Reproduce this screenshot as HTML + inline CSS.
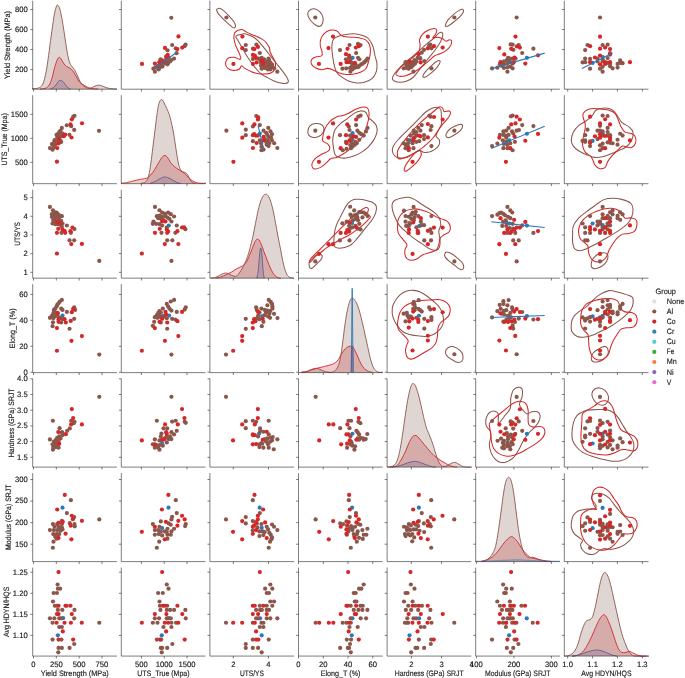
<!DOCTYPE html><html><head><meta charset="utf-8"><style>html,body{margin:0;padding:0;background:#fff;}svg{display:block;will-change:transform;text-rendering:geometricPrecision;}</style></head><body><svg width="685" height="678" viewBox="0 0 685 678" font-family="&quot;Liberation Sans&quot;, sans-serif"><path d="M32.00 88.72C32.89 88.65 35.76 88.72 37.31 88.32C38.86 87.92 40.19 87.55 41.30 86.33C42.40 85.11 43.07 83.89 43.95 81.02C44.84 78.14 45.72 74.15 46.61 69.06C47.49 63.97 48.38 56.89 49.27 50.47C50.15 44.05 51.04 36.74 51.92 30.55C52.81 24.35 53.80 17.38 54.58 13.28C55.35 9.19 56.02 7.30 56.57 5.98C57.12 4.65 57.35 4.76 57.90 5.31C58.45 5.87 59.23 7.08 59.89 9.30C60.55 11.51 61.22 15.05 61.88 18.59C62.55 22.14 63.21 26.34 63.88 30.55C64.54 34.75 65.20 39.62 65.87 43.83C66.53 48.03 67.20 52.57 67.86 55.78C68.52 58.99 69.19 61.32 69.85 63.09C70.52 64.86 71.07 65.30 71.84 66.41C72.62 67.51 73.61 68.29 74.50 69.73C75.39 71.17 76.27 73.16 77.16 75.04C78.04 76.92 78.93 79.36 79.81 81.02C80.70 82.68 81.58 84.00 82.47 85.00C83.35 86.00 84.13 86.44 85.12 86.99C86.12 87.55 87.45 88.17 88.45 88.32C89.44 88.48 90.11 88.25 91.10 87.92C92.10 87.59 93.32 86.77 94.42 86.33C95.53 85.89 96.75 85.42 97.74 85.27C98.74 85.11 99.40 85.18 100.40 85.40C101.39 85.62 102.61 86.17 103.72 86.59C104.83 87.01 105.71 87.57 107.04 87.92C108.37 88.28 110.03 88.54 111.69 88.72C113.35 88.90 116.11 88.94 117.00 88.98L117.00 89.20L32.00 89.20Z" fill="#7f5a54" fill-opacity="0.25" stroke="none"/><path d="M32.00 88.72C32.89 88.65 35.76 88.72 37.31 88.32C38.86 87.92 40.19 87.55 41.30 86.33C42.40 85.11 43.07 83.89 43.95 81.02C44.84 78.14 45.72 74.15 46.61 69.06C47.49 63.97 48.38 56.89 49.27 50.47C50.15 44.05 51.04 36.74 51.92 30.55C52.81 24.35 53.80 17.38 54.58 13.28C55.35 9.19 56.02 7.30 56.57 5.98C57.12 4.65 57.35 4.76 57.90 5.31C58.45 5.87 59.23 7.08 59.89 9.30C60.55 11.51 61.22 15.05 61.88 18.59C62.55 22.14 63.21 26.34 63.88 30.55C64.54 34.75 65.20 39.62 65.87 43.83C66.53 48.03 67.20 52.57 67.86 55.78C68.52 58.99 69.19 61.32 69.85 63.09C70.52 64.86 71.07 65.30 71.84 66.41C72.62 67.51 73.61 68.29 74.50 69.73C75.39 71.17 76.27 73.16 77.16 75.04C78.04 76.92 78.93 79.36 79.81 81.02C80.70 82.68 81.58 84.00 82.47 85.00C83.35 86.00 84.13 86.44 85.12 86.99C86.12 87.55 87.45 88.17 88.45 88.32C89.44 88.48 90.11 88.25 91.10 87.92C92.10 87.59 93.32 86.77 94.42 86.33C95.53 85.89 96.75 85.42 97.74 85.27C98.74 85.11 99.40 85.18 100.40 85.40C101.39 85.62 102.61 86.17 103.72 86.59C104.83 87.01 105.71 87.57 107.04 87.92C108.37 88.28 110.03 88.54 111.69 88.72C113.35 88.90 116.11 88.94 117.00 88.98" fill="none" stroke="#8c564b" stroke-width="0.9"/><path d="M39.97 88.98C40.85 88.87 43.73 88.98 45.28 88.32C46.83 87.66 48.16 86.66 49.27 85.00C50.37 83.34 51.04 81.24 51.92 78.36C52.81 75.48 53.69 70.83 54.58 67.73C55.46 64.64 56.46 61.49 57.23 59.77C58.01 58.04 58.56 57.49 59.23 57.38C59.89 57.26 60.44 58.04 61.22 59.10C61.99 60.16 62.99 62.53 63.88 63.75C64.76 64.97 65.65 65.74 66.53 66.41C67.42 67.07 68.30 67.18 69.19 67.73C70.07 68.29 71.07 68.95 71.84 69.73C72.62 70.50 73.06 71.17 73.84 72.38C74.61 73.60 75.61 75.48 76.49 77.03C77.38 78.58 78.15 80.46 79.15 81.68C80.14 82.90 81.25 83.52 82.47 84.34C83.69 85.15 85.35 86.00 86.45 86.59C87.56 87.19 88.00 87.57 89.11 87.92C90.22 88.28 91.54 88.54 93.09 88.72C94.64 88.90 97.52 88.94 98.41 88.98L98.41 89.20L39.97 89.20Z" fill="#bc2e33" fill-opacity="0.25" stroke="none"/><path d="M39.97 88.98C40.85 88.87 43.73 88.98 45.28 88.32C46.83 87.66 48.16 86.66 49.27 85.00C50.37 83.34 51.04 81.24 51.92 78.36C52.81 75.48 53.69 70.83 54.58 67.73C55.46 64.64 56.46 61.49 57.23 59.77C58.01 58.04 58.56 57.49 59.23 57.38C59.89 57.26 60.44 58.04 61.22 59.10C61.99 60.16 62.99 62.53 63.88 63.75C64.76 64.97 65.65 65.74 66.53 66.41C67.42 67.07 68.30 67.18 69.19 67.73C70.07 68.29 71.07 68.95 71.84 69.73C72.62 70.50 73.06 71.17 73.84 72.38C74.61 73.60 75.61 75.48 76.49 77.03C77.38 78.58 78.15 80.46 79.15 81.68C80.14 82.90 81.25 83.52 82.47 84.34C83.69 85.15 85.35 86.00 86.45 86.59C87.56 87.19 88.00 87.57 89.11 87.92C90.22 88.28 91.54 88.54 93.09 88.72C94.64 88.90 97.52 88.94 98.41 88.98" fill="none" stroke="#d62728" stroke-width="0.9"/><path d="M50.59 88.98C51.04 88.76 52.36 88.32 53.25 87.66C54.14 86.99 55.02 86.06 55.91 85.00C56.79 83.94 57.79 82.06 58.56 81.28C59.34 80.51 59.89 80.35 60.55 80.35C61.22 80.35 61.77 80.62 62.55 81.28C63.32 81.95 64.32 83.27 65.20 84.34C66.09 85.40 66.97 86.88 67.86 87.66C68.74 88.43 70.07 88.76 70.52 88.98L70.52 89.20L50.59 89.20Z" fill="#6a6590" fill-opacity="0.25" stroke="none"/><path d="M50.59 88.98C51.04 88.76 52.36 88.32 53.25 87.66C54.14 86.99 55.02 86.06 55.91 85.00C56.79 83.94 57.79 82.06 58.56 81.28C59.34 80.51 59.89 80.35 60.55 80.35C61.22 80.35 61.77 80.62 62.55 81.28C63.32 81.95 64.32 83.27 65.20 84.34C66.09 85.40 66.97 86.88 67.86 87.66C68.74 88.43 70.07 88.76 70.52 88.98" fill="none" stroke="#5f5e8c" stroke-width="0.9"/><path d="M140.92 183.25C141.48 183.16 143.25 183.21 144.24 182.72C145.24 182.23 146.12 181.61 146.90 180.33C147.67 179.04 148.23 177.89 148.89 175.02C149.55 172.14 150.22 167.71 150.88 163.06C151.55 158.41 152.21 152.44 152.88 147.12C153.54 141.81 154.20 136.50 154.87 131.19C155.53 125.88 156.31 119.35 156.86 115.25C157.41 111.15 157.74 108.83 158.19 106.62C158.63 104.40 159.12 103.08 159.52 101.97C159.91 100.86 160.25 100.40 160.58 99.98C160.91 99.56 161.18 99.42 161.51 99.45C161.84 99.47 162.13 99.51 162.57 100.11C163.01 100.71 163.46 101.61 164.16 103.03C164.87 104.45 165.93 106.57 166.82 108.61C167.71 110.65 168.59 112.37 169.48 115.25C170.36 118.13 171.36 122.33 172.13 125.88C172.91 129.42 173.46 132.52 174.12 136.50C174.79 140.48 175.45 145.58 176.12 149.78C176.78 153.99 177.45 158.52 178.11 161.73C178.77 164.94 179.33 167.38 180.10 169.04C180.88 170.70 181.87 171.10 182.76 171.70C183.64 172.29 184.64 172.18 185.41 172.62C186.19 173.07 186.74 173.40 187.41 174.35C188.07 175.30 188.73 177.12 189.40 178.34C190.06 179.55 190.73 180.88 191.39 181.66C192.05 182.43 192.72 182.72 193.38 182.98C194.05 183.25 195.04 183.21 195.38 183.25L195.38 183.68L140.92 183.68Z" fill="#7f5a54" fill-opacity="0.25" stroke="none"/><path d="M140.92 183.25C141.48 183.16 143.25 183.21 144.24 182.72C145.24 182.23 146.12 181.61 146.90 180.33C147.67 179.04 148.23 177.89 148.89 175.02C149.55 172.14 150.22 167.71 150.88 163.06C151.55 158.41 152.21 152.44 152.88 147.12C153.54 141.81 154.20 136.50 154.87 131.19C155.53 125.88 156.31 119.35 156.86 115.25C157.41 111.15 157.74 108.83 158.19 106.62C158.63 104.40 159.12 103.08 159.52 101.97C159.91 100.86 160.25 100.40 160.58 99.98C160.91 99.56 161.18 99.42 161.51 99.45C161.84 99.47 162.13 99.51 162.57 100.11C163.01 100.71 163.46 101.61 164.16 103.03C164.87 104.45 165.93 106.57 166.82 108.61C167.71 110.65 168.59 112.37 169.48 115.25C170.36 118.13 171.36 122.33 172.13 125.88C172.91 129.42 173.46 132.52 174.12 136.50C174.79 140.48 175.45 145.58 176.12 149.78C176.78 153.99 177.45 158.52 178.11 161.73C178.77 164.94 179.33 167.38 180.10 169.04C180.88 170.70 181.87 171.10 182.76 171.70C183.64 172.29 184.64 172.18 185.41 172.62C186.19 173.07 186.74 173.40 187.41 174.35C188.07 175.30 188.73 177.12 189.40 178.34C190.06 179.55 190.73 180.88 191.39 181.66C192.05 182.43 192.72 182.72 193.38 182.98C194.05 183.25 195.04 183.21 195.38 183.25" fill="none" stroke="#8c564b" stroke-width="0.9"/><path d="M121.00 183.25C121.89 183.16 124.54 183.03 126.31 182.72C128.08 182.41 129.85 181.83 131.62 181.39C133.40 180.95 135.17 180.46 136.94 180.06C138.71 179.66 140.70 179.29 142.25 179.00C143.80 178.71 145.13 178.73 146.23 178.34C147.34 177.94 147.78 177.61 148.89 176.61C150.00 175.61 151.55 174.17 152.88 172.36C154.20 170.54 155.53 167.93 156.86 165.72C158.19 163.51 159.91 160.58 160.84 159.08C161.77 157.57 161.88 157.29 162.44 156.69C162.99 156.09 163.59 155.65 164.16 155.49C164.74 155.34 165.29 155.38 165.89 155.76C166.49 156.13 167.04 156.75 167.75 157.75C168.46 158.75 169.30 160.52 170.14 161.73C170.98 162.95 171.69 163.95 172.80 165.05C173.90 166.16 175.45 167.38 176.78 168.38C178.11 169.37 179.44 170.15 180.77 171.03C182.09 171.92 183.42 172.58 184.75 173.69C186.08 174.79 187.41 176.45 188.73 177.67C190.06 178.89 191.39 180.15 192.72 180.99C194.05 181.83 195.38 182.34 196.70 182.72C198.03 183.10 199.14 183.16 200.69 183.25C202.24 183.34 205.11 183.25 206.00 183.25L206.00 183.68L121.00 183.68Z" fill="#bc2e33" fill-opacity="0.25" stroke="none"/><path d="M121.00 183.25C121.89 183.16 124.54 183.03 126.31 182.72C128.08 182.41 129.85 181.83 131.62 181.39C133.40 180.95 135.17 180.46 136.94 180.06C138.71 179.66 140.70 179.29 142.25 179.00C143.80 178.71 145.13 178.73 146.23 178.34C147.34 177.94 147.78 177.61 148.89 176.61C150.00 175.61 151.55 174.17 152.88 172.36C154.20 170.54 155.53 167.93 156.86 165.72C158.19 163.51 159.91 160.58 160.84 159.08C161.77 157.57 161.88 157.29 162.44 156.69C162.99 156.09 163.59 155.65 164.16 155.49C164.74 155.34 165.29 155.38 165.89 155.76C166.49 156.13 167.04 156.75 167.75 157.75C168.46 158.75 169.30 160.52 170.14 161.73C170.98 162.95 171.69 163.95 172.80 165.05C173.90 166.16 175.45 167.38 176.78 168.38C178.11 169.37 179.44 170.15 180.77 171.03C182.09 171.92 183.42 172.58 184.75 173.69C186.08 174.79 187.41 176.45 188.73 177.67C190.06 178.89 191.39 180.15 192.72 180.99C194.05 181.83 195.38 182.34 196.70 182.72C198.03 183.10 199.14 183.16 200.69 183.25C202.24 183.34 205.11 183.25 206.00 183.25" fill="none" stroke="#d62728" stroke-width="0.9"/><path d="M150.22 183.25C150.88 183.03 152.88 182.52 154.20 181.92C155.53 181.32 156.97 180.33 158.19 179.66C159.40 179.00 160.62 178.36 161.51 177.94C162.39 177.52 162.84 177.30 163.50 177.14C164.16 176.99 164.83 176.94 165.49 177.01C166.16 177.07 166.60 177.21 167.48 177.54C168.37 177.87 169.70 178.42 170.80 179.00C171.91 179.58 172.91 180.33 174.12 180.99C175.34 181.66 177.00 182.61 178.11 182.98C179.22 183.36 180.32 183.21 180.77 183.25L180.77 183.68L150.22 183.68Z" fill="#6a6590" fill-opacity="0.25" stroke="none"/><path d="M150.22 183.25C150.88 183.03 152.88 182.52 154.20 181.92C155.53 181.32 156.97 180.33 158.19 179.66C159.40 179.00 160.62 178.36 161.51 177.94C162.39 177.52 162.84 177.30 163.50 177.14C164.16 176.99 164.83 176.94 165.49 177.01C166.16 177.07 166.60 177.21 167.48 177.54C168.37 177.87 169.70 178.42 170.80 179.00C171.91 179.58 172.91 180.33 174.12 180.99C175.34 181.66 177.00 182.61 178.11 182.98C179.22 183.36 180.32 183.21 180.77 183.25" fill="none" stroke="#5f5e8c" stroke-width="0.9"/><path d="M210.33 278.16C211.21 278.02 213.87 277.90 215.64 277.32C217.41 276.74 219.40 275.37 220.95 274.66C222.50 273.96 223.72 273.25 224.94 273.07C226.15 272.89 227.15 273.23 228.26 273.60C229.36 273.98 230.47 274.86 231.58 275.33C232.68 275.79 233.90 276.39 234.90 276.39C235.89 276.39 236.56 276.28 237.55 275.33C238.55 274.38 239.77 272.45 240.88 270.68C241.98 268.91 243.09 267.03 244.20 264.70C245.30 262.38 246.52 259.61 247.52 256.73C248.51 253.86 249.29 250.76 250.17 247.44C251.06 244.12 251.94 240.80 252.83 236.81C253.71 232.83 254.60 227.96 255.48 223.53C256.37 219.10 257.26 214.01 258.14 210.25C259.03 206.49 259.91 203.39 260.80 200.95C261.68 198.52 262.68 196.75 263.45 195.64C264.23 194.53 264.78 194.42 265.45 194.31C266.11 194.20 266.66 194.09 267.44 194.98C268.21 195.86 269.21 197.30 270.09 199.62C270.98 201.95 271.86 205.16 272.75 208.92C273.64 212.68 274.52 217.55 275.41 222.20C276.29 226.85 277.18 232.16 278.06 236.81C278.95 241.46 279.94 246.11 280.72 250.09C281.49 254.08 282.05 257.62 282.71 260.72C283.38 263.82 284.04 266.47 284.70 268.69C285.37 270.90 286.03 272.67 286.70 274.00C287.36 275.33 287.91 275.99 288.69 276.66C289.46 277.32 290.46 277.73 291.34 277.98C292.23 278.24 293.56 278.13 294.00 278.16L294.00 278.16L210.33 278.16Z" fill="#7f5a54" fill-opacity="0.25" stroke="none"/><path d="M210.33 278.16C211.21 278.02 213.87 277.90 215.64 277.32C217.41 276.74 219.40 275.37 220.95 274.66C222.50 273.96 223.72 273.25 224.94 273.07C226.15 272.89 227.15 273.23 228.26 273.60C229.36 273.98 230.47 274.86 231.58 275.33C232.68 275.79 233.90 276.39 234.90 276.39C235.89 276.39 236.56 276.28 237.55 275.33C238.55 274.38 239.77 272.45 240.88 270.68C241.98 268.91 243.09 267.03 244.20 264.70C245.30 262.38 246.52 259.61 247.52 256.73C248.51 253.86 249.29 250.76 250.17 247.44C251.06 244.12 251.94 240.80 252.83 236.81C253.71 232.83 254.60 227.96 255.48 223.53C256.37 219.10 257.26 214.01 258.14 210.25C259.03 206.49 259.91 203.39 260.80 200.95C261.68 198.52 262.68 196.75 263.45 195.64C264.23 194.53 264.78 194.42 265.45 194.31C266.11 194.20 266.66 194.09 267.44 194.98C268.21 195.86 269.21 197.30 270.09 199.62C270.98 201.95 271.86 205.16 272.75 208.92C273.64 212.68 274.52 217.55 275.41 222.20C276.29 226.85 277.18 232.16 278.06 236.81C278.95 241.46 279.94 246.11 280.72 250.09C281.49 254.08 282.05 257.62 282.71 260.72C283.38 263.82 284.04 266.47 284.70 268.69C285.37 270.90 286.03 272.67 286.70 274.00C287.36 275.33 287.91 275.99 288.69 276.66C289.46 277.32 290.46 277.73 291.34 277.98C292.23 278.24 293.56 278.13 294.00 278.16" fill="none" stroke="#8c564b" stroke-width="0.9"/><path d="M215.64 278.16C216.53 277.95 219.18 277.50 220.95 276.92C222.72 276.34 224.49 275.48 226.27 274.66C228.04 273.85 229.81 273.00 231.58 272.01C233.35 271.01 235.34 269.57 236.89 268.69C238.44 267.80 239.66 267.36 240.88 266.70C242.09 266.03 243.20 265.59 244.20 264.70C245.19 263.82 245.97 262.93 246.85 261.38C247.74 259.83 248.62 257.51 249.51 255.41C250.39 253.30 251.28 250.98 252.16 248.77C253.05 246.55 254.20 243.54 254.82 242.12C255.44 240.71 255.51 240.75 255.88 240.27C256.26 239.78 256.66 239.36 257.08 239.20C257.50 239.05 257.96 239.03 258.41 239.34C258.85 239.65 259.23 240.15 259.73 241.06C260.24 241.97 260.73 242.94 261.46 244.78C262.19 246.62 263.12 249.43 264.12 252.09C265.11 254.74 266.44 258.17 267.44 260.72C268.43 263.26 269.21 265.37 270.09 267.36C270.98 269.35 271.86 271.23 272.75 272.67C273.64 274.11 274.52 275.15 275.41 275.99C276.29 276.83 277.18 277.36 278.06 277.72C278.95 278.08 280.28 278.09 280.72 278.16L280.72 278.16L215.64 278.16Z" fill="#bc2e33" fill-opacity="0.25" stroke="none"/><path d="M215.64 278.16C216.53 277.95 219.18 277.50 220.95 276.92C222.72 276.34 224.49 275.48 226.27 274.66C228.04 273.85 229.81 273.00 231.58 272.01C233.35 271.01 235.34 269.57 236.89 268.69C238.44 267.80 239.66 267.36 240.88 266.70C242.09 266.03 243.20 265.59 244.20 264.70C245.19 263.82 245.97 262.93 246.85 261.38C247.74 259.83 248.62 257.51 249.51 255.41C250.39 253.30 251.28 250.98 252.16 248.77C253.05 246.55 254.20 243.54 254.82 242.12C255.44 240.71 255.51 240.75 255.88 240.27C256.26 239.78 256.66 239.36 257.08 239.20C257.50 239.05 257.96 239.03 258.41 239.34C258.85 239.65 259.23 240.15 259.73 241.06C260.24 241.97 260.73 242.94 261.46 244.78C262.19 246.62 263.12 249.43 264.12 252.09C265.11 254.74 266.44 258.17 267.44 260.72C268.43 263.26 269.21 265.37 270.09 267.36C270.98 269.35 271.86 271.23 272.75 272.67C273.64 274.11 274.52 275.15 275.41 275.99C276.29 276.83 277.18 277.36 278.06 277.72C278.95 278.08 280.28 278.09 280.72 278.16" fill="none" stroke="#d62728" stroke-width="0.9"/><path d="M256.81 278.16C257.03 277.02 257.74 274.47 258.14 271.34C258.54 268.22 258.87 262.93 259.20 259.39C259.54 255.85 259.87 251.98 260.13 250.09C260.40 248.21 260.55 247.88 260.80 248.10C261.04 248.32 261.33 249.32 261.59 251.42C261.86 253.52 262.12 257.40 262.39 260.72C262.66 264.04 262.90 268.44 263.19 271.34C263.48 274.25 263.96 277.02 264.12 278.16L264.12 278.16L256.81 278.16Z" fill="#6a6590" fill-opacity="0.25" stroke="none"/><path d="M256.81 278.16C257.03 277.02 257.74 274.47 258.14 271.34C258.54 268.22 258.87 262.93 259.20 259.39C259.54 255.85 259.87 251.98 260.13 250.09C260.40 248.21 260.55 247.88 260.80 248.10C261.04 248.32 261.33 249.32 261.59 251.42C261.86 253.52 262.12 257.40 262.39 260.72C262.66 264.04 262.90 268.44 263.19 271.34C263.48 274.25 263.96 277.02 264.12 278.16" fill="none" stroke="#5f5e8c" stroke-width="0.9"/><path d="M301.98 372.25C302.87 372.10 305.75 371.76 307.30 371.32C308.85 370.88 309.95 370.10 311.28 369.59C312.61 369.08 313.94 368.35 315.27 368.27C316.59 368.18 317.92 368.62 319.25 369.06C320.58 369.51 321.91 370.43 323.23 370.92C324.56 371.41 325.89 371.76 327.22 371.98C328.55 372.21 329.88 372.47 331.20 372.25C332.53 372.03 333.97 371.81 335.19 370.66C336.40 369.51 337.62 367.56 338.51 365.34C339.39 363.13 339.84 360.92 340.50 357.38C341.16 353.83 341.83 348.96 342.49 344.09C343.16 339.22 343.82 333.03 344.48 328.16C345.15 323.29 345.81 318.64 346.48 314.88C347.14 311.11 347.80 308.12 348.47 305.58C349.13 303.03 349.80 300.82 350.46 299.60C351.12 298.38 351.79 298.27 352.45 298.27C353.12 298.27 353.67 298.61 354.45 299.60C355.22 300.60 356.22 302.15 357.10 304.25C357.99 306.35 358.87 309.12 359.76 312.22C360.64 315.32 361.53 319.08 362.41 322.84C363.30 326.61 364.18 330.81 365.07 334.80C365.96 338.78 366.84 342.77 367.73 346.75C368.61 350.73 369.50 355.38 370.38 358.70C371.27 362.02 372.15 364.68 373.04 366.67C373.92 368.66 374.70 369.73 375.70 370.66C376.69 371.59 377.80 371.98 379.02 372.25C380.23 372.52 382.34 372.25 383.00 372.25L383.00 372.64L301.98 372.64Z" fill="#7f5a54" fill-opacity="0.25" stroke="none"/><path d="M301.98 372.25C302.87 372.10 305.75 371.76 307.30 371.32C308.85 370.88 309.95 370.10 311.28 369.59C312.61 369.08 313.94 368.35 315.27 368.27C316.59 368.18 317.92 368.62 319.25 369.06C320.58 369.51 321.91 370.43 323.23 370.92C324.56 371.41 325.89 371.76 327.22 371.98C328.55 372.21 329.88 372.47 331.20 372.25C332.53 372.03 333.97 371.81 335.19 370.66C336.40 369.51 337.62 367.56 338.51 365.34C339.39 363.13 339.84 360.92 340.50 357.38C341.16 353.83 341.83 348.96 342.49 344.09C343.16 339.22 343.82 333.03 344.48 328.16C345.15 323.29 345.81 318.64 346.48 314.88C347.14 311.11 347.80 308.12 348.47 305.58C349.13 303.03 349.80 300.82 350.46 299.60C351.12 298.38 351.79 298.27 352.45 298.27C353.12 298.27 353.67 298.61 354.45 299.60C355.22 300.60 356.22 302.15 357.10 304.25C357.99 306.35 358.87 309.12 359.76 312.22C360.64 315.32 361.53 319.08 362.41 322.84C363.30 326.61 364.18 330.81 365.07 334.80C365.96 338.78 366.84 342.77 367.73 346.75C368.61 350.73 369.50 355.38 370.38 358.70C371.27 362.02 372.15 364.68 373.04 366.67C373.92 368.66 374.70 369.73 375.70 370.66C376.69 371.59 377.80 371.98 379.02 372.25C380.23 372.52 382.34 372.25 383.00 372.25" fill="none" stroke="#8c564b" stroke-width="0.9"/><path d="M300.66 372.25C301.54 372.16 304.20 372.10 305.97 371.72C307.74 371.34 309.29 370.61 311.28 369.99C313.27 369.37 315.71 368.60 317.92 368.00C320.14 367.40 322.35 366.96 324.56 366.41C326.78 365.85 329.43 365.30 331.20 364.68C332.97 364.06 333.97 363.57 335.19 362.69C336.40 361.80 337.40 360.92 338.51 359.37C339.61 357.82 340.72 355.12 341.83 353.39C342.93 351.66 344.15 350.07 345.15 349.01C346.14 347.95 346.99 347.48 347.80 347.02C348.62 346.55 349.42 346.33 350.06 346.22C350.70 346.11 351.08 346.04 351.66 346.35C352.23 346.66 352.90 347.24 353.52 348.08C354.14 348.92 354.67 349.96 355.38 351.40C356.08 352.84 356.81 354.61 357.77 356.71C358.72 358.81 359.98 362.02 361.09 364.02C362.19 366.01 363.19 367.45 364.41 368.66C365.62 369.88 367.06 370.72 368.39 371.32C369.72 371.92 371.71 372.10 372.38 372.25L372.38 372.64L300.66 372.64Z" fill="#bc2e33" fill-opacity="0.25" stroke="none"/><path d="M300.66 372.25C301.54 372.16 304.20 372.10 305.97 371.72C307.74 371.34 309.29 370.61 311.28 369.99C313.27 369.37 315.71 368.60 317.92 368.00C320.14 367.40 322.35 366.96 324.56 366.41C326.78 365.85 329.43 365.30 331.20 364.68C332.97 364.06 333.97 363.57 335.19 362.69C336.40 361.80 337.40 360.92 338.51 359.37C339.61 357.82 340.72 355.12 341.83 353.39C342.93 351.66 344.15 350.07 345.15 349.01C346.14 347.95 346.99 347.48 347.80 347.02C348.62 346.55 349.42 346.33 350.06 346.22C350.70 346.11 351.08 346.04 351.66 346.35C352.23 346.66 352.90 347.24 353.52 348.08C354.14 348.92 354.67 349.96 355.38 351.40C356.08 352.84 356.81 354.61 357.77 356.71C358.72 358.81 359.98 362.02 361.09 364.02C362.19 366.01 363.19 367.45 364.41 368.66C365.62 369.88 367.06 370.72 368.39 371.32C369.72 371.92 371.71 372.10 372.38 372.25" fill="none" stroke="#d62728" stroke-width="0.9"/><path d="M351.26 372.25L351.66 336.12L352.05 290.97L352.19 288.31L352.32 290.97L352.72 336.12L353.12 372.25L353.12 372.64L351.26 372.64Z" fill="#6a6590" fill-opacity="0.25" stroke="none"/><path d="M351.26 372.25L351.66 336.12L352.05 290.97L352.19 288.31L352.32 290.97L352.72 336.12L353.12 372.25" fill="none" stroke="#2a7aba" stroke-width="0.9"/><clipPath id="spk"><rect x="290" y="346" width="100" height="30"/></clipPath><path d="M351.26 372.25L351.66 336.12L352.05 290.97L352.19 288.31L352.32 290.97L352.72 336.12L353.12 372.25" fill="none" stroke="#5f5e8c" stroke-width="0.9" clip-path="url(#spk)"/><path d="M387.00 467.12C387.66 467.05 389.77 467.07 390.98 466.72C392.20 466.36 393.31 465.94 394.30 464.99C395.30 464.04 396.08 463.22 396.96 461.01C397.85 458.79 398.73 455.81 399.62 451.71C400.50 447.62 401.39 442.08 402.27 436.44C403.16 430.79 404.04 423.82 404.93 417.84C405.82 411.87 406.70 405.45 407.59 400.58C408.47 395.71 409.47 391.39 410.24 388.62C411.02 385.86 411.68 384.82 412.23 383.98C412.79 383.14 413.01 383.25 413.56 383.58C414.12 383.91 414.78 384.24 415.55 385.97C416.33 387.70 417.33 390.84 418.21 393.94C419.10 397.04 419.98 400.80 420.87 404.56C421.75 408.33 422.64 412.75 423.52 416.52C424.41 420.28 425.29 424.26 426.18 427.14C427.07 430.02 427.95 431.57 428.84 433.78C429.72 435.99 430.61 437.99 431.49 440.42C432.38 442.86 433.37 445.96 434.15 448.39C434.92 450.83 435.48 453.04 436.14 455.03C436.80 457.02 437.47 458.79 438.13 460.34C438.80 461.89 439.35 463.33 440.12 464.33C440.90 465.32 441.79 465.99 442.78 466.32C443.78 466.65 444.99 466.65 446.10 466.32C447.21 465.99 448.43 464.88 449.42 464.33C450.42 463.77 451.19 463.33 452.08 463.00C452.96 462.67 453.85 462.27 454.73 462.34C455.62 462.40 456.51 462.96 457.39 463.40C458.28 463.84 459.05 464.44 460.05 464.99C461.04 465.55 462.04 466.36 463.37 466.72C464.70 467.07 466.58 467.05 468.02 467.12C469.45 467.19 471.34 467.12 472.00 467.12L472.00 467.12L387.00 467.12Z" fill="#7f5a54" fill-opacity="0.25" stroke="none"/><path d="M387.00 467.12C387.66 467.05 389.77 467.07 390.98 466.72C392.20 466.36 393.31 465.94 394.30 464.99C395.30 464.04 396.08 463.22 396.96 461.01C397.85 458.79 398.73 455.81 399.62 451.71C400.50 447.62 401.39 442.08 402.27 436.44C403.16 430.79 404.04 423.82 404.93 417.84C405.82 411.87 406.70 405.45 407.59 400.58C408.47 395.71 409.47 391.39 410.24 388.62C411.02 385.86 411.68 384.82 412.23 383.98C412.79 383.14 413.01 383.25 413.56 383.58C414.12 383.91 414.78 384.24 415.55 385.97C416.33 387.70 417.33 390.84 418.21 393.94C419.10 397.04 419.98 400.80 420.87 404.56C421.75 408.33 422.64 412.75 423.52 416.52C424.41 420.28 425.29 424.26 426.18 427.14C427.07 430.02 427.95 431.57 428.84 433.78C429.72 435.99 430.61 437.99 431.49 440.42C432.38 442.86 433.37 445.96 434.15 448.39C434.92 450.83 435.48 453.04 436.14 455.03C436.80 457.02 437.47 458.79 438.13 460.34C438.80 461.89 439.35 463.33 440.12 464.33C440.90 465.32 441.79 465.99 442.78 466.32C443.78 466.65 444.99 466.65 446.10 466.32C447.21 465.99 448.43 464.88 449.42 464.33C450.42 463.77 451.19 463.33 452.08 463.00C452.96 462.67 453.85 462.27 454.73 462.34C455.62 462.40 456.51 462.96 457.39 463.40C458.28 463.84 459.05 464.44 460.05 464.99C461.04 465.55 462.04 466.36 463.37 466.72C464.70 467.07 466.58 467.05 468.02 467.12C469.45 467.19 471.34 467.12 472.00 467.12" fill="none" stroke="#8c564b" stroke-width="0.9"/><path d="M389.66 467.12C390.32 467.05 392.31 467.07 393.64 466.72C394.97 466.36 396.30 466.28 397.62 464.99C398.95 463.71 400.28 461.34 401.61 459.02C402.94 456.69 404.38 453.70 405.59 451.05C406.81 448.39 407.81 445.40 408.91 443.08C410.02 440.75 411.24 438.39 412.23 437.10C413.23 435.82 414.01 435.49 414.89 435.38C415.78 435.26 416.55 435.60 417.55 436.44C418.54 437.28 419.76 439.09 420.87 440.42C421.97 441.75 423.08 443.08 424.19 444.41C425.29 445.73 426.40 447.06 427.51 448.39C428.61 449.72 429.72 451.16 430.83 452.38C431.93 453.59 433.04 454.70 434.15 455.70C435.26 456.69 436.25 457.47 437.47 458.35C438.69 459.24 440.12 460.19 441.45 461.01C442.78 461.83 444.11 462.54 445.44 463.27C446.77 464.00 448.09 464.82 449.42 465.39C450.75 465.97 452.08 466.43 453.41 466.72C454.73 467.01 456.73 467.05 457.39 467.12L457.39 467.12L389.66 467.12Z" fill="#bc2e33" fill-opacity="0.25" stroke="none"/><path d="M389.66 467.12C390.32 467.05 392.31 467.07 393.64 466.72C394.97 466.36 396.30 466.28 397.62 464.99C398.95 463.71 400.28 461.34 401.61 459.02C402.94 456.69 404.38 453.70 405.59 451.05C406.81 448.39 407.81 445.40 408.91 443.08C410.02 440.75 411.24 438.39 412.23 437.10C413.23 435.82 414.01 435.49 414.89 435.38C415.78 435.26 416.55 435.60 417.55 436.44C418.54 437.28 419.76 439.09 420.87 440.42C421.97 441.75 423.08 443.08 424.19 444.41C425.29 445.73 426.40 447.06 427.51 448.39C428.61 449.72 429.72 451.16 430.83 452.38C431.93 453.59 433.04 454.70 434.15 455.70C435.26 456.69 436.25 457.47 437.47 458.35C438.69 459.24 440.12 460.19 441.45 461.01C442.78 461.83 444.11 462.54 445.44 463.27C446.77 464.00 448.09 464.82 449.42 465.39C450.75 465.97 452.08 466.43 453.41 466.72C454.73 467.01 456.73 467.05 457.39 467.12" fill="none" stroke="#d62728" stroke-width="0.9"/><path d="M392.31 467.12C393.20 466.99 395.85 466.74 397.62 466.32C399.40 465.90 401.17 465.19 402.94 464.59C404.71 464.00 406.48 463.27 408.25 462.73C410.02 462.20 412.01 461.58 413.56 461.41C415.11 461.23 416.22 461.41 417.55 461.67C418.88 461.94 419.98 462.45 421.53 463.00C423.08 463.55 425.07 464.37 426.84 464.99C428.61 465.61 430.61 466.36 432.16 466.72C433.71 467.07 435.48 467.05 436.14 467.12L436.14 467.12L392.31 467.12Z" fill="#6a6590" fill-opacity="0.25" stroke="none"/><path d="M392.31 467.12C393.20 466.99 395.85 466.74 397.62 466.32C399.40 465.90 401.17 465.19 402.94 464.59C404.71 464.00 406.48 463.27 408.25 462.73C410.02 462.20 412.01 461.58 413.56 461.41C415.11 461.23 416.22 461.41 417.55 461.67C418.88 461.94 419.98 462.45 421.53 463.00C423.08 463.55 425.07 464.37 426.84 464.99C428.61 465.61 430.61 466.36 432.16 466.72C433.71 467.07 435.48 467.05 436.14 467.12" fill="none" stroke="#5f5e8c" stroke-width="0.9"/><path d="M481.64 561.25C482.30 561.10 484.30 560.92 485.62 560.32C486.95 559.72 488.39 558.88 489.61 557.66C490.83 556.45 491.93 554.90 492.93 553.02C493.93 551.13 494.81 549.25 495.59 546.38C496.36 543.50 496.91 539.73 497.58 535.75C498.24 531.77 498.91 527.12 499.57 522.47C500.23 517.82 500.90 512.73 501.56 507.86C502.23 502.99 502.89 497.46 503.55 493.25C504.22 489.04 504.88 485.17 505.55 482.62C506.21 480.08 506.92 478.82 507.54 477.98C508.16 477.14 508.71 477.25 509.27 477.58C509.82 477.91 510.26 478.24 510.86 479.97C511.46 481.70 512.19 484.40 512.85 487.94C513.52 491.48 514.18 496.35 514.84 501.22C515.51 506.09 516.17 512.07 516.84 517.16C517.50 522.25 518.16 527.56 518.83 531.77C519.49 535.97 520.16 539.40 520.82 542.39C521.48 545.38 522.04 547.59 522.81 549.70C523.59 551.80 524.47 553.68 525.47 555.01C526.46 556.34 527.68 557.29 528.79 557.66C529.90 558.04 531.00 557.20 532.11 557.27C533.22 557.33 534.32 557.66 535.43 558.06C536.54 558.46 537.53 559.21 538.75 559.66C539.97 560.10 541.41 560.45 542.73 560.72C544.06 560.98 546.05 561.16 546.72 561.25L546.72 561.60L481.64 561.60Z" fill="#7f5a54" fill-opacity="0.25" stroke="none"/><path d="M481.64 561.25C482.30 561.10 484.30 560.92 485.62 560.32C486.95 559.72 488.39 558.88 489.61 557.66C490.83 556.45 491.93 554.90 492.93 553.02C493.93 551.13 494.81 549.25 495.59 546.38C496.36 543.50 496.91 539.73 497.58 535.75C498.24 531.77 498.91 527.12 499.57 522.47C500.23 517.82 500.90 512.73 501.56 507.86C502.23 502.99 502.89 497.46 503.55 493.25C504.22 489.04 504.88 485.17 505.55 482.62C506.21 480.08 506.92 478.82 507.54 477.98C508.16 477.14 508.71 477.25 509.27 477.58C509.82 477.91 510.26 478.24 510.86 479.97C511.46 481.70 512.19 484.40 512.85 487.94C513.52 491.48 514.18 496.35 514.84 501.22C515.51 506.09 516.17 512.07 516.84 517.16C517.50 522.25 518.16 527.56 518.83 531.77C519.49 535.97 520.16 539.40 520.82 542.39C521.48 545.38 522.04 547.59 522.81 549.70C523.59 551.80 524.47 553.68 525.47 555.01C526.46 556.34 527.68 557.29 528.79 557.66C529.90 558.04 531.00 557.20 532.11 557.27C533.22 557.33 534.32 557.66 535.43 558.06C536.54 558.46 537.53 559.21 538.75 559.66C539.97 560.10 541.41 560.45 542.73 560.72C544.06 560.98 546.05 561.16 546.72 561.25" fill="none" stroke="#8c564b" stroke-width="0.9"/><path d="M481.64 561.25C482.53 561.03 485.18 560.63 486.95 559.92C488.72 559.21 490.49 558.37 492.27 557.00C494.04 555.63 495.81 553.79 497.58 551.69C499.35 549.58 501.23 546.49 502.89 544.38C504.55 542.28 506.17 540.35 507.54 539.07C508.91 537.79 510.02 536.86 511.12 536.68C512.23 536.50 513.12 537.17 514.18 538.01C515.24 538.85 516.39 540.22 517.50 541.73C518.61 543.23 519.71 545.38 520.82 547.04C521.93 548.70 523.03 550.36 524.14 551.69C525.25 553.02 526.35 554.01 527.46 555.01C528.57 556.00 529.56 557.07 530.78 557.66C532.00 558.26 533.44 558.31 534.77 558.59C536.09 558.88 537.42 559.10 538.75 559.39C540.08 559.68 541.41 560.05 542.73 560.32C544.06 560.59 545.39 560.83 546.72 560.98C548.05 561.14 550.04 561.21 550.70 561.25L550.70 561.60L481.64 561.60Z" fill="#bc2e33" fill-opacity="0.25" stroke="none"/><path d="M481.64 561.25C482.53 561.03 485.18 560.63 486.95 559.92C488.72 559.21 490.49 558.37 492.27 557.00C494.04 555.63 495.81 553.79 497.58 551.69C499.35 549.58 501.23 546.49 502.89 544.38C504.55 542.28 506.17 540.35 507.54 539.07C508.91 537.79 510.02 536.86 511.12 536.68C512.23 536.50 513.12 537.17 514.18 538.01C515.24 538.85 516.39 540.22 517.50 541.73C518.61 543.23 519.71 545.38 520.82 547.04C521.93 548.70 523.03 550.36 524.14 551.69C525.25 553.02 526.35 554.01 527.46 555.01C528.57 556.00 529.56 557.07 530.78 557.66C532.00 558.26 533.44 558.31 534.77 558.59C536.09 558.88 537.42 559.10 538.75 559.39C540.08 559.68 541.41 560.05 542.73 560.32C544.06 560.59 545.39 560.83 546.72 560.98C548.05 561.14 550.04 561.21 550.70 561.25" fill="none" stroke="#d62728" stroke-width="0.9"/><path d="M475.00 561.25C476.33 561.23 479.65 561.21 482.97 561.12C486.29 561.03 490.72 560.90 494.92 560.72C499.13 560.54 504.44 560.21 508.20 560.05C511.97 559.90 514.18 559.74 517.50 559.79C520.82 559.83 524.58 560.14 528.12 560.32C531.67 560.50 535.21 560.72 538.75 560.85C542.29 560.98 545.83 561.05 549.38 561.12C552.92 561.18 558.23 561.23 560.00 561.25L560.00 561.60L475.00 561.60Z" fill="#6a6590" fill-opacity="0.25" stroke="none"/><path d="M475.00 561.25C476.33 561.23 479.65 561.21 482.97 561.12C486.29 561.03 490.72 560.90 494.92 560.72C499.13 560.54 504.44 560.21 508.20 560.05C511.97 559.90 514.18 559.74 517.50 559.79C520.82 559.83 524.58 560.14 528.12 560.32C531.67 560.50 535.21 560.72 538.75 560.85C542.29 560.98 545.83 561.05 549.38 561.12C552.92 561.18 558.23 561.23 560.00 561.25" fill="none" stroke="#2a7aba" stroke-width="0.9" stroke-opacity="0.6"/><path d="M564.00 656.08C564.66 656.02 566.66 656.07 567.98 655.72C569.31 655.37 570.75 654.94 571.97 653.99C573.19 653.04 574.29 651.67 575.29 650.01C576.29 648.35 577.06 646.58 577.95 644.03C578.83 641.49 579.72 637.61 580.60 634.73C581.49 631.86 582.37 628.98 583.26 626.77C584.14 624.55 585.03 622.56 585.91 621.45C586.80 620.35 587.68 620.57 588.57 620.12C589.46 619.68 590.45 619.68 591.23 618.80C592.00 617.91 592.44 617.25 593.22 614.81C593.99 612.38 594.99 608.17 595.88 604.19C596.76 600.20 597.65 595.11 598.53 590.91C599.42 586.70 600.30 581.94 601.19 578.95C602.07 575.96 603.07 573.97 603.84 572.98C604.62 571.98 605.06 572.20 605.84 572.98C606.61 573.75 607.61 575.30 608.49 577.62C609.38 579.95 610.26 583.38 611.15 586.92C612.03 590.46 612.92 594.89 613.80 598.88C614.69 602.86 615.58 606.84 616.46 610.83C617.35 614.81 618.23 619.02 619.12 622.78C620.00 626.54 620.89 630.31 621.77 633.41C622.66 636.51 623.54 638.94 624.43 641.38C625.32 643.81 626.20 646.13 627.09 648.02C627.97 649.90 628.86 651.45 629.74 652.66C630.63 653.88 631.40 654.75 632.40 655.32C633.39 655.89 632.95 655.95 635.72 656.08C638.49 656.21 646.79 656.08 649.00 656.08L649.00 656.08L564.00 656.08Z" fill="#7f5a54" fill-opacity="0.25" stroke="none"/><path d="M564.00 656.08C564.66 656.02 566.66 656.07 567.98 655.72C569.31 655.37 570.75 654.94 571.97 653.99C573.19 653.04 574.29 651.67 575.29 650.01C576.29 648.35 577.06 646.58 577.95 644.03C578.83 641.49 579.72 637.61 580.60 634.73C581.49 631.86 582.37 628.98 583.26 626.77C584.14 624.55 585.03 622.56 585.91 621.45C586.80 620.35 587.68 620.57 588.57 620.12C589.46 619.68 590.45 619.68 591.23 618.80C592.00 617.91 592.44 617.25 593.22 614.81C593.99 612.38 594.99 608.17 595.88 604.19C596.76 600.20 597.65 595.11 598.53 590.91C599.42 586.70 600.30 581.94 601.19 578.95C602.07 575.96 603.07 573.97 603.84 572.98C604.62 571.98 605.06 572.20 605.84 572.98C606.61 573.75 607.61 575.30 608.49 577.62C609.38 579.95 610.26 583.38 611.15 586.92C612.03 590.46 612.92 594.89 613.80 598.88C614.69 602.86 615.58 606.84 616.46 610.83C617.35 614.81 618.23 619.02 619.12 622.78C620.00 626.54 620.89 630.31 621.77 633.41C622.66 636.51 623.54 638.94 624.43 641.38C625.32 643.81 626.20 646.13 627.09 648.02C627.97 649.90 628.86 651.45 629.74 652.66C630.63 653.88 631.40 654.75 632.40 655.32C633.39 655.89 632.95 655.95 635.72 656.08C638.49 656.21 646.79 656.08 649.00 656.08" fill="none" stroke="#8c564b" stroke-width="0.9"/><path d="M571.97 656.08C572.85 655.95 575.51 656.00 577.28 655.32C579.05 654.64 580.93 653.66 582.59 652.00C584.25 650.34 585.69 648.02 587.24 645.36C588.79 642.70 590.45 639.16 591.89 636.06C593.33 632.96 594.55 629.64 595.88 626.77C597.20 623.89 598.64 620.79 599.86 618.80C601.08 616.80 602.18 615.26 603.18 614.81C604.18 614.37 604.95 615.03 605.84 616.14C606.72 617.25 607.61 619.46 608.49 621.45C609.38 623.45 610.26 625.66 611.15 628.09C612.03 630.53 612.92 633.41 613.80 636.06C614.69 638.72 615.58 641.71 616.46 644.03C617.35 646.36 618.23 648.64 619.12 650.01C620.00 651.38 620.78 651.82 621.77 652.27C622.77 652.71 623.88 652.82 625.09 652.66C626.31 652.51 627.86 651.34 629.08 651.34C630.30 651.34 631.18 652.11 632.40 652.66C633.62 653.22 634.94 654.10 636.38 654.66C637.82 655.21 639.37 655.75 641.03 655.98C642.69 656.22 645.46 656.06 646.34 656.08L646.34 656.08L571.97 656.08Z" fill="#bc2e33" fill-opacity="0.25" stroke="none"/><path d="M571.97 656.08C572.85 655.95 575.51 656.00 577.28 655.32C579.05 654.64 580.93 653.66 582.59 652.00C584.25 650.34 585.69 648.02 587.24 645.36C588.79 642.70 590.45 639.16 591.89 636.06C593.33 632.96 594.55 629.64 595.88 626.77C597.20 623.89 598.64 620.79 599.86 618.80C601.08 616.80 602.18 615.26 603.18 614.81C604.18 614.37 604.95 615.03 605.84 616.14C606.72 617.25 607.61 619.46 608.49 621.45C609.38 623.45 610.26 625.66 611.15 628.09C612.03 630.53 612.92 633.41 613.80 636.06C614.69 638.72 615.58 641.71 616.46 644.03C617.35 646.36 618.23 648.64 619.12 650.01C620.00 651.38 620.78 651.82 621.77 652.27C622.77 652.71 623.88 652.82 625.09 652.66C626.31 652.51 627.86 651.34 629.08 651.34C630.30 651.34 631.18 652.11 632.40 652.66C633.62 653.22 634.94 654.10 636.38 654.66C637.82 655.21 639.37 655.75 641.03 655.98C642.69 656.22 645.46 656.06 646.34 656.08" fill="none" stroke="#d62728" stroke-width="0.9"/><path d="M571.97 656.08C572.85 655.95 575.51 655.73 577.28 655.32C579.05 654.91 580.82 654.19 582.59 653.59C584.36 653.00 586.14 652.27 587.91 651.73C589.68 651.20 591.67 650.69 593.22 650.41C594.77 650.12 595.88 649.96 597.20 650.01C598.53 650.05 599.64 650.23 601.19 650.67C602.74 651.11 604.73 651.96 606.50 652.66C608.27 653.37 610.04 654.35 611.81 654.92C613.58 655.49 616.24 655.89 617.12 656.08L617.12 656.08L571.97 656.08Z" fill="#6a6590" fill-opacity="0.25" stroke="none"/><path d="M571.97 656.08C572.85 655.95 575.51 655.73 577.28 655.32C579.05 654.91 580.82 654.19 582.59 653.59C584.36 653.00 586.14 652.27 587.91 651.73C589.68 651.20 591.67 650.69 593.22 650.41C594.77 650.12 595.88 649.96 597.20 650.01C598.53 650.05 599.64 650.23 601.19 650.67C602.74 651.11 604.73 651.96 606.50 652.66C608.27 653.37 610.04 654.35 611.81 654.92C613.58 655.49 616.24 655.89 617.12 656.08" fill="none" stroke="#5f5e8c" stroke-width="0.9"/><path d="M216.96 9.29C217.45 8.94 218.51 8.01 219.62 8.23C220.72 8.45 222.05 9.34 223.60 10.62C225.15 11.90 227.25 14.16 228.91 15.93C230.57 17.70 232.45 19.58 233.55 21.24C234.66 22.90 235.43 24.78 235.54 25.88C235.65 26.99 234.88 27.77 234.22 27.88C233.55 27.99 232.89 27.54 231.56 26.55C230.23 25.55 228.02 23.56 226.25 21.90C224.48 20.24 222.38 18.14 220.94 16.59C219.51 15.04 218.33 13.65 217.63 12.61C216.92 11.57 216.81 10.91 216.70 10.35C216.59 9.80 216.48 9.65 216.96 9.29Z" fill="none" stroke="#8c564b" stroke-width="1.05"/><path d="M236.21 35.84C236.80 35.44 238.09 35.11 239.52 34.78C240.96 34.45 243.06 33.72 244.83 33.85C246.60 33.98 248.37 34.80 250.14 35.58C251.91 36.35 253.68 37.12 255.45 38.50C257.22 39.87 258.99 41.81 260.76 43.81C262.53 45.80 264.30 48.23 266.07 50.44C267.84 52.65 269.61 54.87 271.38 57.08C273.15 59.29 274.92 61.50 276.69 63.72C278.45 65.93 280.33 68.14 281.99 70.35C283.65 72.57 285.58 75.11 286.64 76.99C287.70 78.87 288.47 80.58 288.36 81.64C288.25 82.70 287.26 83.14 285.98 83.36C284.69 83.58 282.66 83.36 280.67 82.96C278.68 82.57 276.24 81.86 274.03 80.97C271.82 80.09 269.61 78.87 267.40 77.65C265.18 76.44 262.97 75.55 260.76 73.67C258.55 71.79 256.34 69.14 254.12 66.37C251.91 63.61 249.48 60.18 247.49 57.08C245.50 53.98 243.84 50.66 242.18 47.79C240.52 44.91 238.57 41.59 237.53 39.82C236.49 38.05 236.16 37.83 235.94 37.17C235.72 36.50 235.61 36.24 236.21 35.84Z" fill="none" stroke="#8c564b" stroke-width="1.05"/><path d="M234.88 32.52C235.54 31.81 236.98 30.77 238.20 30.27C239.41 29.76 240.85 29.20 242.18 29.47C243.51 29.73 244.61 31.02 246.16 31.86C247.71 32.70 249.70 33.74 251.47 34.51C253.24 35.29 255.01 35.73 256.78 36.50C258.55 37.28 260.54 38.16 262.09 39.16C263.63 40.15 264.85 41.04 266.07 42.48C267.28 43.92 268.72 46.24 269.39 47.79C270.05 49.34 269.50 50.22 270.05 51.77C270.60 53.32 271.82 55.31 272.70 57.08C273.59 58.85 275.03 60.40 275.36 62.39C275.69 64.38 275.36 67.30 274.69 69.03C274.03 70.75 273.04 71.90 271.38 72.74C269.72 73.58 266.95 73.92 264.74 74.07C262.53 74.23 260.32 74.07 258.10 73.67C255.89 73.27 253.68 72.57 251.47 71.68C249.26 70.80 246.49 69.36 244.83 68.36C243.17 67.37 242.40 65.60 241.52 65.71C240.63 65.82 240.52 68.25 239.52 69.03C238.53 69.80 237.09 70.24 235.54 70.35C233.99 70.46 231.78 70.35 230.23 69.69C228.69 69.03 226.96 67.81 226.25 66.37C225.55 64.93 225.55 62.50 225.99 61.06C226.43 59.62 227.54 58.36 228.91 57.74C230.28 57.12 232.56 57.12 234.22 57.35C235.88 57.57 237.76 58.89 238.86 59.07C239.97 59.25 240.85 59.51 240.85 58.41C240.85 57.30 239.75 54.65 238.86 52.43C237.98 50.22 236.36 47.46 235.54 45.13C234.72 42.81 234.17 40.27 233.95 38.50C233.73 36.73 234.06 35.51 234.22 34.51C234.37 33.52 234.22 33.23 234.88 32.52Z" fill="none" stroke="#d62728" stroke-width="1.05"/><path d="M307.95 12.61C308.44 11.39 310.06 9.89 311.27 9.29C312.49 8.69 313.82 8.58 315.25 9.03C316.69 9.47 318.62 10.58 319.90 11.95C321.18 13.32 322.51 15.38 322.95 17.26C323.39 19.14 323.06 21.73 322.55 23.23C322.04 24.73 321.00 25.95 319.90 26.28C318.79 26.62 317.35 26.06 315.92 25.22C314.48 24.38 312.53 22.68 311.27 21.24C310.01 19.80 308.90 18.03 308.35 16.59C307.80 15.15 307.47 13.83 307.95 12.61Z" fill="none" stroke="#8c564b" stroke-width="1.05"/><path d="M333.17 39.82C334.17 37.94 335.93 37.35 337.81 36.50C339.69 35.66 341.80 35.22 344.45 34.78C347.10 34.34 350.87 33.78 353.74 33.85C356.62 33.92 359.27 34.40 361.70 35.18C364.14 35.95 366.46 36.62 368.34 38.50C370.22 40.38 371.88 43.58 372.98 46.46C374.09 49.34 374.31 52.88 374.98 55.75C375.64 58.63 376.74 61.06 376.97 63.72C377.19 66.37 377.08 69.25 376.30 71.68C375.53 74.12 374.31 76.55 372.32 78.32C370.33 80.09 367.01 81.53 364.36 82.30C361.70 83.08 359.05 83.19 356.40 82.96C353.74 82.74 350.87 81.97 348.43 80.97C346.00 79.98 343.68 78.32 341.80 76.99C339.92 75.66 338.37 74.78 337.15 73.01C335.93 71.24 335.23 69.03 334.50 66.37C333.77 63.72 333.21 60.18 332.77 57.08C332.33 53.98 331.78 50.66 331.84 47.79C331.91 44.91 332.17 41.70 333.17 39.82Z" fill="none" stroke="#8c564b" stroke-width="1.05"/><path d="M320.56 39.82C321.16 37.83 322.33 35.44 323.88 33.85C325.43 32.26 327.75 30.77 329.85 30.27C331.95 29.76 334.72 30.04 336.49 30.80C338.26 31.55 339.25 33.83 340.47 34.78C341.69 35.73 342.02 36.11 343.79 36.50C345.56 36.90 348.54 36.95 351.09 37.17C353.63 37.39 356.62 37.39 359.05 37.83C361.48 38.27 363.92 38.61 365.69 39.82C367.45 41.04 368.89 42.92 369.67 45.13C370.44 47.35 370.55 50.22 370.33 53.10C370.11 55.97 369.11 59.73 368.34 62.39C367.57 65.04 367.01 67.37 365.69 69.03C364.36 70.69 362.59 71.46 360.38 72.35C358.16 73.23 355.07 74.00 352.41 74.34C349.76 74.67 346.88 74.67 344.45 74.34C342.02 74.00 339.81 73.12 337.81 72.35C335.82 71.57 334.28 70.35 332.51 69.69C330.74 69.03 328.97 68.36 327.20 68.36C325.43 68.36 323.88 69.80 321.89 69.69C319.90 69.58 317.02 68.69 315.25 67.70C313.48 66.70 311.82 65.15 311.27 63.72C310.72 62.28 311.05 60.22 311.94 59.07C312.82 57.92 314.92 57.37 316.58 56.81C318.24 56.26 321.00 56.70 321.89 55.75C322.77 54.80 322.15 52.77 321.89 51.11C321.62 49.45 320.52 47.68 320.30 45.80C320.08 43.92 319.96 41.81 320.56 39.82Z" fill="none" stroke="#d62728" stroke-width="1.05"/><path d="M445.40 25.22C445.73 24.12 446.72 21.68 448.05 19.91C449.38 18.14 451.59 16.15 453.36 14.60C455.13 13.05 457.12 11.50 458.67 10.62C460.22 9.73 461.87 9.07 462.65 9.29C463.42 9.51 463.75 10.73 463.31 11.95C462.87 13.16 461.43 15.04 459.99 16.59C458.56 18.14 456.45 19.80 454.69 21.24C452.92 22.68 450.81 24.34 449.38 25.22C447.94 26.11 446.72 26.55 446.06 26.55C445.40 26.55 445.06 26.33 445.40 25.22Z" fill="none" stroke="#8c564b" stroke-width="1.05"/><path d="M422.83 76.33C422.94 75.40 424.16 73.34 425.49 71.68C426.81 70.02 429.03 68.03 430.80 66.37C432.57 64.71 434.60 62.65 436.10 61.73C437.61 60.80 439.27 60.46 439.82 60.80C440.37 61.13 440.15 62.35 439.42 63.72C438.69 65.09 437.10 67.26 435.44 69.03C433.78 70.80 431.24 72.96 429.47 74.34C427.70 75.71 425.93 76.92 424.82 77.26C423.72 77.59 422.72 77.26 422.83 76.33Z" fill="none" stroke="#8c564b" stroke-width="1.05"/><path d="M392.31 78.32C392.42 76.99 393.64 74.89 394.96 73.01C396.29 71.13 398.28 69.03 400.27 67.04C402.26 65.04 404.70 62.94 406.91 61.06C409.12 59.18 411.33 57.63 413.54 55.75C415.76 53.87 417.97 51.77 420.18 49.78C422.39 47.79 424.60 45.69 426.81 43.81C429.03 41.92 431.46 40.27 433.45 38.50C435.44 36.73 437.32 34.18 438.76 33.19C440.20 32.19 441.41 32.08 442.08 32.52C442.74 32.96 443.07 34.18 442.74 35.84C442.41 37.50 441.41 40.04 440.09 42.48C438.76 44.91 436.55 48.01 434.78 50.44C433.01 52.88 431.24 54.87 429.47 57.08C427.70 59.29 425.93 61.50 424.16 63.72C422.39 65.93 420.62 68.14 418.85 70.35C417.08 72.57 415.53 75.22 413.54 76.99C411.55 78.76 409.12 80.09 406.91 80.97C404.70 81.86 402.37 82.30 400.27 82.30C398.17 82.30 395.63 81.64 394.30 80.97C392.97 80.31 392.20 79.65 392.31 78.32Z" fill="none" stroke="#8c564b" stroke-width="1.05"/><path d="M396.29 73.01C397.17 71.57 399.61 68.36 401.60 66.37C403.59 64.38 406.02 62.83 408.23 61.06C410.45 59.29 413.10 57.30 414.87 55.75C416.64 54.20 417.97 53.54 418.85 51.77C419.74 50.00 420.07 47.12 420.18 45.13C420.29 43.14 419.07 41.70 419.52 39.82C419.96 37.94 421.40 35.44 422.83 33.85C424.27 32.26 426.26 31.15 428.14 30.27C430.02 29.38 432.68 28.54 434.11 28.54C435.55 28.54 436.55 29.27 436.77 30.27C436.99 31.26 436.10 33.25 435.44 34.51C434.78 35.77 432.46 37.39 432.79 37.83C433.12 38.27 435.77 37.01 437.43 37.17C439.09 37.32 441.30 38.10 442.74 38.76C444.18 39.42 444.95 40.97 446.06 41.15C447.16 41.33 448.43 39.82 449.38 39.82C450.33 39.82 451.65 40.04 451.77 41.15C451.88 42.26 451.10 44.80 450.04 46.46C448.98 48.12 447.05 49.89 445.40 51.11C443.74 52.32 441.86 52.99 440.09 53.76C438.32 54.54 436.33 54.87 434.78 55.75C433.23 56.64 432.34 57.74 430.80 59.07C429.25 60.40 427.48 62.06 425.49 63.72C423.50 65.38 421.06 67.48 418.85 69.03C416.64 70.58 414.43 71.90 412.22 73.01C410.00 74.12 407.68 75.11 405.58 75.66C403.48 76.22 401.16 76.44 399.61 76.33C398.06 76.22 396.84 75.55 396.29 75.00C395.74 74.45 395.41 74.45 396.29 73.01Z" fill="none" stroke="#d62728" stroke-width="1.05"/><path d="M307.95 130.84C308.17 129.34 308.73 127.01 309.94 125.80C311.16 124.58 313.37 123.76 315.25 123.54C317.13 123.32 319.79 123.69 321.23 124.47C322.66 125.24 323.66 126.68 323.88 128.19C324.10 129.69 323.55 132.06 322.55 133.50C321.56 134.93 319.57 136.19 317.91 136.81C316.25 137.43 314.15 137.54 312.60 137.21C311.05 136.88 309.39 135.88 308.62 134.82C307.84 133.76 307.73 132.35 307.95 130.84Z" fill="none" stroke="#8c564b" stroke-width="1.05"/><path d="M333.17 136.15C333.57 134.16 333.94 131.62 335.16 129.51C336.38 127.41 338.48 125.31 340.47 123.54C342.46 121.77 344.89 120.55 347.10 118.89C349.32 117.23 351.53 114.91 353.74 113.58C355.95 112.26 358.39 111.15 360.38 110.93C362.37 110.71 364.36 111.15 365.69 112.26C367.01 113.36 367.23 116.13 368.34 117.57C369.45 119.00 370.99 119.56 372.32 120.88C373.65 122.21 375.53 123.65 376.30 125.53C377.08 127.41 377.41 129.73 376.97 132.17C376.52 134.60 375.09 137.70 373.65 140.13C372.21 142.57 370.33 144.78 368.34 146.77C366.35 148.76 364.14 150.53 361.70 152.08C359.27 153.63 356.40 155.07 353.74 156.06C351.09 157.06 348.21 157.83 345.78 158.05C343.34 158.27 340.91 157.94 339.14 157.39C337.37 156.84 336.09 156.28 335.16 154.73C334.23 153.19 333.97 150.31 333.57 148.10C333.17 145.88 332.84 143.45 332.77 141.46C332.71 139.47 332.77 138.14 333.17 136.15Z" fill="none" stroke="#8c564b" stroke-width="1.05"/><path d="M322.55 138.81C322.77 136.81 323.33 132.39 324.54 129.51C325.76 126.64 327.86 123.65 329.85 121.55C331.84 119.45 334.28 117.90 336.49 116.90C338.70 115.91 341.02 116.24 343.12 115.58C345.22 114.91 347.10 113.92 349.10 112.92C351.09 111.92 352.97 110.55 355.07 109.60C357.17 108.65 359.71 107.54 361.70 107.21C363.69 106.88 365.80 106.77 367.01 107.61C368.23 108.45 368.78 110.15 369.00 112.26C369.22 114.36 368.89 117.35 368.34 120.22C367.79 123.10 366.79 126.64 365.69 129.51C364.58 132.39 363.25 135.04 361.70 137.48C360.16 139.91 358.39 142.12 356.40 144.12C354.40 146.11 351.97 147.77 349.76 149.42C347.55 151.08 345.34 152.74 343.12 154.07C340.91 155.40 338.59 156.62 336.49 157.39C334.39 158.16 332.17 157.83 330.52 158.72C328.86 159.60 328.19 161.26 326.53 162.70C324.88 164.14 322.66 166.35 320.56 167.35C318.46 168.34 315.36 169.23 313.93 168.67C312.49 168.12 311.71 165.69 311.94 164.03C312.16 162.37 313.59 160.38 315.25 158.72C316.91 157.06 319.79 155.29 321.89 154.07C323.99 152.85 326.53 152.41 327.86 151.42C329.19 150.42 329.85 149.31 329.85 148.10C329.85 146.88 328.97 145.22 327.86 144.12C326.76 143.01 324.10 142.35 323.22 141.46C322.33 140.58 322.33 140.80 322.55 138.81Z" fill="none" stroke="#d62728" stroke-width="1.05"/><path d="M446.06 134.16C446.55 132.94 447.94 130.84 449.38 129.51C450.81 128.19 452.81 127.08 454.69 126.19C456.57 125.31 459.33 124.20 460.66 124.20C461.98 124.20 462.76 125.09 462.65 126.19C462.54 127.30 461.32 129.40 459.99 130.84C458.67 132.28 456.45 133.72 454.69 134.82C452.92 135.93 450.75 137.15 449.38 137.48C448.01 137.81 447.01 137.37 446.46 136.81C445.90 136.26 445.57 135.38 446.06 134.16Z" fill="none" stroke="#8c564b" stroke-width="1.05"/><path d="M392.31 150.75C392.09 148.98 392.53 147.43 393.64 145.44C394.74 143.45 396.95 141.02 398.94 138.81C400.94 136.59 403.37 134.38 405.58 132.17C407.79 129.96 410.00 127.74 412.22 125.53C414.43 123.32 416.64 121.11 418.85 118.89C421.06 116.68 423.28 114.03 425.49 112.26C427.70 110.49 430.13 109.12 432.12 108.27C434.11 107.43 435.99 106.99 437.43 107.21C438.87 107.43 440.09 108.10 440.75 109.60C441.41 111.11 441.30 113.81 441.41 116.24C441.52 118.67 441.97 121.77 441.41 124.20C440.86 126.64 438.98 128.85 438.10 130.84C437.21 132.83 435.88 134.60 436.10 136.15C436.33 137.70 438.98 138.58 439.42 140.13C439.87 141.68 439.53 143.89 438.76 145.44C437.99 146.99 436.33 148.32 434.78 149.42C433.23 150.53 431.35 151.59 429.47 152.08C427.59 152.57 424.93 152.57 423.50 152.35C422.06 152.12 421.95 150.91 420.84 150.75C419.74 150.60 418.30 150.75 416.86 151.42C415.42 152.08 413.88 153.74 412.22 154.73C410.56 155.73 408.90 156.84 406.91 157.39C404.92 157.94 402.26 158.27 400.27 158.05C398.28 157.83 396.29 157.28 394.96 156.06C393.64 154.85 392.53 152.52 392.31 150.75Z" fill="none" stroke="#8c564b" stroke-width="1.05"/><path d="M397.62 156.06C397.51 154.78 396.95 152.74 397.62 150.75C398.28 148.76 400.05 146.33 401.60 144.12C403.15 141.90 404.92 139.91 406.91 137.48C408.90 135.04 411.11 132.17 413.54 129.51C415.98 126.86 418.85 123.98 421.51 121.55C424.16 119.12 426.81 117.12 429.47 114.91C432.12 112.70 435.66 109.65 437.43 108.27C439.20 106.90 439.20 106.68 440.09 106.68C440.97 106.68 442.08 107.46 442.74 108.27C443.40 109.09 442.96 111.15 444.07 111.59C445.17 112.04 448.31 110.60 449.38 110.93C450.44 111.26 450.77 112.26 450.44 113.58C450.11 114.91 448.67 117.12 447.39 118.89C446.10 120.66 444.18 122.43 442.74 124.20C441.30 125.97 440.31 127.30 438.76 129.51C437.21 131.73 435.44 135.04 433.45 137.48C431.46 139.91 429.03 142.12 426.81 144.12C424.60 146.11 422.39 147.88 420.18 149.42C417.97 150.97 415.76 152.19 413.54 153.41C411.33 154.62 408.90 155.84 406.91 156.73C404.92 157.61 403.04 158.43 401.60 158.72C400.16 159.00 398.94 158.89 398.28 158.45C397.62 158.01 397.73 157.35 397.62 156.06Z" fill="none" stroke="#d62728" stroke-width="1.05"/><path d="M404.25 170.66C403.92 170.00 404.25 168.23 404.92 166.68C405.58 165.13 406.80 163.36 408.23 161.37C409.67 159.38 411.88 156.50 413.54 154.73C415.20 152.96 416.97 151.31 418.19 150.75C419.40 150.20 420.40 150.53 420.84 151.42C421.28 152.30 421.40 154.40 420.84 156.06C420.29 157.72 418.96 159.60 417.52 161.37C416.09 163.14 413.99 165.13 412.22 166.68C410.45 168.23 408.23 170.00 406.91 170.66C405.58 171.33 404.58 171.33 404.25 170.66Z" fill="none" stroke="#d62728" stroke-width="1.05"/><path d="M571.30 140.13C571.30 137.81 572.07 134.60 573.29 132.17C574.51 129.73 576.61 127.30 578.60 125.53C580.59 123.76 583.02 123.10 585.23 121.55C587.45 120.00 590.10 118.12 591.87 116.24C593.64 114.36 594.08 111.59 595.85 110.27C597.62 108.94 600.28 108.56 602.49 108.27C604.70 107.99 607.13 107.99 609.12 108.54C611.11 109.09 612.88 110.09 614.43 111.59C615.98 113.10 617.09 115.69 618.41 117.57C619.74 119.45 620.63 121.33 622.40 122.88C624.16 124.42 627.26 125.31 629.03 126.86C630.80 128.41 632.57 129.96 633.01 132.17C633.45 134.38 632.79 137.70 631.69 140.13C630.58 142.57 628.59 145.00 626.38 146.77C624.16 148.54 621.07 149.54 618.41 150.75C615.76 151.97 613.10 153.08 610.45 154.07C607.80 155.07 605.14 156.17 602.49 156.73C599.83 157.28 597.18 157.72 594.52 157.39C591.87 157.06 589.22 155.84 586.56 154.73C583.91 153.63 580.81 152.19 578.60 150.75C576.39 149.31 574.51 147.88 573.29 146.11C572.07 144.34 571.30 142.46 571.30 140.13Z" fill="none" stroke="#8c564b" stroke-width="1.05"/><path d="M583.24 113.58C584.02 112.26 586.01 110.44 587.89 109.60C589.77 108.76 592.09 108.58 594.52 108.54C596.96 108.50 600.05 109.05 602.49 109.34C604.92 109.62 607.02 109.56 609.12 110.27C611.22 110.97 613.55 111.92 615.10 113.58C616.64 115.24 617.42 118.01 618.41 120.22C619.41 122.43 619.96 124.87 621.07 126.86C622.17 128.85 623.39 131.06 625.05 132.17C626.71 133.27 629.36 132.83 631.02 133.50C632.68 134.16 634.23 134.60 635.00 136.15C635.78 137.70 636.22 140.91 635.67 142.79C635.11 144.67 633.23 146.73 631.69 147.43C630.14 148.14 627.92 147.26 626.38 147.04C624.83 146.81 623.94 145.49 622.40 146.11C620.85 146.73 618.86 149.09 617.09 150.75C615.32 152.41 613.33 154.29 611.78 156.06C610.23 157.83 608.90 159.49 607.80 161.37C606.69 163.25 606.47 166.13 605.14 167.35C603.81 168.56 601.49 169.00 599.83 168.67C598.17 168.34 596.40 166.90 595.19 165.35C593.97 163.81 593.31 160.93 592.53 159.38C591.76 157.83 591.76 157.28 590.54 156.06C589.33 154.85 586.56 153.85 585.23 152.08C583.91 150.31 582.91 147.88 582.58 145.44C582.25 143.01 582.85 140.13 583.24 137.48C583.64 134.82 584.64 131.73 584.97 129.51C585.30 127.30 585.52 126.19 585.23 124.20C584.95 122.21 583.58 119.34 583.24 117.57C582.91 115.80 582.47 114.91 583.24 113.58Z" fill="none" stroke="#d62728" stroke-width="1.05"/><path d="M333.83 242.10C333.90 239.88 334.05 235.68 334.50 232.81C334.94 229.93 335.49 227.50 336.49 224.84C337.48 222.19 339.14 219.53 340.47 216.88C341.80 214.22 343.12 211.23 344.45 208.91C345.78 206.59 346.88 204.49 348.43 202.94C349.98 201.39 351.97 200.22 353.74 199.62C355.51 199.02 357.06 199.24 359.05 199.35C361.04 199.46 363.47 199.80 365.69 200.28C367.90 200.77 370.55 201.28 372.32 202.27C374.09 203.27 375.75 204.49 376.30 206.26C376.86 208.03 376.30 210.68 375.64 212.89C374.98 215.11 373.76 217.32 372.32 219.53C370.88 221.74 368.78 223.96 367.01 226.17C365.24 228.38 363.47 230.59 361.70 232.81C359.93 235.02 358.16 237.45 356.40 239.44C354.63 241.43 353.08 243.42 351.09 244.75C349.10 246.08 346.66 246.85 344.45 247.41C342.24 247.96 339.54 248.29 337.81 248.07C336.09 247.85 334.76 247.08 334.10 246.08C333.44 245.08 333.77 244.31 333.83 242.10Z" fill="none" stroke="#8c564b" stroke-width="1.05"/><path d="M309.28 265.99C309.17 265.00 308.73 263.34 309.28 262.01C309.83 260.68 311.16 259.35 312.60 258.03C314.04 256.70 316.36 254.49 317.91 254.04C319.46 253.60 321.34 254.49 321.89 255.37C322.44 256.26 322.00 258.03 321.23 259.35C320.45 260.68 318.68 261.90 317.24 263.34C315.81 264.77 313.82 267.21 312.60 267.98C311.38 268.76 310.50 268.31 309.94 267.98C309.39 267.65 309.39 266.99 309.28 265.99Z" fill="none" stroke="#8c564b" stroke-width="1.05"/><path d="M309.28 262.01C309.28 261.46 309.83 259.80 311.27 258.03C312.71 256.26 315.70 253.60 317.91 251.39C320.12 249.18 322.33 246.96 324.54 244.75C326.76 242.54 328.97 240.33 331.18 238.12C333.39 235.90 335.38 233.91 337.81 231.48C340.25 229.04 343.34 225.95 345.78 223.51C348.21 221.08 350.20 218.87 352.41 216.88C354.63 214.88 356.84 213.12 359.05 211.57C361.26 210.02 364.14 208.03 365.69 207.58C367.23 207.14 368.01 207.92 368.34 208.91C368.67 209.91 367.34 212.23 367.68 213.56C368.01 214.88 370.22 215.88 370.33 216.88C370.44 217.87 369.56 218.20 368.34 219.53C367.12 220.86 365.02 223.07 363.03 224.84C361.04 226.61 358.83 228.38 356.40 230.15C353.96 231.92 351.09 233.91 348.43 235.46C345.78 237.01 342.90 238.12 340.47 239.44C338.04 240.77 336.05 242.10 333.83 243.42C331.62 244.75 329.41 245.86 327.20 247.41C324.99 248.96 322.55 251.17 320.56 252.72C318.57 254.27 316.80 255.26 315.25 256.70C313.70 258.14 312.27 260.46 311.27 261.35C310.28 262.23 309.28 262.56 309.28 262.01Z" fill="none" stroke="#d62728" stroke-width="1.05"/><path d="M392.31 203.60C392.75 202.16 393.41 201.21 394.96 200.28C396.51 199.35 399.39 198.54 401.60 198.03C403.81 197.52 406.02 196.96 408.23 197.23C410.45 197.50 412.66 198.45 414.87 199.62C417.08 200.79 419.29 202.83 421.51 204.27C423.72 205.70 425.93 206.81 428.14 208.25C430.35 209.69 432.90 211.23 434.78 212.89C436.66 214.55 438.43 216.21 439.42 218.20C440.42 220.19 440.86 222.63 440.75 224.84C440.64 227.05 438.87 229.04 438.76 231.48C438.65 233.91 439.98 236.79 440.09 239.44C440.20 242.10 440.09 245.59 439.42 247.41C438.76 249.22 437.76 250.11 436.10 250.33C434.45 250.55 431.90 249.88 429.47 248.73C427.04 247.58 424.16 245.19 421.51 243.42C418.85 241.65 416.20 240.11 413.54 238.12C410.89 236.12 408.01 233.69 405.58 231.48C403.15 229.27 400.82 227.50 398.94 224.84C397.06 222.19 395.41 218.20 394.30 215.55C393.19 212.89 392.64 210.90 392.31 208.91C391.98 206.92 391.87 205.04 392.31 203.60Z" fill="none" stroke="#8c564b" stroke-width="1.05"/><path d="M444.73 254.04C444.95 253.16 445.51 252.05 446.72 252.05C447.94 252.05 450.26 253.05 452.03 254.04C453.80 255.04 455.57 256.48 457.34 258.03C459.11 259.58 461.65 261.57 462.65 263.34C463.64 265.11 463.75 267.65 463.31 268.65C462.87 269.64 461.43 269.86 459.99 269.31C458.56 268.76 456.45 266.65 454.69 265.33C452.92 264.00 450.92 262.67 449.38 261.35C447.83 260.02 446.17 258.58 445.40 257.36C444.62 256.15 444.51 254.93 444.73 254.04Z" fill="none" stroke="#8c564b" stroke-width="1.05"/><path d="M397.62 222.19C397.95 219.31 398.94 217.43 400.27 215.55C401.60 213.67 403.37 212.01 405.58 210.90C407.79 209.80 410.89 209.07 413.54 208.91C416.20 208.76 418.85 209.31 421.51 209.97C424.16 210.64 427.04 211.74 429.47 212.89C431.90 214.04 434.11 215.88 436.10 216.88C438.10 217.87 439.64 218.20 441.41 218.87C443.18 219.53 445.28 219.75 446.72 220.86C448.16 221.96 449.60 223.73 450.04 225.50C450.48 227.27 450.37 229.93 449.38 231.48C448.38 233.03 445.62 233.69 444.07 234.80C442.52 235.90 440.97 236.46 440.09 238.12C439.20 239.77 439.42 242.76 438.76 244.75C438.10 246.74 437.65 248.73 436.10 250.06C434.56 251.39 431.68 251.94 429.47 252.72C427.26 253.49 425.05 253.60 422.83 254.71C420.62 255.81 418.41 258.47 416.20 259.35C413.99 260.24 411.33 260.46 409.56 260.02C407.79 259.58 406.35 258.36 405.58 256.70C404.81 255.04 404.70 252.05 404.92 250.06C405.14 248.07 407.24 246.52 406.91 244.75C406.58 242.98 404.36 241.43 402.93 239.44C401.49 237.45 399.17 235.68 398.28 232.81C397.40 229.93 397.29 225.06 397.62 222.19Z" fill="none" stroke="#d62728" stroke-width="1.05"/><path d="M572.63 234.13C572.74 231.48 572.29 228.82 573.29 226.17C574.29 223.51 576.39 220.64 578.60 218.20C580.81 215.77 583.69 213.78 586.56 211.57C589.44 209.35 592.98 206.92 595.85 204.93C598.73 202.94 600.94 200.73 603.81 199.62C606.69 198.51 610.01 198.29 613.10 198.29C616.20 198.29 619.52 198.85 622.40 199.62C625.27 200.39 628.59 201.39 630.36 202.94C632.13 204.49 632.79 206.59 633.01 208.91C633.23 211.23 632.57 214.44 631.69 216.88C630.80 219.31 629.47 221.52 627.70 223.51C625.93 225.50 623.50 227.05 621.07 228.82C618.63 230.59 615.98 232.36 613.10 234.13C610.23 235.90 606.91 237.67 603.81 239.44C600.72 241.21 597.40 243.20 594.52 244.75C591.65 246.30 588.99 247.74 586.56 248.73C584.13 249.73 581.92 250.73 579.93 250.73C577.94 250.73 575.83 250.17 574.62 248.73C573.40 247.30 572.96 244.53 572.63 242.10C572.29 239.66 572.52 236.79 572.63 234.13Z" fill="none" stroke="#8c564b" stroke-width="1.05"/><path d="M591.21 264.66C591.32 263.34 591.54 261.01 592.53 259.35C593.53 257.69 595.41 255.81 597.18 254.71C598.95 253.60 601.49 252.83 603.15 252.72C604.81 252.61 606.36 253.16 607.13 254.04C607.91 254.93 608.13 256.48 607.80 258.03C607.46 259.58 606.47 261.79 605.14 263.34C603.81 264.88 601.60 266.43 599.83 267.32C598.06 268.20 595.85 268.65 594.52 268.65C593.20 268.65 592.42 267.98 591.87 267.32C591.32 266.65 591.10 265.99 591.21 264.66Z" fill="none" stroke="#8c564b" stroke-width="1.05"/><path d="M578.60 230.15C578.82 227.50 579.70 224.62 581.25 222.19C582.80 219.75 585.46 217.32 587.89 215.55C590.32 213.78 593.20 212.67 595.85 211.57C598.51 210.46 601.16 209.46 603.81 208.91C606.47 208.36 609.34 208.03 611.78 208.25C614.21 208.47 616.64 209.24 618.41 210.24C620.18 211.23 621.29 212.89 622.40 214.22C623.50 215.55 623.50 217.58 625.05 218.20C626.60 218.82 629.81 217.61 631.69 217.94C633.57 218.27 635.49 218.82 636.33 220.19C637.17 221.57 637.06 224.29 636.73 226.17C636.40 228.05 635.62 230.26 634.34 231.48C633.06 232.69 631.02 233.03 629.03 233.47C627.04 233.91 624.39 233.36 622.40 234.13C620.40 234.91 618.63 236.57 617.09 238.12C615.54 239.66 614.43 241.43 613.10 243.42C611.78 245.42 610.23 247.85 609.12 250.06C608.02 252.27 607.58 254.93 606.47 256.70C605.36 258.47 604.04 259.80 602.49 260.68C600.94 261.57 598.95 262.23 597.18 262.01C595.41 261.79 593.31 260.90 591.87 259.35C590.43 257.81 589.22 254.93 588.55 252.72C587.89 250.50 588.66 247.85 587.89 246.08C587.11 244.31 585.23 243.42 583.91 242.10C582.58 240.77 580.81 240.11 579.93 238.12C579.04 236.12 578.38 232.81 578.60 230.15Z" fill="none" stroke="#d62728" stroke-width="1.05"/><path d="M392.31 307.89C392.64 305.24 393.64 303.47 394.96 301.26C396.29 299.04 398.28 296.35 400.27 294.62C402.26 292.89 404.70 291.61 406.91 290.90C409.12 290.19 411.33 290.19 413.54 290.37C415.76 290.55 417.97 291.04 420.18 291.96C422.39 292.89 424.60 294.40 426.81 295.95C429.03 297.50 431.35 299.38 433.45 301.26C435.55 303.14 437.87 305.02 439.42 307.23C440.97 309.44 442.08 311.99 442.74 314.53C443.40 317.08 443.85 320.06 443.40 322.50C442.96 324.93 441.75 327.14 440.09 329.13C438.43 331.12 435.88 333.23 433.45 334.44C431.02 335.66 428.14 336.21 425.49 336.43C422.83 336.65 420.18 336.10 417.52 335.77C414.87 335.44 411.99 335.11 409.56 334.44C407.13 333.78 405.03 333.34 402.93 331.79C400.82 330.24 398.61 327.58 396.95 325.15C395.29 322.72 393.75 320.06 392.97 317.19C392.20 314.31 391.98 310.55 392.31 307.89Z" fill="none" stroke="#8c564b" stroke-width="1.05"/><path d="M445.40 351.70C445.51 350.26 446.72 348.56 448.05 347.72C449.38 346.88 451.37 346.21 453.36 346.65C455.35 347.10 458.40 348.87 459.99 350.37C461.59 351.88 462.58 353.91 462.91 355.68C463.25 357.45 462.91 359.88 461.98 360.99C461.06 362.10 459.00 362.54 457.34 362.32C455.68 362.10 453.69 360.66 452.03 359.66C450.37 358.67 448.49 357.67 447.39 356.35C446.28 355.02 445.28 353.14 445.40 351.70Z" fill="none" stroke="#8c564b" stroke-width="1.05"/><path d="M397.62 322.50C397.90 320.06 398.50 315.86 399.61 313.20C400.71 310.55 402.15 308.34 404.25 306.57C406.35 304.80 409.34 303.58 412.22 302.58C415.09 301.59 418.41 301.04 421.51 300.59C424.60 300.15 427.70 300.08 430.80 299.93C433.89 299.77 437.43 299.22 440.09 299.66C442.74 300.11 445.06 301.21 446.72 302.58C448.38 303.96 449.60 305.90 450.04 307.89C450.48 309.88 450.15 312.65 449.38 314.53C448.60 316.41 446.83 317.85 445.40 319.18C443.96 320.50 441.97 321.06 440.75 322.50C439.53 323.93 438.65 325.59 438.10 327.81C437.54 330.02 437.76 333.34 437.43 335.77C437.10 338.20 436.99 340.42 436.10 342.41C435.22 344.40 433.89 346.17 432.12 347.72C430.35 349.27 427.70 350.37 425.49 351.70C423.28 353.03 421.06 354.46 418.85 355.68C416.64 356.90 414.10 358.67 412.22 359.00C410.34 359.33 408.68 358.89 407.57 357.67C406.47 356.46 405.80 353.58 405.58 351.70C405.36 349.82 405.80 348.16 406.24 346.39C406.69 344.62 408.35 342.63 408.23 341.08C408.12 339.53 406.91 338.65 405.58 337.10C404.25 335.55 401.55 333.34 400.27 331.79C398.99 330.24 398.33 329.35 397.88 327.81C397.44 326.26 397.33 324.93 397.62 322.50Z" fill="none" stroke="#d62728" stroke-width="1.05"/><path d="M571.30 323.82C571.52 321.39 572.07 319.18 573.29 317.19C574.51 315.19 576.39 313.65 578.60 311.88C580.81 310.11 584.13 308.56 586.56 306.57C588.99 304.58 590.99 301.92 593.20 299.93C595.41 297.94 597.18 296.17 599.83 294.62C602.49 293.07 606.03 291.04 609.12 290.64C612.22 290.24 615.54 291.57 618.41 292.23C621.29 292.89 624.05 293.78 626.38 294.62C628.70 295.46 631.24 295.73 632.35 297.27C633.45 298.82 633.34 301.70 633.01 303.91C632.68 306.12 631.69 308.56 630.36 310.55C629.03 312.54 627.04 314.09 625.05 315.86C623.06 317.63 620.85 319.40 618.41 321.17C615.98 322.94 613.10 324.93 610.45 326.48C607.80 328.03 605.14 329.13 602.49 330.46C599.83 331.79 597.40 333.34 594.52 334.44C591.65 335.55 588.11 336.77 585.23 337.10C582.36 337.43 579.48 337.32 577.27 336.43C575.06 335.55 572.96 333.89 571.96 331.79C570.97 329.69 571.08 326.26 571.30 323.82Z" fill="none" stroke="#8c564b" stroke-width="1.05"/><path d="M591.21 358.34C591.21 356.90 591.98 354.58 593.20 353.03C594.41 351.48 596.63 350.15 598.51 349.04C600.39 347.94 602.93 346.39 604.48 346.39C606.03 346.39 607.24 347.72 607.80 349.04C608.35 350.37 608.46 352.69 607.80 354.35C607.13 356.01 605.36 357.78 603.81 359.00C602.27 360.22 600.28 361.21 598.51 361.65C596.74 362.10 594.41 362.21 593.20 361.65C591.98 361.10 591.21 359.77 591.21 358.34Z" fill="none" stroke="#8c564b" stroke-width="1.05"/><path d="M580.59 319.84C580.74 317.41 580.92 313.20 581.92 310.55C582.91 307.89 584.46 305.57 586.56 303.91C588.66 302.25 591.87 301.43 594.52 300.59C597.18 299.75 599.83 299.20 602.49 298.87C605.14 298.54 608.02 298.31 610.45 298.60C612.88 298.89 615.54 299.49 617.09 300.59C618.63 301.70 618.97 303.69 619.74 305.24C620.51 306.79 620.85 308.78 621.73 309.88C622.62 310.99 623.39 311.43 625.05 311.88C626.71 312.32 629.81 311.88 631.69 312.54C633.57 313.20 635.49 314.20 636.33 315.86C637.17 317.52 637.28 320.62 636.73 322.50C636.18 324.38 634.74 326.26 633.01 327.14C631.29 328.03 628.37 327.47 626.38 327.81C624.39 328.14 622.62 328.03 621.07 329.13C619.52 330.24 618.41 332.45 617.09 334.44C615.76 336.43 614.21 338.87 613.10 341.08C612.00 343.29 611.22 345.50 610.45 347.72C609.68 349.93 609.57 352.47 608.46 354.35C607.35 356.23 605.69 358.12 603.81 359.00C601.93 359.88 599.17 360.22 597.18 359.66C595.19 359.11 593.20 357.67 591.87 355.68C590.54 353.69 589.77 350.37 589.22 347.72C588.66 345.06 588.77 341.96 588.55 339.75C588.33 337.54 588.66 335.99 587.89 334.44C587.11 332.89 585.06 332.01 583.91 330.46C582.76 328.91 581.54 326.92 580.99 325.15C580.43 323.38 580.43 322.27 580.59 319.84Z" fill="none" stroke="#d62728" stroke-width="1.05"/><path d="M486.28 425.79C485.62 423.58 485.73 420.04 486.28 417.82C486.83 415.61 488.16 413.62 489.60 412.51C491.04 411.41 493.47 410.96 494.91 411.19C496.35 411.41 497.67 412.29 498.23 413.84C498.78 415.39 498.11 418.93 498.23 420.48C498.34 422.03 497.89 423.80 498.89 423.13C499.88 422.47 502.32 418.93 504.20 416.50C506.08 414.06 509.06 411.63 510.17 408.53C511.28 405.43 510.28 401.01 510.83 397.91C511.39 394.81 512.16 391.72 513.49 389.95C514.81 388.18 517.36 387.40 518.80 387.29C520.23 387.18 521.56 387.73 522.11 389.28C522.67 390.83 522.56 394.04 522.11 396.58C521.67 399.13 519.35 402.34 519.46 404.55C519.57 406.76 521.56 408.31 522.78 409.86C523.99 411.41 525.21 413.51 526.76 413.84C528.31 414.17 530.30 412.18 532.07 411.85C533.84 411.52 536.05 411.30 537.38 411.85C538.70 412.40 539.81 413.51 540.03 415.17C540.25 416.83 539.59 419.81 538.70 421.81C537.82 423.80 536.49 425.12 534.72 427.12C532.95 429.11 530.08 431.32 528.09 433.75C526.10 436.19 524.33 439.06 522.78 441.72C521.23 444.37 520.34 447.03 518.80 449.68C517.25 452.34 515.48 455.65 513.49 457.65C511.50 459.64 509.06 460.85 506.85 461.63C504.64 462.40 502.21 462.73 500.22 462.29C498.23 461.85 496.46 460.63 494.91 458.97C493.36 457.31 491.85 454.77 490.93 452.34C490.00 449.90 489.33 447.03 489.33 444.37C489.33 441.72 490.77 438.62 490.93 436.41C491.08 434.19 491.04 432.87 490.26 431.10C489.49 429.33 486.94 428.00 486.28 425.79Z" fill="none" stroke="#8c564b" stroke-width="1.05"/><path d="M489.60 423.13C490.44 421.36 492.92 419.59 494.91 417.82C496.90 416.05 499.11 414.50 501.54 412.51C503.98 410.52 507.29 407.54 509.51 405.88C511.72 404.22 513.05 403.33 514.81 402.56C516.58 401.78 518.35 401.12 520.12 401.23C521.89 401.34 524.10 401.78 525.43 403.22C526.76 404.66 527.64 407.42 528.09 409.86C528.53 412.29 527.98 415.39 528.09 417.82C528.20 420.26 527.87 422.91 528.75 424.46C529.63 426.01 531.51 426.78 533.40 427.12C535.28 427.45 538.26 426.23 540.03 426.45C541.80 426.67 543.24 427.23 544.01 428.44C544.79 429.66 545.12 431.98 544.68 433.75C544.23 435.52 543.02 437.29 541.36 439.06C539.70 440.83 536.93 442.82 534.72 444.37C532.51 445.92 530.30 447.03 528.09 448.35C525.87 449.68 523.66 451.23 521.45 452.34C519.24 453.44 517.25 454.33 514.81 454.99C512.38 455.65 509.51 456.54 506.85 456.32C504.20 456.10 501.10 454.99 498.89 453.66C496.68 452.34 494.80 450.35 493.58 448.35C492.36 446.36 492.08 444.15 491.59 441.72C491.10 439.28 490.95 435.96 490.66 433.75C490.37 431.54 490.04 430.21 489.86 428.44C489.69 426.67 488.76 424.90 489.60 423.13Z" fill="none" stroke="#d62728" stroke-width="1.05"/><path d="M591.87 393.93C591.98 392.16 593.20 390.28 594.52 389.28C595.85 388.29 598.06 387.73 599.83 387.96C601.60 388.18 603.70 389.17 605.14 390.61C606.58 392.05 608.13 394.59 608.46 396.58C608.79 398.58 608.02 401.12 607.13 402.56C606.25 404.00 604.70 404.99 603.15 405.21C601.60 405.43 599.39 404.77 597.84 403.88C596.29 403.00 594.86 401.56 593.86 399.90C592.87 398.24 591.76 395.70 591.87 393.93Z" fill="none" stroke="#8c564b" stroke-width="1.05"/><path d="M571.96 433.75C572.07 430.88 572.41 426.23 573.29 423.13C574.17 420.04 575.50 417.16 577.27 415.17C579.04 413.18 581.70 412.07 583.91 411.19C586.12 410.30 588.11 410.12 590.54 409.86C592.98 409.59 595.85 409.59 598.51 409.59C601.16 409.59 604.04 409.37 606.47 409.86C608.90 410.35 611.11 411.19 613.10 412.51C615.10 413.84 616.87 415.83 618.41 417.82C619.96 419.81 621.07 422.25 622.40 424.46C623.72 426.67 625.05 429.11 626.38 431.10C627.70 433.09 629.14 434.42 630.36 436.41C631.57 438.40 633.23 440.61 633.68 443.04C634.12 445.48 634.01 448.58 633.01 451.01C632.02 453.44 629.92 455.99 627.70 457.65C625.49 459.31 622.62 460.41 619.74 460.96C616.87 461.52 613.55 461.30 610.45 460.96C607.35 460.63 604.26 459.75 601.16 458.97C598.06 458.20 594.97 457.42 591.87 456.32C588.77 455.21 585.12 453.88 582.58 452.34C580.04 450.79 578.27 449.02 576.61 447.03C574.95 445.04 573.40 442.60 572.63 440.39C571.85 438.18 571.85 436.63 571.96 433.75Z" fill="none" stroke="#8c564b" stroke-width="1.05"/><path d="M581.92 420.48C582.09 418.27 581.58 415.61 582.58 413.84C583.58 412.07 585.90 411.19 587.89 409.86C589.88 408.53 592.53 407.20 594.52 405.88C596.52 404.55 598.06 402.73 599.83 401.89C601.60 401.05 603.48 400.61 605.14 400.83C606.80 401.05 608.46 401.94 609.79 403.22C611.11 404.50 612.22 406.54 613.10 408.53C613.99 410.52 614.43 412.96 615.10 415.17C615.76 417.38 616.09 419.37 617.09 421.81C618.08 424.24 619.08 427.78 621.07 429.77C623.06 431.76 626.82 432.65 629.03 433.75C631.24 434.86 632.90 435.08 634.34 436.41C635.78 437.73 637.22 439.73 637.66 441.72C638.10 443.71 637.77 446.81 636.99 448.35C636.22 449.90 634.78 450.79 633.01 451.01C631.24 451.23 628.37 449.90 626.38 449.68C624.39 449.46 623.06 449.13 621.07 449.68C619.08 450.23 616.87 452.12 614.43 453.00C612.00 453.88 609.34 454.77 606.47 454.99C603.59 455.21 600.05 454.77 597.18 454.33C594.30 453.88 591.43 453.33 589.22 452.34C587.00 451.34 585.23 450.12 583.91 448.35C582.58 446.58 581.74 444.15 581.25 441.72C580.77 439.28 580.94 436.19 580.99 433.75C581.03 431.32 581.36 429.33 581.52 427.12C581.67 424.90 581.74 422.69 581.92 420.48Z" fill="none" stroke="#d62728" stroke-width="1.05"/><path d="M571.30 523.44C571.56 521.23 572.07 517.58 573.29 515.48C574.51 513.38 576.39 511.89 578.60 510.83C580.81 509.77 583.91 509.44 586.56 509.11C589.22 508.77 592.98 509.55 594.52 508.84C596.07 508.13 596.29 506.41 595.85 504.86C595.41 503.31 592.42 501.21 591.87 499.55C591.32 497.89 591.65 495.96 592.53 494.90C593.42 493.84 595.30 493.24 597.18 493.18C599.06 493.11 601.82 493.66 603.81 494.50C605.81 495.35 607.35 496.50 609.12 498.22C610.89 499.95 612.66 502.65 614.43 504.86C616.20 507.07 617.75 509.28 619.74 511.50C621.73 513.71 624.39 515.92 626.38 518.13C628.37 520.35 630.47 522.56 631.69 524.77C632.90 526.98 633.68 529.19 633.68 531.41C633.68 533.62 632.90 536.05 631.69 538.04C630.47 540.04 628.37 541.81 626.38 543.35C624.39 544.90 622.17 546.34 619.74 547.34C617.31 548.33 614.43 549.11 611.78 549.33C609.12 549.55 605.92 548.44 603.81 548.66C601.71 548.88 600.72 549.77 599.17 550.65C597.62 551.54 596.40 553.42 594.52 553.97C592.64 554.53 589.88 554.64 587.89 553.97C585.90 553.31 583.80 551.54 582.58 549.99C581.36 548.44 580.59 546.23 580.59 544.68C580.59 543.13 582.69 541.81 582.58 540.70C582.47 539.59 581.25 539.15 579.93 538.04C578.60 536.94 575.99 535.61 574.62 534.06C573.25 532.51 572.25 530.52 571.70 528.75C571.14 526.98 571.03 525.65 571.30 523.44Z" fill="none" stroke="#8c564b" stroke-width="1.05"/><path d="M580.59 523.44C580.70 521.23 580.48 517.47 581.25 515.48C582.03 513.49 583.47 512.60 585.23 511.50C587.00 510.39 589.99 509.17 591.87 508.84C593.75 508.51 596.18 510.17 596.52 509.50C596.85 508.84 594.64 506.96 593.86 504.86C593.09 502.76 591.87 499.33 591.87 496.89C591.87 494.46 592.76 491.85 593.86 490.26C594.97 488.66 596.85 487.73 598.51 487.34C600.17 486.94 602.05 487.16 603.81 487.87C605.58 488.58 607.46 489.86 609.12 491.58C610.78 493.31 612.22 496.01 613.77 498.22C615.32 500.43 616.98 502.42 618.41 504.86C619.85 507.29 621.07 510.83 622.40 512.82C623.72 514.81 624.72 516.03 626.38 516.81C628.04 517.58 630.69 516.81 632.35 517.47C634.01 518.13 635.60 519.13 636.33 520.79C637.06 522.45 637.28 525.43 636.73 527.42C636.18 529.42 634.52 531.63 633.01 532.73C631.51 533.84 629.25 533.84 627.70 534.06C626.16 534.28 625.05 533.40 623.72 534.06C622.40 534.73 621.29 536.27 619.74 538.04C618.19 539.81 616.42 542.80 614.43 544.68C612.44 546.56 610.23 548.44 607.80 549.33C605.36 550.21 602.49 550.32 599.83 549.99C597.18 549.66 594.30 548.66 591.87 547.34C589.44 546.01 586.89 544.02 585.23 542.03C583.58 540.04 582.69 537.60 581.92 535.39C581.14 533.18 580.81 530.74 580.59 528.75C580.37 526.76 580.48 525.65 580.59 523.44Z" fill="none" stroke="#d62728" stroke-width="1.05"/><g fill="#2a7aba"><circle cx="59.21" cy="223.78" r="2.1"/><circle cx="261.43" cy="61.44" r="2.1"/><circle cx="168.78" cy="225.50" r="2.1"/><circle cx="259.80" cy="133.48" r="2.1"/><circle cx="62.52" cy="315.59" r="2.1"/><circle cx="352.56" cy="57.80" r="2.1"/><circle cx="169.04" cy="315.59" r="2.1"/><circle cx="352.56" cy="133.20" r="2.1"/><circle cx="163.20" cy="315.86" r="2.1"/><circle cx="352.31" cy="139.35" r="2.1"/><circle cx="262.09" cy="316.12" r="2.1"/><circle cx="352.05" cy="223.08" r="2.1"/><circle cx="62.26" cy="432.42" r="2.1"/><circle cx="420.21" cy="58.09" r="2.1"/><circle cx="162.14" cy="443.04" r="2.1"/><circle cx="410.01" cy="140.47" r="2.1"/><circle cx="259.17" cy="433.49" r="2.1"/><circle cx="419.19" cy="226.18" r="2.1"/><circle cx="261.42" cy="443.04" r="2.1"/><circle cx="410.01" cy="223.78" r="2.1"/><circle cx="352.41" cy="433.75" r="2.1"/><circle cx="418.94" cy="315.75" r="2.1"/><circle cx="351.75" cy="443.04" r="2.1"/><circle cx="410.01" cy="316.44" r="2.1"/><circle cx="62.52" cy="507.65" r="2.1"/><circle cx="526.93" cy="57.80" r="2.1"/><circle cx="59.21" cy="527.69" r="2.1"/><circle cx="509.50" cy="61.44" r="2.1"/><circle cx="168.51" cy="507.65" r="2.1"/><circle cx="526.93" cy="133.76" r="2.1"/><circle cx="162.14" cy="528.09" r="2.1"/><circle cx="509.16" cy="140.47" r="2.1"/><circle cx="259.70" cy="507.65" r="2.1"/><circle cx="526.93" cy="225.62" r="2.1"/><circle cx="261.69" cy="527.82" r="2.1"/><circle cx="509.39" cy="223.50" r="2.1"/><circle cx="352.15" cy="507.65" r="2.1"/><circle cx="526.93" cy="316.02" r="2.1"/><circle cx="352.41" cy="528.75" r="2.1"/><circle cx="508.58" cy="315.75" r="2.1"/><circle cx="418.85" cy="507.65" r="2.1"/><circle cx="526.93" cy="433.84" r="2.1"/><circle cx="408.90" cy="529.42" r="2.1"/><circle cx="508.00" cy="444.21" r="2.1"/><circle cx="63.19" cy="618.11" r="2.1"/><circle cx="602.77" cy="57.07" r="2.1"/><circle cx="57.88" cy="635.36" r="2.1"/><circle cx="592.59" cy="62.90" r="2.1"/><circle cx="168.51" cy="618.11" r="2.1"/><circle cx="602.77" cy="133.76" r="2.1"/><circle cx="161.74" cy="635.36" r="2.1"/><circle cx="592.59" cy="140.89" r="2.1"/><circle cx="260.10" cy="618.37" r="2.1"/><circle cx="602.62" cy="225.19" r="2.1"/><circle cx="261.69" cy="635.36" r="2.1"/><circle cx="592.59" cy="223.50" r="2.1"/><circle cx="352.41" cy="618.37" r="2.1"/><circle cx="602.62" cy="315.75" r="2.1"/><circle cx="351.75" cy="635.36" r="2.1"/><circle cx="592.59" cy="316.44" r="2.1"/><circle cx="419.12" cy="618.37" r="2.1"/><circle cx="602.62" cy="433.56" r="2.1"/><circle cx="409.56" cy="635.36" r="2.1"/><circle cx="592.59" cy="443.51" r="2.1"/><circle cx="526.76" cy="618.37" r="2.1"/><circle cx="602.62" cy="507.84" r="2.1"/><circle cx="509.11" cy="635.36" r="2.1"/><circle cx="592.59" cy="528.15" r="2.1"/></g><g fill="#8c564b"><circle cx="74.47" cy="115.84" r="2.1"/><circle cx="185.54" cy="44.70" r="2.1"/><circle cx="73.14" cy="116.90" r="2.1"/><circle cx="184.53" cy="46.16" r="2.1"/><circle cx="66.77" cy="125.27" r="2.1"/><circle cx="176.58" cy="53.14" r="2.1"/><circle cx="71.15" cy="126.19" r="2.1"/><circle cx="175.70" cy="48.34" r="2.1"/><circle cx="74.20" cy="129.91" r="2.1"/><circle cx="172.17" cy="44.99" r="2.1"/><circle cx="61.86" cy="127.92" r="2.1"/><circle cx="174.06" cy="58.53" r="2.1"/><circle cx="99.02" cy="130.84" r="2.1"/><circle cx="171.29" cy="17.77" r="2.1"/><circle cx="69.43" cy="134.82" r="2.1"/><circle cx="167.50" cy="50.23" r="2.1"/><circle cx="60.53" cy="130.84" r="2.1"/><circle cx="171.29" cy="59.98" r="2.1"/><circle cx="59.21" cy="132.17" r="2.1"/><circle cx="170.03" cy="61.44" r="2.1"/><circle cx="57.88" cy="134.16" r="2.1"/><circle cx="168.13" cy="62.90" r="2.1"/><circle cx="62.52" cy="133.50" r="2.1"/><circle cx="168.76" cy="57.80" r="2.1"/><circle cx="56.55" cy="134.82" r="2.1"/><circle cx="167.50" cy="64.35" r="2.1"/><circle cx="59.87" cy="135.49" r="2.1"/><circle cx="166.87" cy="60.71" r="2.1"/><circle cx="61.86" cy="136.15" r="2.1"/><circle cx="166.24" cy="58.53" r="2.1"/><circle cx="57.22" cy="137.48" r="2.1"/><circle cx="164.98" cy="63.62" r="2.1"/><circle cx="58.54" cy="138.81" r="2.1"/><circle cx="163.72" cy="62.17" r="2.1"/><circle cx="54.56" cy="140.13" r="2.1"/><circle cx="162.46" cy="66.53" r="2.1"/><circle cx="55.89" cy="141.46" r="2.1"/><circle cx="161.20" cy="65.08" r="2.1"/><circle cx="53.90" cy="142.79" r="2.1"/><circle cx="159.94" cy="67.26" r="2.1"/><circle cx="57.88" cy="141.46" r="2.1"/><circle cx="161.20" cy="62.90" r="2.1"/><circle cx="60.53" cy="140.80" r="2.1"/><circle cx="161.83" cy="59.98" r="2.1"/><circle cx="61.20" cy="142.12" r="2.1"/><circle cx="160.57" cy="59.26" r="2.1"/><circle cx="51.91" cy="144.12" r="2.1"/><circle cx="158.68" cy="69.45" r="2.1"/><circle cx="53.23" cy="145.44" r="2.1"/><circle cx="157.41" cy="67.99" r="2.1"/><circle cx="55.23" cy="144.78" r="2.1"/><circle cx="158.05" cy="65.81" r="2.1"/><circle cx="49.92" cy="148.10" r="2.1"/><circle cx="154.89" cy="71.63" r="2.1"/><circle cx="52.57" cy="149.69" r="2.1"/><circle cx="153.38" cy="68.72" r="2.1"/><circle cx="53.90" cy="147.43" r="2.1"/><circle cx="155.52" cy="67.26" r="2.1"/><circle cx="49.92" cy="206.92" r="2.1"/><circle cx="277.32" cy="71.63" r="2.1"/><circle cx="52.97" cy="210.24" r="2.1"/><circle cx="274.19" cy="68.28" r="2.1"/><circle cx="54.56" cy="212.23" r="2.1"/><circle cx="272.31" cy="66.53" r="2.1"/><circle cx="56.55" cy="212.63" r="2.1"/><circle cx="271.94" cy="64.35" r="2.1"/><circle cx="51.91" cy="214.22" r="2.1"/><circle cx="270.44" cy="69.45" r="2.1"/><circle cx="53.90" cy="215.55" r="2.1"/><circle cx="269.18" cy="67.26" r="2.1"/><circle cx="55.89" cy="214.88" r="2.1"/><circle cx="269.81" cy="65.08" r="2.1"/><circle cx="57.88" cy="214.22" r="2.1"/><circle cx="270.44" cy="62.90" r="2.1"/><circle cx="59.87" cy="215.55" r="2.1"/><circle cx="269.18" cy="60.71" r="2.1"/><circle cx="61.86" cy="216.21" r="2.1"/><circle cx="268.56" cy="58.53" r="2.1"/><circle cx="51.91" cy="216.88" r="2.1"/><circle cx="267.93" cy="69.45" r="2.1"/><circle cx="54.56" cy="217.54" r="2.1"/><circle cx="267.31" cy="66.53" r="2.1"/><circle cx="57.22" cy="217.54" r="2.1"/><circle cx="267.31" cy="63.62" r="2.1"/><circle cx="59.21" cy="217.54" r="2.1"/><circle cx="267.31" cy="61.44" r="2.1"/><circle cx="53.23" cy="220.19" r="2.1"/><circle cx="264.81" cy="67.99" r="2.1"/><circle cx="55.23" cy="220.86" r="2.1"/><circle cx="264.18" cy="65.81" r="2.1"/><circle cx="58.54" cy="220.86" r="2.1"/><circle cx="264.18" cy="62.17" r="2.1"/><circle cx="61.20" cy="220.86" r="2.1"/><circle cx="264.18" cy="59.26" r="2.1"/><circle cx="52.57" cy="223.51" r="2.1"/><circle cx="261.68" cy="68.72" r="2.1"/><circle cx="55.23" cy="224.18" r="2.1"/><circle cx="261.05" cy="65.81" r="2.1"/><circle cx="57.88" cy="224.18" r="2.1"/><circle cx="261.05" cy="62.90" r="2.1"/><circle cx="60.53" cy="224.84" r="2.1"/><circle cx="260.43" cy="59.98" r="2.1"/><circle cx="62.52" cy="223.51" r="2.1"/><circle cx="261.68" cy="57.80" r="2.1"/><circle cx="61.86" cy="226.83" r="2.1"/><circle cx="258.55" cy="58.53" r="2.1"/><circle cx="66.90" cy="225.50" r="2.1"/><circle cx="259.80" cy="53.00" r="2.1"/><circle cx="74.47" cy="229.09" r="2.1"/><circle cx="256.42" cy="44.70" r="2.1"/><circle cx="61.46" cy="232.81" r="2.1"/><circle cx="252.92" cy="58.97" r="2.1"/><circle cx="70.89" cy="232.81" r="2.1"/><circle cx="252.92" cy="48.63" r="2.1"/><circle cx="69.56" cy="240.37" r="2.1"/><circle cx="245.79" cy="50.09" r="2.1"/><circle cx="74.20" cy="240.37" r="2.1"/><circle cx="245.79" cy="44.99" r="2.1"/><circle cx="99.29" cy="260.95" r="2.1"/><circle cx="226.40" cy="17.48" r="2.1"/><circle cx="154.98" cy="206.92" r="2.1"/><circle cx="277.32" cy="148.01" r="2.1"/><circle cx="159.49" cy="210.24" r="2.1"/><circle cx="274.19" cy="143.26" r="2.1"/><circle cx="162.14" cy="212.63" r="2.1"/><circle cx="271.94" cy="140.47" r="2.1"/><circle cx="164.80" cy="213.56" r="2.1"/><circle cx="271.06" cy="137.67" r="2.1"/><circle cx="168.11" cy="212.63" r="2.1"/><circle cx="271.94" cy="134.18" r="2.1"/><circle cx="170.77" cy="214.22" r="2.1"/><circle cx="270.44" cy="131.39" r="2.1"/><circle cx="174.09" cy="216.48" r="2.1"/><circle cx="268.31" cy="127.89" r="2.1"/><circle cx="156.83" cy="216.21" r="2.1"/><circle cx="268.56" cy="146.05" r="2.1"/><circle cx="159.49" cy="215.55" r="2.1"/><circle cx="269.18" cy="143.26" r="2.1"/><circle cx="162.14" cy="216.88" r="2.1"/><circle cx="267.93" cy="140.47" r="2.1"/><circle cx="165.46" cy="216.21" r="2.1"/><circle cx="268.56" cy="136.97" r="2.1"/><circle cx="167.45" cy="217.54" r="2.1"/><circle cx="267.31" cy="134.88" r="2.1"/><circle cx="169.44" cy="218.87" r="2.1"/><circle cx="266.06" cy="132.78" r="2.1"/><circle cx="158.16" cy="218.20" r="2.1"/><circle cx="266.68" cy="144.66" r="2.1"/><circle cx="160.81" cy="218.87" r="2.1"/><circle cx="266.06" cy="141.86" r="2.1"/><circle cx="163.47" cy="220.19" r="2.1"/><circle cx="264.81" cy="139.07" r="2.1"/><circle cx="171.43" cy="221.52" r="2.1"/><circle cx="263.55" cy="130.69" r="2.1"/><circle cx="153.52" cy="221.52" r="2.1"/><circle cx="263.55" cy="149.55" r="2.1"/><circle cx="152.85" cy="223.78" r="2.1"/><circle cx="261.43" cy="150.25" r="2.1"/><circle cx="156.17" cy="223.78" r="2.1"/><circle cx="261.43" cy="146.75" r="2.1"/><circle cx="159.49" cy="224.18" r="2.1"/><circle cx="261.05" cy="143.26" r="2.1"/><circle cx="162.14" cy="225.50" r="2.1"/><circle cx="259.80" cy="140.47" r="2.1"/><circle cx="166.79" cy="227.50" r="2.1"/><circle cx="257.93" cy="135.58" r="2.1"/><circle cx="176.74" cy="225.50" r="2.1"/><circle cx="259.80" cy="125.10" r="2.1"/><circle cx="185.37" cy="229.22" r="2.1"/><circle cx="256.30" cy="116.02" r="2.1"/><circle cx="161.48" cy="232.81" r="2.1"/><circle cx="252.92" cy="141.16" r="2.1"/><circle cx="175.41" cy="232.81" r="2.1"/><circle cx="252.92" cy="126.50" r="2.1"/><circle cx="167.19" cy="240.37" r="2.1"/><circle cx="245.79" cy="135.16" r="2.1"/><circle cx="172.36" cy="240.37" r="2.1"/><circle cx="245.79" cy="129.71" r="2.1"/><circle cx="171.43" cy="260.95" r="2.1"/><circle cx="226.40" cy="130.69" r="2.1"/><circle cx="61.86" cy="299.93" r="2.1"/><circle cx="367.52" cy="58.53" r="2.1"/><circle cx="59.87" cy="301.52" r="2.1"/><circle cx="366.00" cy="60.71" r="2.1"/><circle cx="58.54" cy="303.25" r="2.1"/><circle cx="364.35" cy="62.17" r="2.1"/><circle cx="57.22" cy="304.97" r="2.1"/><circle cx="362.70" cy="63.62" r="2.1"/><circle cx="56.55" cy="306.57" r="2.1"/><circle cx="361.18" cy="64.35" r="2.1"/><circle cx="55.23" cy="308.56" r="2.1"/><circle cx="359.28" cy="65.81" r="2.1"/><circle cx="53.90" cy="309.88" r="2.1"/><circle cx="358.01" cy="67.26" r="2.1"/><circle cx="61.20" cy="308.56" r="2.1"/><circle cx="359.28" cy="59.26" r="2.1"/><circle cx="62.52" cy="309.88" r="2.1"/><circle cx="358.01" cy="57.80" r="2.1"/><circle cx="53.90" cy="311.88" r="2.1"/><circle cx="356.11" cy="67.26" r="2.1"/><circle cx="56.55" cy="312.54" r="2.1"/><circle cx="355.48" cy="64.35" r="2.1"/><circle cx="53.23" cy="313.87" r="2.1"/><circle cx="354.21" cy="67.99" r="2.1"/><circle cx="55.89" cy="314.53" r="2.1"/><circle cx="353.57" cy="65.08" r="2.1"/><circle cx="51.91" cy="315.86" r="2.1"/><circle cx="352.31" cy="69.45" r="2.1"/><circle cx="54.56" cy="316.52" r="2.1"/><circle cx="351.67" cy="66.53" r="2.1"/><circle cx="49.92" cy="317.85" r="2.1"/><circle cx="350.41" cy="71.63" r="2.1"/><circle cx="53.23" cy="318.25" r="2.1"/><circle cx="350.03" cy="67.99" r="2.1"/><circle cx="57.88" cy="316.52" r="2.1"/><circle cx="351.67" cy="62.90" r="2.1"/><circle cx="60.53" cy="317.85" r="2.1"/><circle cx="350.41" cy="59.98" r="2.1"/><circle cx="62.52" cy="319.18" r="2.1"/><circle cx="349.14" cy="57.80" r="2.1"/><circle cx="61.20" cy="322.50" r="2.1"/><circle cx="345.97" cy="59.26" r="2.1"/><circle cx="52.97" cy="322.23" r="2.1"/><circle cx="346.22" cy="68.28" r="2.1"/><circle cx="52.57" cy="326.21" r="2.1"/><circle cx="342.42" cy="68.72" r="2.1"/><circle cx="66.90" cy="311.88" r="2.1"/><circle cx="356.11" cy="53.00" r="2.1"/><circle cx="74.20" cy="307.23" r="2.1"/><circle cx="360.55" cy="44.99" r="2.1"/><circle cx="75.13" cy="309.88" r="2.1"/><circle cx="358.01" cy="43.97" r="2.1"/><circle cx="74.20" cy="318.78" r="2.1"/><circle cx="349.52" cy="44.99" r="2.1"/><circle cx="69.56" cy="328.73" r="2.1"/><circle cx="340.01" cy="50.09" r="2.1"/><circle cx="99.29" cy="354.62" r="2.1"/><circle cx="315.29" cy="17.48" r="2.1"/><circle cx="174.09" cy="299.93" r="2.1"/><circle cx="367.52" cy="127.89" r="2.1"/><circle cx="170.77" cy="301.52" r="2.1"/><circle cx="366.00" cy="131.39" r="2.1"/><circle cx="166.79" cy="303.91" r="2.1"/><circle cx="363.72" cy="135.58" r="2.1"/><circle cx="168.11" cy="306.57" r="2.1"/><circle cx="361.18" cy="134.18" r="2.1"/><circle cx="169.44" cy="308.56" r="2.1"/><circle cx="359.28" cy="132.78" r="2.1"/><circle cx="171.43" cy="310.55" r="2.1"/><circle cx="357.38" cy="130.69" r="2.1"/><circle cx="162.81" cy="308.56" r="2.1"/><circle cx="359.28" cy="139.77" r="2.1"/><circle cx="159.49" cy="311.21" r="2.1"/><circle cx="356.74" cy="143.26" r="2.1"/><circle cx="158.16" cy="313.20" r="2.1"/><circle cx="354.84" cy="144.66" r="2.1"/><circle cx="160.81" cy="312.54" r="2.1"/><circle cx="355.48" cy="141.86" r="2.1"/><circle cx="156.83" cy="315.19" r="2.1"/><circle cx="352.94" cy="146.05" r="2.1"/><circle cx="159.49" cy="315.86" r="2.1"/><circle cx="352.31" cy="143.26" r="2.1"/><circle cx="154.84" cy="317.19" r="2.1"/><circle cx="351.04" cy="148.15" r="2.1"/><circle cx="157.50" cy="317.85" r="2.1"/><circle cx="350.41" cy="145.36" r="2.1"/><circle cx="160.81" cy="317.19" r="2.1"/><circle cx="351.04" cy="141.86" r="2.1"/><circle cx="164.13" cy="316.52" r="2.1"/><circle cx="351.67" cy="138.37" r="2.1"/><circle cx="166.79" cy="318.25" r="2.1"/><circle cx="350.03" cy="135.58" r="2.1"/><circle cx="172.10" cy="318.78" r="2.1"/><circle cx="349.52" cy="129.99" r="2.1"/><circle cx="175.41" cy="319.58" r="2.1"/><circle cx="348.76" cy="126.50" r="2.1"/><circle cx="154.18" cy="321.83" r="2.1"/><circle cx="346.60" cy="148.85" r="2.1"/><circle cx="152.85" cy="325.81" r="2.1"/><circle cx="342.80" cy="150.25" r="2.1"/><circle cx="167.19" cy="328.73" r="2.1"/><circle cx="340.01" cy="135.16" r="2.1"/><circle cx="176.74" cy="311.88" r="2.1"/><circle cx="356.11" cy="125.10" r="2.1"/><circle cx="185.77" cy="307.23" r="2.1"/><circle cx="360.55" cy="115.60" r="2.1"/><circle cx="184.70" cy="309.62" r="2.1"/><circle cx="358.27" cy="116.72" r="2.1"/><circle cx="171.43" cy="354.62" r="2.1"/><circle cx="315.29" cy="130.69" r="2.1"/><circle cx="160.81" cy="322.50" r="2.1"/><circle cx="345.97" cy="141.86" r="2.1"/><circle cx="268.72" cy="299.93" r="2.1"/><circle cx="367.52" cy="216.04" r="2.1"/><circle cx="270.71" cy="301.92" r="2.1"/><circle cx="365.62" cy="213.93" r="2.1"/><circle cx="272.04" cy="303.91" r="2.1"/><circle cx="363.72" cy="212.52" r="2.1"/><circle cx="267.40" cy="305.24" r="2.1"/><circle cx="362.45" cy="217.45" r="2.1"/><circle cx="272.44" cy="306.57" r="2.1"/><circle cx="361.18" cy="212.10" r="2.1"/><circle cx="272.44" cy="308.56" r="2.1"/><circle cx="359.28" cy="212.10" r="2.1"/><circle cx="256.11" cy="307.23" r="2.1"/><circle cx="360.55" cy="229.42" r="2.1"/><circle cx="256.78" cy="309.88" r="2.1"/><circle cx="358.01" cy="228.71" r="2.1"/><circle cx="261.42" cy="308.56" r="2.1"/><circle cx="359.28" cy="223.78" r="2.1"/><circle cx="264.74" cy="309.88" r="2.1"/><circle cx="358.01" cy="220.26" r="2.1"/><circle cx="267.40" cy="310.55" r="2.1"/><circle cx="357.38" cy="217.45" r="2.1"/><circle cx="270.05" cy="311.21" r="2.1"/><circle cx="356.74" cy="214.63" r="2.1"/><circle cx="259.43" cy="312.54" r="2.1"/><circle cx="355.48" cy="225.90" r="2.1"/><circle cx="266.07" cy="312.54" r="2.1"/><circle cx="355.48" cy="218.86" r="2.1"/><circle cx="269.39" cy="313.87" r="2.1"/><circle cx="354.21" cy="215.34" r="2.1"/><circle cx="274.03" cy="313.87" r="2.1"/><circle cx="354.21" cy="210.41" r="2.1"/><circle cx="258.10" cy="315.86" r="2.1"/><circle cx="352.31" cy="227.30" r="2.1"/><circle cx="264.74" cy="315.19" r="2.1"/><circle cx="352.94" cy="220.26" r="2.1"/><circle cx="268.06" cy="316.52" r="2.1"/><circle cx="351.67" cy="216.74" r="2.1"/><circle cx="270.05" cy="317.85" r="2.1"/><circle cx="350.41" cy="214.63" r="2.1"/><circle cx="256.78" cy="318.51" r="2.1"/><circle cx="349.77" cy="228.71" r="2.1"/><circle cx="259.43" cy="319.18" r="2.1"/><circle cx="349.14" cy="225.90" r="2.1"/><circle cx="263.41" cy="321.83" r="2.1"/><circle cx="346.60" cy="221.67" r="2.1"/><circle cx="277.48" cy="318.12" r="2.1"/><circle cx="350.15" cy="206.74" r="2.1"/><circle cx="261.82" cy="326.21" r="2.1"/><circle cx="342.42" cy="223.36" r="2.1"/><circle cx="245.76" cy="318.78" r="2.1"/><circle cx="349.52" cy="240.40" r="2.1"/><circle cx="245.76" cy="328.87" r="2.1"/><circle cx="339.88" cy="240.40" r="2.1"/><circle cx="225.99" cy="354.62" r="2.1"/><circle cx="315.29" cy="261.38" r="2.1"/><circle cx="99.29" cy="396.85" r="2.1"/><circle cx="454.37" cy="17.48" r="2.1"/><circle cx="52.84" cy="420.74" r="2.1"/><circle cx="431.43" cy="68.43" r="2.1"/><circle cx="71.15" cy="420.74" r="2.1"/><circle cx="431.43" cy="48.34" r="2.1"/><circle cx="74.47" cy="421.81" r="2.1"/><circle cx="430.41" cy="44.70" r="2.1"/><circle cx="73.81" cy="423.13" r="2.1"/><circle cx="429.13" cy="45.43" r="2.1"/><circle cx="69.82" cy="428.44" r="2.1"/><circle cx="424.03" cy="49.80" r="2.1"/><circle cx="67.17" cy="430.83" r="2.1"/><circle cx="421.74" cy="52.71" r="2.1"/><circle cx="59.60" cy="428.18" r="2.1"/><circle cx="424.29" cy="61.00" r="2.1"/><circle cx="61.86" cy="432.42" r="2.1"/><circle cx="420.21" cy="58.53" r="2.1"/><circle cx="62.52" cy="435.08" r="2.1"/><circle cx="417.66" cy="57.80" r="2.1"/><circle cx="59.21" cy="436.41" r="2.1"/><circle cx="416.39" cy="61.44" r="2.1"/><circle cx="57.22" cy="437.73" r="2.1"/><circle cx="415.11" cy="63.62" r="2.1"/><circle cx="60.53" cy="438.40" r="2.1"/><circle cx="414.47" cy="59.98" r="2.1"/><circle cx="55.89" cy="439.73" r="2.1"/><circle cx="413.20" cy="65.08" r="2.1"/><circle cx="49.92" cy="439.46" r="2.1"/><circle cx="413.45" cy="71.63" r="2.1"/><circle cx="58.54" cy="440.39" r="2.1"/><circle cx="412.56" cy="62.17" r="2.1"/><circle cx="53.90" cy="441.72" r="2.1"/><circle cx="411.29" cy="67.26" r="2.1"/><circle cx="56.55" cy="442.38" r="2.1"/><circle cx="410.65" cy="64.35" r="2.1"/><circle cx="52.57" cy="444.37" r="2.1"/><circle cx="408.74" cy="68.72" r="2.1"/><circle cx="55.23" cy="444.37" r="2.1"/><circle cx="408.74" cy="65.81" r="2.1"/><circle cx="57.88" cy="445.04" r="2.1"/><circle cx="408.10" cy="62.90" r="2.1"/><circle cx="53.23" cy="447.03" r="2.1"/><circle cx="406.19" cy="67.99" r="2.1"/><circle cx="55.89" cy="447.03" r="2.1"/><circle cx="406.19" cy="65.08" r="2.1"/><circle cx="58.54" cy="447.69" r="2.1"/><circle cx="405.55" cy="62.17" r="2.1"/><circle cx="52.97" cy="449.68" r="2.1"/><circle cx="403.64" cy="68.28" r="2.1"/><circle cx="171.43" cy="396.85" r="2.1"/><circle cx="454.37" cy="130.69" r="2.1"/><circle cx="156.83" cy="420.74" r="2.1"/><circle cx="431.43" cy="146.05" r="2.1"/><circle cx="172.10" cy="421.54" r="2.1"/><circle cx="430.66" cy="129.99" r="2.1"/><circle cx="175.68" cy="420.74" r="2.1"/><circle cx="431.43" cy="126.22" r="2.1"/><circle cx="185.77" cy="422.87" r="2.1"/><circle cx="429.39" cy="115.60" r="2.1"/><circle cx="184.70" cy="421.81" r="2.1"/><circle cx="430.41" cy="116.72" r="2.1"/><circle cx="163.47" cy="428.44" r="2.1"/><circle cx="424.03" cy="139.07" r="2.1"/><circle cx="167.19" cy="428.44" r="2.1"/><circle cx="424.03" cy="135.16" r="2.1"/><circle cx="176.74" cy="430.83" r="2.1"/><circle cx="421.74" cy="125.10" r="2.1"/><circle cx="171.43" cy="432.16" r="2.1"/><circle cx="420.46" cy="130.69" r="2.1"/><circle cx="174.09" cy="434.42" r="2.1"/><circle cx="418.30" cy="127.89" r="2.1"/><circle cx="161.48" cy="433.49" r="2.1"/><circle cx="419.19" cy="141.16" r="2.1"/><circle cx="160.81" cy="436.41" r="2.1"/><circle cx="416.39" cy="141.86" r="2.1"/><circle cx="166.79" cy="436.41" r="2.1"/><circle cx="416.39" cy="135.58" r="2.1"/><circle cx="170.10" cy="436.41" r="2.1"/><circle cx="416.39" cy="132.08" r="2.1"/><circle cx="164.80" cy="438.40" r="2.1"/><circle cx="414.47" cy="137.67" r="2.1"/><circle cx="168.78" cy="439.06" r="2.1"/><circle cx="413.84" cy="133.48" r="2.1"/><circle cx="171.43" cy="439.06" r="2.1"/><circle cx="413.84" cy="130.69" r="2.1"/><circle cx="154.84" cy="439.46" r="2.1"/><circle cx="413.45" cy="148.15" r="2.1"/><circle cx="159.49" cy="440.39" r="2.1"/><circle cx="412.56" cy="143.26" r="2.1"/><circle cx="166.79" cy="442.38" r="2.1"/><circle cx="410.65" cy="135.58" r="2.1"/><circle cx="152.85" cy="444.37" r="2.1"/><circle cx="408.74" cy="150.25" r="2.1"/><circle cx="156.17" cy="445.04" r="2.1"/><circle cx="408.10" cy="146.75" r="2.1"/><circle cx="159.49" cy="445.04" r="2.1"/><circle cx="408.10" cy="143.26" r="2.1"/><circle cx="162.81" cy="445.70" r="2.1"/><circle cx="407.46" cy="139.77" r="2.1"/><circle cx="154.84" cy="447.69" r="2.1"/><circle cx="405.55" cy="148.15" r="2.1"/><circle cx="158.16" cy="447.69" r="2.1"/><circle cx="405.55" cy="144.66" r="2.1"/><circle cx="159.49" cy="449.68" r="2.1"/><circle cx="403.64" cy="143.26" r="2.1"/><circle cx="225.99" cy="396.85" r="2.1"/><circle cx="454.37" cy="261.38" r="2.1"/><circle cx="245.76" cy="421.14" r="2.1"/><circle cx="431.04" cy="240.40" r="2.1"/><circle cx="252.80" cy="420.74" r="2.1"/><circle cx="431.43" cy="232.94" r="2.1"/><circle cx="256.11" cy="421.81" r="2.1"/><circle cx="430.41" cy="229.42" r="2.1"/><circle cx="268.72" cy="420.74" r="2.1"/><circle cx="431.43" cy="216.04" r="2.1"/><circle cx="245.76" cy="428.18" r="2.1"/><circle cx="424.29" cy="240.40" r="2.1"/><circle cx="260.10" cy="428.44" r="2.1"/><circle cx="424.03" cy="225.19" r="2.1"/><circle cx="263.41" cy="431.76" r="2.1"/><circle cx="420.85" cy="221.67" r="2.1"/><circle cx="260.10" cy="431.10" r="2.1"/><circle cx="421.48" cy="225.19" r="2.1"/><circle cx="268.72" cy="434.42" r="2.1"/><circle cx="418.30" cy="216.04" r="2.1"/><circle cx="252.80" cy="435.08" r="2.1"/><circle cx="417.66" cy="232.94" r="2.1"/><circle cx="258.10" cy="436.41" r="2.1"/><circle cx="416.39" cy="227.30" r="2.1"/><circle cx="264.74" cy="439.06" r="2.1"/><circle cx="413.84" cy="220.26" r="2.1"/><circle cx="267.40" cy="438.40" r="2.1"/><circle cx="414.47" cy="217.45" r="2.1"/><circle cx="270.71" cy="437.73" r="2.1"/><circle cx="415.11" cy="213.93" r="2.1"/><circle cx="272.70" cy="437.07" r="2.1"/><circle cx="415.75" cy="211.81" r="2.1"/><circle cx="277.35" cy="439.33" r="2.1"/><circle cx="413.58" cy="206.89" r="2.1"/><circle cx="266.07" cy="441.72" r="2.1"/><circle cx="411.29" cy="218.86" r="2.1"/><circle cx="270.05" cy="441.72" r="2.1"/><circle cx="411.29" cy="214.63" r="2.1"/><circle cx="272.04" cy="440.39" r="2.1"/><circle cx="412.56" cy="212.52" r="2.1"/><circle cx="259.43" cy="444.37" r="2.1"/><circle cx="408.74" cy="225.90" r="2.1"/><circle cx="262.09" cy="443.71" r="2.1"/><circle cx="409.38" cy="223.08" r="2.1"/><circle cx="268.06" cy="444.37" r="2.1"/><circle cx="408.74" cy="216.74" r="2.1"/><circle cx="259.43" cy="447.03" r="2.1"/><circle cx="406.19" cy="225.90" r="2.1"/><circle cx="263.41" cy="447.69" r="2.1"/><circle cx="405.55" cy="221.67" r="2.1"/><circle cx="268.72" cy="447.69" r="2.1"/><circle cx="405.55" cy="216.04" r="2.1"/><circle cx="273.77" cy="449.28" r="2.1"/><circle cx="404.02" cy="210.69" r="2.1"/><circle cx="315.65" cy="396.85" r="2.1"/><circle cx="454.37" cy="354.24" r="2.1"/><circle cx="348.43" cy="420.74" r="2.1"/><circle cx="431.43" cy="319.92" r="2.1"/><circle cx="351.09" cy="420.74" r="2.1"/><circle cx="431.43" cy="317.14" r="2.1"/><circle cx="358.39" cy="421.81" r="2.1"/><circle cx="430.41" cy="309.49" r="2.1"/><circle cx="360.38" cy="423.13" r="2.1"/><circle cx="429.13" cy="307.41" r="2.1"/><circle cx="340.20" cy="428.18" r="2.1"/><circle cx="424.29" cy="328.53" r="2.1"/><circle cx="349.49" cy="428.18" r="2.1"/><circle cx="424.29" cy="318.80" r="2.1"/><circle cx="356.40" cy="430.83" r="2.1"/><circle cx="421.74" cy="311.58" r="2.1"/><circle cx="357.72" cy="432.42" r="2.1"/><circle cx="420.21" cy="310.19" r="2.1"/><circle cx="359.05" cy="434.42" r="2.1"/><circle cx="418.30" cy="308.80" r="2.1"/><circle cx="367.28" cy="434.02" r="2.1"/><circle cx="418.68" cy="300.18" r="2.1"/><circle cx="350.42" cy="436.41" r="2.1"/><circle cx="416.39" cy="317.83" r="2.1"/><circle cx="357.72" cy="438.40" r="2.1"/><circle cx="414.47" cy="310.19" r="2.1"/><circle cx="360.38" cy="437.73" r="2.1"/><circle cx="415.11" cy="307.41" r="2.1"/><circle cx="363.03" cy="438.40" r="2.1"/><circle cx="414.47" cy="304.63" r="2.1"/><circle cx="365.69" cy="439.06" r="2.1"/><circle cx="413.84" cy="301.85" r="2.1"/><circle cx="359.05" cy="439.73" r="2.1"/><circle cx="413.20" cy="308.80" r="2.1"/><circle cx="363.69" cy="439.73" r="2.1"/><circle cx="413.20" cy="303.93" r="2.1"/><circle cx="350.42" cy="444.37" r="2.1"/><circle cx="408.74" cy="317.83" r="2.1"/><circle cx="352.41" cy="445.70" r="2.1"/><circle cx="407.46" cy="315.75" r="2.1"/><circle cx="355.07" cy="446.36" r="2.1"/><circle cx="406.83" cy="312.97" r="2.1"/><circle cx="347.10" cy="447.69" r="2.1"/><circle cx="405.55" cy="321.31" r="2.1"/><circle cx="354.40" cy="449.68" r="2.1"/><circle cx="403.64" cy="313.66" r="2.1"/><circle cx="351.09" cy="441.72" r="2.1"/><circle cx="411.29" cy="317.14" r="2.1"/><circle cx="70.89" cy="500.21" r="2.1"/><circle cx="533.39" cy="48.63" r="2.1"/><circle cx="66.90" cy="513.09" r="2.1"/><circle cx="522.20" cy="53.00" r="2.1"/><circle cx="74.20" cy="517.07" r="2.1"/><circle cx="518.74" cy="44.99" r="2.1"/><circle cx="99.29" cy="519.46" r="2.1"/><circle cx="516.66" cy="17.48" r="2.1"/><circle cx="61.86" cy="520.79" r="2.1"/><circle cx="515.50" cy="58.53" r="2.1"/><circle cx="52.97" cy="524.11" r="2.1"/><circle cx="512.62" cy="68.28" r="2.1"/><circle cx="57.22" cy="524.11" r="2.1"/><circle cx="512.62" cy="63.62" r="2.1"/><circle cx="61.86" cy="524.11" r="2.1"/><circle cx="512.62" cy="58.53" r="2.1"/><circle cx="69.82" cy="523.18" r="2.1"/><circle cx="513.43" cy="49.80" r="2.1"/><circle cx="74.47" cy="524.11" r="2.1"/><circle cx="512.62" cy="44.70" r="2.1"/><circle cx="74.73" cy="526.36" r="2.1"/><circle cx="510.66" cy="44.41" r="2.1"/><circle cx="54.56" cy="526.76" r="2.1"/><circle cx="510.31" cy="66.53" r="2.1"/><circle cx="58.54" cy="526.76" r="2.1"/><circle cx="510.31" cy="62.17" r="2.1"/><circle cx="61.86" cy="527.42" r="2.1"/><circle cx="509.73" cy="58.53" r="2.1"/><circle cx="49.92" cy="530.08" r="2.1"/><circle cx="507.43" cy="71.63" r="2.1"/><circle cx="53.90" cy="530.08" r="2.1"/><circle cx="507.43" cy="67.26" r="2.1"/><circle cx="57.22" cy="530.08" r="2.1"/><circle cx="507.43" cy="63.62" r="2.1"/><circle cx="60.53" cy="530.74" r="2.1"/><circle cx="506.85" cy="59.98" r="2.1"/><circle cx="62.52" cy="529.42" r="2.1"/><circle cx="508.00" cy="57.80" r="2.1"/><circle cx="53.23" cy="534.06" r="2.1"/><circle cx="503.96" cy="67.99" r="2.1"/><circle cx="56.55" cy="534.06" r="2.1"/><circle cx="503.96" cy="64.35" r="2.1"/><circle cx="59.21" cy="534.06" r="2.1"/><circle cx="503.96" cy="61.44" r="2.1"/><circle cx="55.23" cy="536.72" r="2.1"/><circle cx="501.66" cy="65.81" r="2.1"/><circle cx="57.88" cy="536.72" r="2.1"/><circle cx="501.66" cy="62.90" r="2.1"/><circle cx="56.55" cy="538.71" r="2.1"/><circle cx="499.92" cy="64.35" r="2.1"/><circle cx="53.50" cy="541.63" r="2.1"/><circle cx="497.39" cy="67.70" r="2.1"/><circle cx="52.84" cy="547.73" r="2.1"/><circle cx="492.08" cy="68.43" r="2.1"/><circle cx="175.81" cy="500.21" r="2.1"/><circle cx="533.39" cy="126.08" r="2.1"/><circle cx="176.74" cy="513.09" r="2.1"/><circle cx="522.20" cy="125.10" r="2.1"/><circle cx="172.10" cy="516.81" r="2.1"/><circle cx="518.97" cy="129.99" r="2.1"/><circle cx="171.43" cy="519.46" r="2.1"/><circle cx="516.66" cy="130.69" r="2.1"/><circle cx="185.77" cy="524.11" r="2.1"/><circle cx="512.62" cy="115.60" r="2.1"/><circle cx="185.10" cy="526.10" r="2.1"/><circle cx="510.89" cy="116.30" r="2.1"/><circle cx="152.85" cy="524.11" r="2.1"/><circle cx="512.62" cy="150.25" r="2.1"/><circle cx="160.81" cy="521.45" r="2.1"/><circle cx="514.93" cy="141.86" r="2.1"/><circle cx="168.78" cy="523.44" r="2.1"/><circle cx="513.20" cy="133.48" r="2.1"/><circle cx="170.77" cy="524.77" r="2.1"/><circle cx="512.04" cy="131.39" r="2.1"/><circle cx="159.49" cy="526.76" r="2.1"/><circle cx="510.31" cy="143.26" r="2.1"/><circle cx="154.84" cy="530.08" r="2.1"/><circle cx="507.43" cy="148.15" r="2.1"/><circle cx="158.16" cy="530.08" r="2.1"/><circle cx="507.43" cy="144.66" r="2.1"/><circle cx="160.81" cy="531.41" r="2.1"/><circle cx="506.27" cy="141.86" r="2.1"/><circle cx="164.80" cy="531.41" r="2.1"/><circle cx="506.27" cy="137.67" r="2.1"/><circle cx="167.45" cy="528.75" r="2.1"/><circle cx="508.58" cy="134.88" r="2.1"/><circle cx="166.79" cy="532.07" r="2.1"/><circle cx="505.70" cy="135.58" r="2.1"/><circle cx="171.43" cy="531.41" r="2.1"/><circle cx="506.27" cy="130.69" r="2.1"/><circle cx="174.09" cy="528.75" r="2.1"/><circle cx="508.58" cy="127.89" r="2.1"/><circle cx="154.84" cy="534.73" r="2.1"/><circle cx="503.39" cy="148.15" r="2.1"/><circle cx="158.82" cy="534.06" r="2.1"/><circle cx="503.96" cy="143.96" r="2.1"/><circle cx="162.14" cy="535.39" r="2.1"/><circle cx="502.81" cy="140.47" r="2.1"/><circle cx="167.45" cy="534.73" r="2.1"/><circle cx="503.39" cy="134.88" r="2.1"/><circle cx="170.77" cy="534.73" r="2.1"/><circle cx="503.39" cy="131.39" r="2.1"/><circle cx="167.45" cy="538.71" r="2.1"/><circle cx="499.92" cy="134.88" r="2.1"/><circle cx="159.22" cy="541.63" r="2.1"/><circle cx="497.39" cy="143.54" r="2.1"/><circle cx="156.83" cy="547.73" r="2.1"/><circle cx="492.08" cy="146.05" r="2.1"/><circle cx="252.80" cy="500.21" r="2.1"/><circle cx="533.39" cy="232.94" r="2.1"/><circle cx="259.83" cy="513.09" r="2.1"/><circle cx="522.20" cy="225.47" r="2.1"/><circle cx="245.76" cy="517.07" r="2.1"/><circle cx="518.74" cy="240.40" r="2.1"/><circle cx="225.99" cy="519.46" r="2.1"/><circle cx="516.66" cy="261.38" r="2.1"/><circle cx="245.76" cy="523.44" r="2.1"/><circle cx="513.20" cy="240.40" r="2.1"/><circle cx="252.80" cy="521.05" r="2.1"/><circle cx="515.27" cy="232.94" r="2.1"/><circle cx="256.78" cy="523.44" r="2.1"/><circle cx="513.20" cy="228.71" r="2.1"/><circle cx="261.42" cy="524.11" r="2.1"/><circle cx="512.62" cy="223.78" r="2.1"/><circle cx="272.04" cy="524.50" r="2.1"/><circle cx="512.27" cy="212.52" r="2.1"/><circle cx="274.03" cy="526.76" r="2.1"/><circle cx="510.31" cy="210.41" r="2.1"/><circle cx="277.35" cy="530.08" r="2.1"/><circle cx="507.43" cy="206.89" r="2.1"/><circle cx="252.80" cy="530.35" r="2.1"/><circle cx="507.20" cy="232.94" r="2.1"/><circle cx="257.44" cy="527.42" r="2.1"/><circle cx="509.73" cy="228.01" r="2.1"/><circle cx="266.73" cy="526.76" r="2.1"/><circle cx="510.31" cy="218.15" r="2.1"/><circle cx="268.06" cy="529.42" r="2.1"/><circle cx="508.00" cy="216.74" r="2.1"/><circle cx="259.43" cy="531.41" r="2.1"/><circle cx="506.27" cy="225.90" r="2.1"/><circle cx="262.75" cy="531.41" r="2.1"/><circle cx="506.27" cy="222.38" r="2.1"/><circle cx="264.74" cy="532.07" r="2.1"/><circle cx="505.70" cy="220.26" r="2.1"/><circle cx="269.39" cy="532.73" r="2.1"/><circle cx="505.12" cy="215.34" r="2.1"/><circle cx="259.43" cy="536.05" r="2.1"/><circle cx="502.23" cy="225.90" r="2.1"/><circle cx="263.41" cy="535.12" r="2.1"/><circle cx="503.04" cy="221.67" r="2.1"/><circle cx="270.71" cy="534.73" r="2.1"/><circle cx="503.39" cy="213.93" r="2.1"/><circle cx="272.04" cy="537.38" r="2.1"/><circle cx="501.08" cy="212.52" r="2.1"/><circle cx="271.38" cy="539.37" r="2.1"/><circle cx="499.35" cy="213.22" r="2.1"/><circle cx="270.05" cy="541.63" r="2.1"/><circle cx="497.39" cy="214.63" r="2.1"/><circle cx="268.72" cy="547.73" r="2.1"/><circle cx="492.08" cy="216.04" r="2.1"/><circle cx="348.83" cy="500.21" r="2.1"/><circle cx="533.39" cy="319.50" r="2.1"/><circle cx="356.00" cy="513.09" r="2.1"/><circle cx="522.20" cy="311.99" r="2.1"/><circle cx="349.76" cy="517.07" r="2.1"/><circle cx="518.74" cy="318.53" r="2.1"/><circle cx="315.65" cy="519.46" r="2.1"/><circle cx="516.66" cy="354.24" r="2.1"/><circle cx="340.20" cy="523.44" r="2.1"/><circle cx="513.20" cy="328.53" r="2.1"/><circle cx="343.12" cy="524.11" r="2.1"/><circle cx="512.62" cy="325.47" r="2.1"/><circle cx="346.44" cy="521.45" r="2.1"/><circle cx="514.93" cy="322.00" r="2.1"/><circle cx="358.39" cy="524.11" r="2.1"/><circle cx="512.62" cy="309.49" r="2.1"/><circle cx="360.38" cy="524.77" r="2.1"/><circle cx="512.04" cy="307.41" r="2.1"/><circle cx="351.09" cy="526.10" r="2.1"/><circle cx="510.89" cy="317.14" r="2.1"/><circle cx="355.07" cy="526.76" r="2.1"/><circle cx="510.31" cy="312.97" r="2.1"/><circle cx="349.10" cy="528.75" r="2.1"/><circle cx="508.58" cy="319.22" r="2.1"/><circle cx="348.43" cy="531.41" r="2.1"/><circle cx="506.27" cy="319.92" r="2.1"/><circle cx="352.41" cy="530.08" r="2.1"/><circle cx="507.43" cy="315.75" r="2.1"/><circle cx="357.72" cy="531.41" r="2.1"/><circle cx="506.27" cy="310.19" r="2.1"/><circle cx="362.37" cy="530.08" r="2.1"/><circle cx="507.43" cy="305.32" r="2.1"/><circle cx="367.41" cy="528.75" r="2.1"/><circle cx="508.58" cy="300.04" r="2.1"/><circle cx="353.74" cy="534.06" r="2.1"/><circle cx="503.96" cy="314.36" r="2.1"/><circle cx="357.06" cy="534.06" r="2.1"/><circle cx="503.96" cy="310.88" r="2.1"/><circle cx="363.69" cy="534.73" r="2.1"/><circle cx="503.39" cy="303.93" r="2.1"/><circle cx="366.35" cy="534.73" r="2.1"/><circle cx="503.39" cy="301.16" r="2.1"/><circle cx="354.40" cy="536.72" r="2.1"/><circle cx="501.66" cy="313.66" r="2.1"/><circle cx="359.05" cy="537.78" r="2.1"/><circle cx="500.73" cy="308.80" r="2.1"/><circle cx="362.77" cy="538.97" r="2.1"/><circle cx="499.69" cy="304.91" r="2.1"/><circle cx="356.79" cy="541.63" r="2.1"/><circle cx="497.39" cy="311.16" r="2.1"/><circle cx="346.84" cy="534.73" r="2.1"/><circle cx="503.39" cy="321.58" r="2.1"/><circle cx="350.82" cy="547.73" r="2.1"/><circle cx="492.08" cy="317.41" r="2.1"/><circle cx="431.19" cy="500.21" r="2.1"/><circle cx="533.39" cy="420.98" r="2.1"/><circle cx="421.77" cy="513.09" r="2.1"/><circle cx="522.20" cy="430.80" r="2.1"/><circle cx="430.80" cy="517.07" r="2.1"/><circle cx="518.74" cy="421.40" r="2.1"/><circle cx="454.29" cy="519.46" r="2.1"/><circle cx="516.66" cy="396.93" r="2.1"/><circle cx="418.85" cy="521.05" r="2.1"/><circle cx="515.27" cy="433.84" r="2.1"/><circle cx="423.90" cy="523.44" r="2.1"/><circle cx="513.20" cy="428.59" r="2.1"/><circle cx="429.73" cy="524.11" r="2.1"/><circle cx="512.62" cy="422.51" r="2.1"/><circle cx="430.80" cy="526.36" r="2.1"/><circle cx="510.66" cy="421.40" r="2.1"/><circle cx="408.90" cy="524.11" r="2.1"/><circle cx="512.62" cy="444.21" r="2.1"/><circle cx="403.99" cy="526.76" r="2.1"/><circle cx="510.31" cy="449.32" r="2.1"/><circle cx="406.91" cy="527.42" r="2.1"/><circle cx="509.73" cy="446.28" r="2.1"/><circle cx="410.89" cy="525.43" r="2.1"/><circle cx="511.47" cy="442.13" r="2.1"/><circle cx="415.53" cy="524.77" r="2.1"/><circle cx="512.04" cy="437.29" r="2.1"/><circle cx="418.19" cy="526.10" r="2.1"/><circle cx="510.89" cy="434.53" r="2.1"/><circle cx="406.91" cy="530.08" r="2.1"/><circle cx="507.43" cy="446.28" r="2.1"/><circle cx="410.23" cy="530.08" r="2.1"/><circle cx="507.43" cy="442.82" r="2.1"/><circle cx="413.54" cy="529.42" r="2.1"/><circle cx="508.00" cy="439.37" r="2.1"/><circle cx="416.20" cy="529.42" r="2.1"/><circle cx="508.00" cy="436.60" r="2.1"/><circle cx="419.52" cy="530.74" r="2.1"/><circle cx="506.85" cy="433.15" r="2.1"/><circle cx="424.16" cy="532.07" r="2.1"/><circle cx="505.70" cy="428.31" r="2.1"/><circle cx="404.92" cy="534.06" r="2.1"/><circle cx="503.96" cy="448.35" r="2.1"/><circle cx="408.23" cy="534.06" r="2.1"/><circle cx="503.96" cy="444.90" r="2.1"/><circle cx="412.22" cy="534.06" r="2.1"/><circle cx="503.96" cy="440.75" r="2.1"/><circle cx="405.58" cy="536.05" r="2.1"/><circle cx="502.23" cy="447.66" r="2.1"/><circle cx="410.23" cy="535.39" r="2.1"/><circle cx="502.81" cy="442.82" r="2.1"/><circle cx="414.21" cy="537.38" r="2.1"/><circle cx="501.08" cy="438.68" r="2.1"/><circle cx="412.22" cy="541.36" r="2.1"/><circle cx="497.62" cy="440.75" r="2.1"/><circle cx="431.19" cy="547.73" r="2.1"/><circle cx="492.08" cy="420.98" r="2.1"/><circle cx="57.61" cy="584.52" r="2.1"/><circle cx="622.59" cy="63.19" r="2.1"/><circle cx="57.88" cy="588.64" r="2.1"/><circle cx="620.17" cy="62.90" r="2.1"/><circle cx="60.14" cy="588.64" r="2.1"/><circle cx="620.17" cy="60.42" r="2.1"/><circle cx="53.63" cy="593.02" r="2.1"/><circle cx="617.58" cy="67.55" r="2.1"/><circle cx="56.95" cy="593.02" r="2.1"/><circle cx="617.58" cy="63.91" r="2.1"/><circle cx="52.97" cy="601.51" r="2.1"/><circle cx="612.57" cy="68.28" r="2.1"/><circle cx="54.83" cy="605.76" r="2.1"/><circle cx="610.06" cy="66.24" r="2.1"/><circle cx="56.95" cy="605.76" r="2.1"/><circle cx="610.06" cy="63.91" r="2.1"/><circle cx="66.77" cy="605.76" r="2.1"/><circle cx="610.06" cy="53.14" r="2.1"/><circle cx="57.88" cy="609.88" r="2.1"/><circle cx="607.63" cy="62.90" r="2.1"/><circle cx="62.26" cy="609.88" r="2.1"/><circle cx="607.63" cy="58.09" r="2.1"/><circle cx="74.47" cy="609.88" r="2.1"/><circle cx="607.63" cy="44.70" r="2.1"/><circle cx="49.92" cy="618.37" r="2.1"/><circle cx="602.62" cy="71.63" r="2.1"/><circle cx="54.30" cy="618.37" r="2.1"/><circle cx="602.62" cy="66.83" r="2.1"/><circle cx="59.21" cy="618.37" r="2.1"/><circle cx="602.62" cy="61.44" r="2.1"/><circle cx="61.20" cy="618.37" r="2.1"/><circle cx="602.62" cy="59.26" r="2.1"/><circle cx="74.20" cy="618.37" r="2.1"/><circle cx="602.62" cy="44.99" r="2.1"/><circle cx="52.57" cy="622.75" r="2.1"/><circle cx="600.03" cy="68.72" r="2.1"/><circle cx="99.29" cy="622.75" r="2.1"/><circle cx="600.03" cy="17.48" r="2.1"/><circle cx="59.21" cy="627.00" r="2.1"/><circle cx="597.52" cy="61.44" r="2.1"/><circle cx="61.86" cy="627.00" r="2.1"/><circle cx="597.52" cy="58.53" r="2.1"/><circle cx="52.57" cy="639.61" r="2.1"/><circle cx="590.08" cy="68.72" r="2.1"/><circle cx="61.46" cy="639.61" r="2.1"/><circle cx="590.08" cy="58.97" r="2.1"/><circle cx="74.20" cy="643.99" r="2.1"/><circle cx="587.50" cy="44.99" r="2.1"/><circle cx="58.54" cy="647.97" r="2.1"/><circle cx="585.15" cy="62.17" r="2.1"/><circle cx="61.86" cy="647.97" r="2.1"/><circle cx="585.15" cy="58.53" r="2.1"/><circle cx="69.56" cy="647.97" r="2.1"/><circle cx="585.15" cy="50.09" r="2.1"/><circle cx="58.28" cy="652.35" r="2.1"/><circle cx="582.56" cy="62.46" r="2.1"/><circle cx="166.79" cy="584.52" r="2.1"/><circle cx="622.59" cy="135.58" r="2.1"/><circle cx="168.51" cy="588.64" r="2.1"/><circle cx="620.17" cy="133.76" r="2.1"/><circle cx="158.16" cy="593.02" r="2.1"/><circle cx="617.58" cy="144.66" r="2.1"/><circle cx="162.81" cy="593.02" r="2.1"/><circle cx="617.58" cy="139.77" r="2.1"/><circle cx="159.49" cy="601.51" r="2.1"/><circle cx="612.57" cy="143.26" r="2.1"/><circle cx="159.89" cy="605.76" r="2.1"/><circle cx="610.06" cy="142.84" r="2.1"/><circle cx="167.19" cy="605.76" r="2.1"/><circle cx="610.06" cy="135.16" r="2.1"/><circle cx="160.42" cy="609.88" r="2.1"/><circle cx="607.63" cy="142.28" r="2.1"/><circle cx="166.79" cy="609.88" r="2.1"/><circle cx="607.63" cy="135.58" r="2.1"/><circle cx="170.10" cy="609.88" r="2.1"/><circle cx="607.63" cy="132.08" r="2.1"/><circle cx="174.09" cy="609.88" r="2.1"/><circle cx="607.63" cy="127.89" r="2.1"/><circle cx="185.37" cy="609.88" r="2.1"/><circle cx="607.63" cy="116.02" r="2.1"/><circle cx="154.84" cy="618.37" r="2.1"/><circle cx="602.62" cy="148.15" r="2.1"/><circle cx="159.09" cy="618.37" r="2.1"/><circle cx="602.62" cy="143.68" r="2.1"/><circle cx="166.79" cy="618.37" r="2.1"/><circle cx="602.62" cy="135.58" r="2.1"/><circle cx="170.77" cy="618.37" r="2.1"/><circle cx="602.62" cy="131.39" r="2.1"/><circle cx="185.77" cy="618.37" r="2.1"/><circle cx="602.62" cy="115.60" r="2.1"/><circle cx="152.85" cy="622.75" r="2.1"/><circle cx="600.03" cy="150.25" r="2.1"/><circle cx="157.50" cy="622.75" r="2.1"/><circle cx="600.03" cy="145.36" r="2.1"/><circle cx="171.43" cy="622.75" r="2.1"/><circle cx="600.03" cy="130.69" r="2.1"/><circle cx="176.08" cy="622.75" r="2.1"/><circle cx="600.03" cy="125.80" r="2.1"/><circle cx="163.47" cy="627.00" r="2.1"/><circle cx="597.52" cy="139.07" r="2.1"/><circle cx="171.43" cy="627.00" r="2.1"/><circle cx="597.52" cy="130.69" r="2.1"/><circle cx="156.83" cy="639.61" r="2.1"/><circle cx="590.08" cy="146.05" r="2.1"/><circle cx="161.21" cy="639.61" r="2.1"/><circle cx="590.08" cy="141.44" r="2.1"/><circle cx="172.36" cy="643.99" r="2.1"/><circle cx="587.50" cy="129.71" r="2.1"/><circle cx="160.81" cy="647.97" r="2.1"/><circle cx="585.15" cy="141.86" r="2.1"/><circle cx="162.14" cy="647.97" r="2.1"/><circle cx="585.15" cy="140.47" r="2.1"/><circle cx="167.19" cy="647.97" r="2.1"/><circle cx="585.15" cy="135.16" r="2.1"/><circle cx="161.74" cy="652.35" r="2.1"/><circle cx="582.56" cy="140.89" r="2.1"/><circle cx="270.31" cy="584.52" r="2.1"/><circle cx="622.59" cy="214.35" r="2.1"/><circle cx="265.14" cy="588.64" r="2.1"/><circle cx="620.17" cy="219.84" r="2.1"/><circle cx="272.31" cy="588.64" r="2.1"/><circle cx="620.17" cy="212.24" r="2.1"/><circle cx="266.73" cy="593.02" r="2.1"/><circle cx="617.58" cy="218.15" r="2.1"/><circle cx="268.99" cy="593.02" r="2.1"/><circle cx="617.58" cy="215.76" r="2.1"/><circle cx="270.31" cy="601.51" r="2.1"/><circle cx="612.57" cy="214.35" r="2.1"/><circle cx="274.03" cy="601.51" r="2.1"/><circle cx="612.57" cy="210.41" r="2.1"/><circle cx="259.83" cy="605.76" r="2.1"/><circle cx="610.06" cy="225.47" r="2.1"/><circle cx="266.73" cy="605.76" r="2.1"/><circle cx="610.06" cy="218.15" r="2.1"/><circle cx="272.31" cy="605.76" r="2.1"/><circle cx="610.06" cy="212.24" r="2.1"/><circle cx="256.11" cy="609.88" r="2.1"/><circle cx="607.63" cy="229.42" r="2.1"/><circle cx="260.10" cy="609.88" r="2.1"/><circle cx="607.63" cy="225.19" r="2.1"/><circle cx="261.82" cy="609.88" r="2.1"/><circle cx="607.63" cy="223.36" r="2.1"/><circle cx="266.73" cy="609.88" r="2.1"/><circle cx="607.63" cy="218.15" r="2.1"/><circle cx="268.99" cy="609.88" r="2.1"/><circle cx="607.63" cy="215.76" r="2.1"/><circle cx="256.11" cy="618.37" r="2.1"/><circle cx="602.62" cy="229.42" r="2.1"/><circle cx="258.10" cy="618.37" r="2.1"/><circle cx="602.62" cy="227.30" r="2.1"/><circle cx="266.73" cy="618.37" r="2.1"/><circle cx="602.62" cy="218.15" r="2.1"/><circle cx="270.31" cy="618.37" r="2.1"/><circle cx="602.62" cy="214.35" r="2.1"/><circle cx="277.35" cy="618.37" r="2.1"/><circle cx="602.62" cy="206.89" r="2.1"/><circle cx="225.99" cy="622.75" r="2.1"/><circle cx="600.03" cy="261.38" r="2.1"/><circle cx="252.80" cy="622.75" r="2.1"/><circle cx="600.03" cy="232.94" r="2.1"/><circle cx="261.42" cy="622.75" r="2.1"/><circle cx="600.03" cy="223.78" r="2.1"/><circle cx="263.41" cy="622.75" r="2.1"/><circle cx="600.03" cy="221.67" r="2.1"/><circle cx="259.83" cy="627.00" r="2.1"/><circle cx="597.52" cy="225.47" r="2.1"/><circle cx="263.41" cy="627.00" r="2.1"/><circle cx="597.52" cy="221.67" r="2.1"/><circle cx="252.80" cy="639.61" r="2.1"/><circle cx="590.08" cy="232.94" r="2.1"/><circle cx="268.72" cy="639.61" r="2.1"/><circle cx="590.08" cy="216.04" r="2.1"/><circle cx="245.76" cy="643.99" r="2.1"/><circle cx="587.50" cy="240.40" r="2.1"/><circle cx="245.76" cy="647.97" r="2.1"/><circle cx="585.15" cy="240.40" r="2.1"/><circle cx="252.80" cy="647.97" r="2.1"/><circle cx="585.15" cy="232.94" r="2.1"/><circle cx="258.10" cy="647.97" r="2.1"/><circle cx="585.15" cy="227.30" r="2.1"/><circle cx="261.69" cy="652.35" r="2.1"/><circle cx="582.56" cy="223.50" r="2.1"/><circle cx="363.69" cy="584.52" r="2.1"/><circle cx="622.59" cy="303.93" r="2.1"/><circle cx="359.05" cy="588.64" r="2.1"/><circle cx="620.17" cy="308.80" r="2.1"/><circle cx="361.31" cy="588.64" r="2.1"/><circle cx="620.17" cy="306.44" r="2.1"/><circle cx="353.74" cy="593.02" r="2.1"/><circle cx="617.58" cy="314.36" r="2.1"/><circle cx="355.73" cy="593.02" r="2.1"/><circle cx="617.58" cy="312.27" r="2.1"/><circle cx="354.80" cy="601.51" r="2.1"/><circle cx="612.57" cy="313.25" r="2.1"/><circle cx="356.40" cy="601.51" r="2.1"/><circle cx="612.57" cy="311.58" r="2.1"/><circle cx="350.69" cy="605.76" r="2.1"/><circle cx="610.06" cy="317.55" r="2.1"/><circle cx="360.38" cy="605.76" r="2.1"/><circle cx="610.06" cy="307.41" r="2.1"/><circle cx="362.77" cy="605.76" r="2.1"/><circle cx="610.06" cy="304.91" r="2.1"/><circle cx="353.74" cy="609.88" r="2.1"/><circle cx="607.63" cy="314.36" r="2.1"/><circle cx="358.39" cy="609.88" r="2.1"/><circle cx="607.63" cy="309.49" r="2.1"/><circle cx="362.37" cy="609.88" r="2.1"/><circle cx="607.63" cy="305.32" r="2.1"/><circle cx="367.41" cy="609.88" r="2.1"/><circle cx="607.63" cy="300.04" r="2.1"/><circle cx="350.69" cy="618.37" r="2.1"/><circle cx="602.62" cy="317.55" r="2.1"/><circle cx="360.64" cy="618.37" r="2.1"/><circle cx="602.62" cy="307.13" r="2.1"/><circle cx="366.08" cy="618.37" r="2.1"/><circle cx="602.62" cy="301.43" r="2.1"/><circle cx="315.65" cy="622.75" r="2.1"/><circle cx="600.03" cy="354.24" r="2.1"/><circle cx="342.73" cy="622.75" r="2.1"/><circle cx="600.03" cy="325.89" r="2.1"/><circle cx="346.44" cy="622.75" r="2.1"/><circle cx="600.03" cy="322.00" r="2.1"/><circle cx="350.82" cy="622.75" r="2.1"/><circle cx="600.03" cy="317.41" r="2.1"/><circle cx="349.49" cy="627.00" r="2.1"/><circle cx="597.52" cy="318.80" r="2.1"/><circle cx="357.72" cy="627.00" r="2.1"/><circle cx="597.52" cy="310.19" r="2.1"/><circle cx="346.84" cy="639.61" r="2.1"/><circle cx="590.08" cy="321.58" r="2.1"/><circle cx="351.09" cy="639.61" r="2.1"/><circle cx="590.08" cy="317.14" r="2.1"/><circle cx="350.02" cy="643.99" r="2.1"/><circle cx="587.50" cy="318.25" r="2.1"/><circle cx="340.20" cy="647.97" r="2.1"/><circle cx="585.15" cy="328.53" r="2.1"/><circle cx="347.77" cy="647.97" r="2.1"/><circle cx="585.15" cy="320.61" r="2.1"/><circle cx="349.10" cy="647.97" r="2.1"/><circle cx="585.15" cy="319.22" r="2.1"/><circle cx="350.82" cy="652.35" r="2.1"/><circle cx="582.56" cy="317.41" r="2.1"/><circle cx="410.89" cy="584.52" r="2.1"/><circle cx="622.59" cy="442.13" r="2.1"/><circle cx="414.47" cy="588.64" r="2.1"/><circle cx="620.17" cy="438.40" r="2.1"/><circle cx="405.58" cy="593.02" r="2.1"/><circle cx="617.58" cy="447.66" r="2.1"/><circle cx="407.57" cy="593.02" r="2.1"/><circle cx="617.58" cy="445.59" r="2.1"/><circle cx="403.99" cy="601.51" r="2.1"/><circle cx="612.57" cy="449.32" r="2.1"/><circle cx="412.61" cy="601.51" r="2.1"/><circle cx="612.57" cy="440.34" r="2.1"/><circle cx="408.23" cy="605.76" r="2.1"/><circle cx="610.06" cy="444.90" r="2.1"/><circle cx="415.53" cy="605.76" r="2.1"/><circle cx="610.06" cy="437.29" r="2.1"/><circle cx="421.90" cy="605.76" r="2.1"/><circle cx="610.06" cy="430.66" r="2.1"/><circle cx="405.85" cy="609.88" r="2.1"/><circle cx="607.63" cy="447.38" r="2.1"/><circle cx="411.15" cy="609.88" r="2.1"/><circle cx="607.63" cy="441.86" r="2.1"/><circle cx="418.19" cy="609.88" r="2.1"/><circle cx="607.63" cy="434.53" r="2.1"/><circle cx="430.40" cy="609.88" r="2.1"/><circle cx="607.63" cy="421.81" r="2.1"/><circle cx="407.31" cy="618.37" r="2.1"/><circle cx="602.62" cy="445.86" r="2.1"/><circle cx="413.54" cy="618.37" r="2.1"/><circle cx="602.62" cy="439.37" r="2.1"/><circle cx="416.20" cy="618.37" r="2.1"/><circle cx="602.62" cy="436.60" r="2.1"/><circle cx="429.20" cy="618.37" r="2.1"/><circle cx="602.62" cy="423.06" r="2.1"/><circle cx="404.92" cy="622.75" r="2.1"/><circle cx="600.03" cy="448.35" r="2.1"/><circle cx="406.91" cy="622.75" r="2.1"/><circle cx="600.03" cy="446.28" r="2.1"/><circle cx="408.23" cy="622.75" r="2.1"/><circle cx="600.03" cy="444.90" r="2.1"/><circle cx="431.46" cy="622.75" r="2.1"/><circle cx="600.03" cy="420.71" r="2.1"/><circle cx="454.29" cy="622.75" r="2.1"/><circle cx="600.03" cy="396.93" r="2.1"/><circle cx="420.84" cy="627.00" r="2.1"/><circle cx="597.52" cy="431.77" r="2.1"/><circle cx="424.43" cy="627.00" r="2.1"/><circle cx="597.52" cy="428.03" r="2.1"/><circle cx="418.85" cy="639.61" r="2.1"/><circle cx="590.08" cy="433.84" r="2.1"/><circle cx="431.19" cy="639.61" r="2.1"/><circle cx="590.08" cy="420.98" r="2.1"/><circle cx="430.80" cy="643.99" r="2.1"/><circle cx="587.50" cy="421.40" r="2.1"/><circle cx="415.53" cy="647.97" r="2.1"/><circle cx="585.15" cy="437.29" r="2.1"/><circle cx="417.26" cy="647.97" r="2.1"/><circle cx="585.15" cy="435.50" r="2.1"/><circle cx="424.16" cy="647.97" r="2.1"/><circle cx="585.15" cy="428.31" r="2.1"/><circle cx="411.15" cy="652.35" r="2.1"/><circle cx="582.56" cy="441.86" r="2.1"/><circle cx="503.14" cy="584.52" r="2.1"/><circle cx="622.59" cy="535.01" r="2.1"/><circle cx="506.19" cy="588.64" r="2.1"/><circle cx="620.17" cy="531.50" r="2.1"/><circle cx="511.76" cy="588.64" r="2.1"/><circle cx="620.17" cy="525.09" r="2.1"/><circle cx="504.20" cy="593.02" r="2.1"/><circle cx="617.58" cy="533.79" r="2.1"/><circle cx="505.79" cy="593.02" r="2.1"/><circle cx="617.58" cy="531.96" r="2.1"/><circle cx="497.30" cy="601.51" r="2.1"/><circle cx="612.57" cy="541.73" r="2.1"/><circle cx="509.90" cy="601.51" r="2.1"/><circle cx="612.57" cy="527.23" r="2.1"/><circle cx="499.95" cy="605.76" r="2.1"/><circle cx="610.06" cy="538.68" r="2.1"/><circle cx="510.17" cy="605.76" r="2.1"/><circle cx="610.06" cy="526.92" r="2.1"/><circle cx="521.45" cy="605.76" r="2.1"/><circle cx="610.06" cy="513.95" r="2.1"/><circle cx="501.94" cy="609.88" r="2.1"/><circle cx="607.63" cy="536.39" r="2.1"/><circle cx="506.85" cy="609.88" r="2.1"/><circle cx="607.63" cy="530.74" r="2.1"/><circle cx="508.84" cy="609.88" r="2.1"/><circle cx="607.63" cy="528.45" r="2.1"/><circle cx="510.83" cy="609.88" r="2.1"/><circle cx="607.63" cy="526.16" r="2.1"/><circle cx="512.43" cy="609.88" r="2.1"/><circle cx="607.63" cy="524.33" r="2.1"/><circle cx="503.14" cy="618.37" r="2.1"/><circle cx="602.62" cy="535.01" r="2.1"/><circle cx="507.52" cy="618.37" r="2.1"/><circle cx="602.62" cy="529.98" r="2.1"/><circle cx="509.24" cy="618.37" r="2.1"/><circle cx="602.62" cy="527.99" r="2.1"/><circle cx="510.83" cy="618.37" r="2.1"/><circle cx="602.62" cy="526.16" r="2.1"/><circle cx="512.82" cy="618.37" r="2.1"/><circle cx="602.62" cy="523.87" r="2.1"/><circle cx="502.87" cy="622.75" r="2.1"/><circle cx="600.03" cy="535.32" r="2.1"/><circle cx="505.92" cy="622.75" r="2.1"/><circle cx="600.03" cy="531.81" r="2.1"/><circle cx="512.16" cy="622.75" r="2.1"/><circle cx="600.03" cy="524.63" r="2.1"/><circle cx="516.41" cy="622.75" r="2.1"/><circle cx="600.03" cy="519.75" r="2.1"/><circle cx="532.73" cy="622.75" r="2.1"/><circle cx="600.03" cy="500.97" r="2.1"/><circle cx="505.92" cy="627.00" r="2.1"/><circle cx="597.52" cy="531.81" r="2.1"/><circle cx="491.99" cy="639.61" r="2.1"/><circle cx="590.08" cy="547.84" r="2.1"/><circle cx="514.55" cy="639.61" r="2.1"/><circle cx="590.08" cy="521.89" r="2.1"/><circle cx="518.40" cy="643.99" r="2.1"/><circle cx="587.50" cy="517.46" r="2.1"/><circle cx="506.85" cy="647.97" r="2.1"/><circle cx="585.15" cy="530.74" r="2.1"/><circle cx="513.22" cy="647.97" r="2.1"/><circle cx="585.15" cy="523.41" r="2.1"/><circle cx="510.83" cy="652.35" r="2.1"/><circle cx="582.56" cy="526.16" r="2.1"/></g><g fill="#d62728"><circle cx="71.81" cy="119.29" r="2.1"/><circle cx="182.26" cy="47.61" r="2.1"/><circle cx="70.49" cy="124.47" r="2.1"/><circle cx="177.34" cy="49.07" r="2.1"/><circle cx="82.03" cy="123.27" r="2.1"/><circle cx="178.47" cy="36.41" r="2.1"/><circle cx="65.18" cy="134.56" r="2.1"/><circle cx="167.76" cy="54.89" r="2.1"/><circle cx="71.55" cy="137.48" r="2.1"/><circle cx="164.98" cy="47.90" r="2.1"/><circle cx="63.85" cy="136.15" r="2.1"/><circle cx="166.24" cy="56.35" r="2.1"/><circle cx="59.21" cy="138.81" r="2.1"/><circle cx="163.72" cy="61.44" r="2.1"/><circle cx="58.54" cy="143.45" r="2.1"/><circle cx="159.31" cy="62.17" r="2.1"/><circle cx="57.22" cy="148.10" r="2.1"/><circle cx="154.89" cy="63.62" r="2.1"/><circle cx="56.95" cy="161.64" r="2.1"/><circle cx="142.03" cy="63.91" r="2.1"/><circle cx="57.22" cy="221.79" r="2.1"/><circle cx="263.30" cy="63.62" r="2.1"/><circle cx="59.87" cy="223.25" r="2.1"/><circle cx="261.93" cy="60.71" r="2.1"/><circle cx="58.28" cy="228.82" r="2.1"/><circle cx="256.67" cy="62.46" r="2.1"/><circle cx="62.52" cy="229.49" r="2.1"/><circle cx="256.05" cy="57.80" r="2.1"/><circle cx="64.52" cy="230.81" r="2.1"/><circle cx="254.80" cy="55.62" r="2.1"/><circle cx="72.48" cy="227.50" r="2.1"/><circle cx="257.93" cy="46.89" r="2.1"/><circle cx="70.49" cy="231.21" r="2.1"/><circle cx="254.42" cy="49.07" r="2.1"/><circle cx="56.95" cy="232.81" r="2.1"/><circle cx="252.92" cy="63.91" r="2.1"/><circle cx="65.18" cy="232.81" r="2.1"/><circle cx="252.92" cy="54.89" r="2.1"/><circle cx="71.28" cy="244.09" r="2.1"/><circle cx="242.29" cy="48.20" r="2.1"/><circle cx="81.90" cy="243.96" r="2.1"/><circle cx="242.41" cy="36.55" r="2.1"/><circle cx="56.95" cy="253.51" r="2.1"/><circle cx="233.41" cy="63.91" r="2.1"/><circle cx="162.14" cy="221.52" r="2.1"/><circle cx="263.55" cy="140.47" r="2.1"/><circle cx="165.46" cy="221.52" r="2.1"/><circle cx="263.55" cy="136.97" r="2.1"/><circle cx="159.75" cy="228.82" r="2.1"/><circle cx="256.67" cy="142.98" r="2.1"/><circle cx="166.79" cy="229.49" r="2.1"/><circle cx="256.05" cy="135.58" r="2.1"/><circle cx="168.11" cy="231.48" r="2.1"/><circle cx="254.17" cy="134.18" r="2.1"/><circle cx="167.19" cy="232.81" r="2.1"/><circle cx="252.92" cy="135.16" r="2.1"/><circle cx="177.40" cy="231.21" r="2.1"/><circle cx="254.42" cy="124.40" r="2.1"/><circle cx="182.05" cy="227.50" r="2.1"/><circle cx="257.93" cy="119.51" r="2.1"/><circle cx="184.04" cy="227.23" r="2.1"/><circle cx="258.18" cy="117.42" r="2.1"/><circle cx="154.98" cy="232.81" r="2.1"/><circle cx="252.92" cy="148.01" r="2.1"/><circle cx="164.80" cy="244.09" r="2.1"/><circle cx="242.29" cy="137.67" r="2.1"/><circle cx="178.33" cy="244.09" r="2.1"/><circle cx="242.29" cy="123.42" r="2.1"/><circle cx="141.84" cy="253.51" r="2.1"/><circle cx="233.41" cy="161.84" r="2.1"/><circle cx="71.81" cy="312.14" r="2.1"/><circle cx="355.86" cy="47.61" r="2.1"/><circle cx="73.14" cy="308.96" r="2.1"/><circle cx="358.90" cy="46.16" r="2.1"/><circle cx="57.88" cy="313.20" r="2.1"/><circle cx="354.84" cy="62.90" r="2.1"/><circle cx="58.54" cy="319.58" r="2.1"/><circle cx="348.76" cy="62.17" r="2.1"/><circle cx="58.54" cy="321.83" r="2.1"/><circle cx="346.60" cy="62.17" r="2.1"/><circle cx="64.52" cy="319.18" r="2.1"/><circle cx="349.14" cy="55.62" r="2.1"/><circle cx="65.84" cy="322.50" r="2.1"/><circle cx="345.97" cy="54.16" r="2.1"/><circle cx="70.75" cy="320.90" r="2.1"/><circle cx="347.49" cy="48.78" r="2.1"/><circle cx="56.95" cy="328.07" r="2.1"/><circle cx="340.64" cy="63.91" r="2.1"/><circle cx="81.90" cy="336.04" r="2.1"/><circle cx="333.04" cy="36.55" r="2.1"/><circle cx="71.42" cy="340.81" r="2.1"/><circle cx="328.47" cy="48.05" r="2.1"/><circle cx="56.95" cy="350.77" r="2.1"/><circle cx="318.97" cy="63.91" r="2.1"/><circle cx="165.46" cy="311.88" r="2.1"/><circle cx="356.11" cy="136.97" r="2.1"/><circle cx="166.12" cy="314.53" r="2.1"/><circle cx="353.57" cy="136.28" r="2.1"/><circle cx="162.14" cy="318.78" r="2.1"/><circle cx="349.52" cy="140.47" r="2.1"/><circle cx="159.49" cy="321.83" r="2.1"/><circle cx="346.60" cy="143.26" r="2.1"/><circle cx="167.19" cy="322.50" r="2.1"/><circle cx="345.97" cy="135.16" r="2.1"/><circle cx="177.40" cy="321.17" r="2.1"/><circle cx="347.24" cy="124.40" r="2.1"/><circle cx="182.05" cy="311.88" r="2.1"/><circle cx="356.11" cy="119.51" r="2.1"/><circle cx="154.84" cy="328.07" r="2.1"/><circle cx="340.64" cy="148.15" r="2.1"/><circle cx="178.33" cy="336.04" r="2.1"/><circle cx="333.04" cy="123.42" r="2.1"/><circle cx="164.93" cy="340.81" r="2.1"/><circle cx="328.47" cy="137.53" r="2.1"/><circle cx="141.84" cy="350.77" r="2.1"/><circle cx="318.97" cy="161.84" r="2.1"/><circle cx="258.10" cy="311.88" r="2.1"/><circle cx="356.11" cy="227.30" r="2.1"/><circle cx="254.12" cy="319.18" r="2.1"/><circle cx="349.14" cy="231.53" r="2.1"/><circle cx="255.45" cy="321.17" r="2.1"/><circle cx="347.24" cy="230.12" r="2.1"/><circle cx="252.80" cy="322.50" r="2.1"/><circle cx="345.97" cy="232.94" r="2.1"/><circle cx="262.75" cy="318.78" r="2.1"/><circle cx="349.52" cy="222.38" r="2.1"/><circle cx="252.80" cy="328.07" r="2.1"/><circle cx="340.64" cy="232.94" r="2.1"/><circle cx="242.18" cy="336.04" r="2.1"/><circle cx="333.04" cy="244.20" r="2.1"/><circle cx="242.18" cy="340.81" r="2.1"/><circle cx="328.47" cy="244.20" r="2.1"/><circle cx="233.15" cy="350.77" r="2.1"/><circle cx="318.97" cy="253.78" r="2.1"/><circle cx="71.81" cy="409.06" r="2.1"/><circle cx="442.64" cy="47.61" r="2.1"/><circle cx="73.14" cy="418.09" r="2.1"/><circle cx="433.98" cy="46.16" r="2.1"/><circle cx="71.15" cy="424.46" r="2.1"/><circle cx="427.86" cy="48.34" r="2.1"/><circle cx="81.90" cy="424.46" r="2.1"/><circle cx="427.86" cy="36.55" r="2.1"/><circle cx="58.28" cy="432.03" r="2.1"/><circle cx="420.59" cy="62.46" r="2.1"/><circle cx="65.84" cy="434.15" r="2.1"/><circle cx="418.55" cy="54.16" r="2.1"/><circle cx="59.21" cy="443.71" r="2.1"/><circle cx="409.38" cy="61.44" r="2.1"/><circle cx="182.05" cy="409.06" r="2.1"/><circle cx="442.64" cy="119.51" r="2.1"/><circle cx="184.44" cy="418.09" r="2.1"/><circle cx="433.98" cy="117.00" r="2.1"/><circle cx="177.80" cy="424.46" r="2.1"/><circle cx="427.86" cy="123.98" r="2.1"/><circle cx="165.06" cy="424.46" r="2.1"/><circle cx="427.86" cy="137.39" r="2.1"/><circle cx="166.12" cy="432.16" r="2.1"/><circle cx="420.46" cy="136.28" r="2.1"/><circle cx="166.79" cy="433.75" r="2.1"/><circle cx="418.94" cy="135.58" r="2.1"/><circle cx="162.14" cy="439.73" r="2.1"/><circle cx="413.20" cy="140.47" r="2.1"/><circle cx="164.13" cy="439.33" r="2.1"/><circle cx="413.58" cy="138.37" r="2.1"/><circle cx="154.84" cy="444.37" r="2.1"/><circle cx="408.74" cy="148.15" r="2.1"/><circle cx="141.84" cy="440.39" r="2.1"/><circle cx="412.56" cy="161.84" r="2.1"/><circle cx="257.84" cy="409.06" r="2.1"/><circle cx="442.64" cy="227.59" r="2.1"/><circle cx="257.84" cy="418.09" r="2.1"/><circle cx="433.98" cy="227.59" r="2.1"/><circle cx="254.79" cy="424.46" r="2.1"/><circle cx="427.86" cy="230.83" r="2.1"/><circle cx="242.18" cy="424.46" r="2.1"/><circle cx="427.86" cy="244.20" r="2.1"/><circle cx="266.73" cy="431.76" r="2.1"/><circle cx="420.85" cy="218.15" r="2.1"/><circle cx="252.80" cy="434.42" r="2.1"/><circle cx="418.30" cy="232.94" r="2.1"/><circle cx="254.79" cy="435.08" r="2.1"/><circle cx="417.66" cy="230.83" r="2.1"/><circle cx="262.75" cy="439.73" r="2.1"/><circle cx="413.20" cy="222.38" r="2.1"/><circle cx="252.80" cy="444.37" r="2.1"/><circle cx="408.74" cy="232.94" r="2.1"/><circle cx="256.11" cy="444.11" r="2.1"/><circle cx="408.99" cy="229.42" r="2.1"/><circle cx="233.02" cy="440.39" r="2.1"/><circle cx="412.56" cy="253.92" r="2.1"/><circle cx="355.73" cy="409.06" r="2.1"/><circle cx="442.64" cy="312.27" r="2.1"/><circle cx="358.78" cy="418.09" r="2.1"/><circle cx="433.98" cy="309.08" r="2.1"/><circle cx="328.79" cy="424.46" r="2.1"/><circle cx="427.86" cy="340.48" r="2.1"/><circle cx="333.30" cy="424.46" r="2.1"/><circle cx="427.86" cy="335.76" r="2.1"/><circle cx="347.37" cy="424.46" r="2.1"/><circle cx="427.86" cy="321.03" r="2.1"/><circle cx="346.44" cy="434.42" r="2.1"/><circle cx="418.30" cy="322.00" r="2.1"/><circle cx="348.43" cy="434.42" r="2.1"/><circle cx="418.30" cy="319.92" r="2.1"/><circle cx="356.40" cy="439.73" r="2.1"/><circle cx="413.20" cy="311.58" r="2.1"/><circle cx="349.76" cy="440.39" r="2.1"/><circle cx="412.56" cy="318.53" r="2.1"/><circle cx="347.10" cy="443.71" r="2.1"/><circle cx="409.38" cy="321.31" r="2.1"/><circle cx="341.13" cy="444.37" r="2.1"/><circle cx="408.74" cy="327.56" r="2.1"/><circle cx="319.23" cy="440.39" r="2.1"/><circle cx="412.56" cy="350.49" r="2.1"/><circle cx="64.78" cy="494.90" r="2.1"/><circle cx="538.01" cy="55.33" r="2.1"/><circle cx="57.22" cy="509.50" r="2.1"/><circle cx="525.31" cy="63.62" r="2.1"/><circle cx="71.81" cy="515.74" r="2.1"/><circle cx="519.89" cy="47.61" r="2.1"/><circle cx="72.88" cy="519.19" r="2.1"/><circle cx="516.89" cy="46.45" r="2.1"/><circle cx="81.90" cy="520.79" r="2.1"/><circle cx="515.50" cy="36.55" r="2.1"/><circle cx="58.54" cy="522.78" r="2.1"/><circle cx="513.77" cy="62.17" r="2.1"/><circle cx="62.79" cy="521.85" r="2.1"/><circle cx="514.58" cy="57.51" r="2.1"/><circle cx="70.75" cy="525.70" r="2.1"/><circle cx="511.23" cy="48.78" r="2.1"/><circle cx="65.58" cy="533.66" r="2.1"/><circle cx="504.31" cy="54.45" r="2.1"/><circle cx="58.54" cy="538.04" r="2.1"/><circle cx="500.50" cy="62.17" r="2.1"/><circle cx="71.42" cy="539.37" r="2.1"/><circle cx="499.35" cy="48.05" r="2.1"/><circle cx="168.38" cy="494.90" r="2.1"/><circle cx="538.01" cy="133.90" r="2.1"/><circle cx="161.88" cy="509.50" r="2.1"/><circle cx="525.31" cy="140.75" r="2.1"/><circle cx="182.05" cy="515.74" r="2.1"/><circle cx="519.89" cy="119.51" r="2.1"/><circle cx="184.70" cy="519.46" r="2.1"/><circle cx="516.66" cy="116.72" r="2.1"/><circle cx="178.33" cy="520.79" r="2.1"/><circle cx="515.50" cy="123.42" r="2.1"/><circle cx="165.86" cy="521.85" r="2.1"/><circle cx="514.58" cy="136.55" r="2.1"/><circle cx="177.40" cy="525.70" r="2.1"/><circle cx="511.23" cy="124.40" r="2.1"/><circle cx="154.84" cy="526.76" r="2.1"/><circle cx="510.31" cy="148.15" r="2.1"/><circle cx="164.80" cy="539.37" r="2.1"/><circle cx="499.35" cy="137.67" r="2.1"/><circle cx="141.84" cy="531.81" r="2.1"/><circle cx="505.93" cy="161.84" r="2.1"/><circle cx="254.52" cy="494.90" r="2.1"/><circle cx="538.01" cy="231.11" r="2.1"/><circle cx="263.15" cy="509.50" r="2.1"/><circle cx="525.31" cy="221.95" r="2.1"/><circle cx="257.84" cy="515.74" r="2.1"/><circle cx="519.89" cy="227.59" r="2.1"/><circle cx="257.84" cy="519.46" r="2.1"/><circle cx="516.66" cy="227.59" r="2.1"/><circle cx="242.18" cy="521.05" r="2.1"/><circle cx="515.27" cy="244.20" r="2.1"/><circle cx="256.11" cy="522.12" r="2.1"/><circle cx="514.35" cy="229.42" r="2.1"/><circle cx="265.14" cy="522.38" r="2.1"/><circle cx="514.12" cy="219.84" r="2.1"/><circle cx="254.12" cy="525.43" r="2.1"/><circle cx="511.47" cy="231.53" r="2.1"/><circle cx="252.80" cy="526.76" r="2.1"/><circle cx="510.31" cy="232.94" r="2.1"/><circle cx="256.11" cy="530.08" r="2.1"/><circle cx="507.43" cy="229.42" r="2.1"/><circle cx="252.80" cy="533.80" r="2.1"/><circle cx="504.19" cy="232.94" r="2.1"/><circle cx="266.73" cy="538.04" r="2.1"/><circle cx="500.50" cy="218.15" r="2.1"/><circle cx="242.18" cy="539.37" r="2.1"/><circle cx="499.35" cy="244.20" r="2.1"/><circle cx="233.02" cy="531.81" r="2.1"/><circle cx="505.93" cy="253.92" r="2.1"/><circle cx="349.10" cy="494.90" r="2.1"/><circle cx="538.01" cy="319.22" r="2.1"/><circle cx="349.76" cy="509.50" r="2.1"/><circle cx="525.31" cy="318.53" r="2.1"/><circle cx="356.00" cy="515.74" r="2.1"/><circle cx="519.89" cy="311.99" r="2.1"/><circle cx="358.78" cy="519.46" r="2.1"/><circle cx="516.66" cy="309.08" r="2.1"/><circle cx="333.17" cy="521.05" r="2.1"/><circle cx="515.27" cy="335.90" r="2.1"/><circle cx="348.70" cy="522.12" r="2.1"/><circle cx="514.35" cy="319.64" r="2.1"/><circle cx="356.40" cy="522.38" r="2.1"/><circle cx="514.12" cy="311.58" r="2.1"/><circle cx="347.10" cy="525.43" r="2.1"/><circle cx="511.47" cy="321.31" r="2.1"/><circle cx="340.73" cy="526.76" r="2.1"/><circle cx="510.31" cy="327.98" r="2.1"/><circle cx="346.44" cy="529.42" r="2.1"/><circle cx="508.00" cy="322.00" r="2.1"/><circle cx="346.44" cy="533.80" r="2.1"/><circle cx="504.19" cy="322.00" r="2.1"/><circle cx="354.80" cy="538.04" r="2.1"/><circle cx="500.50" cy="313.25" r="2.1"/><circle cx="328.79" cy="539.37" r="2.1"/><circle cx="499.35" cy="340.48" r="2.1"/><circle cx="319.23" cy="531.81" r="2.1"/><circle cx="505.93" cy="350.49" r="2.1"/><circle cx="418.85" cy="494.90" r="2.1"/><circle cx="538.01" cy="433.84" r="2.1"/><circle cx="413.15" cy="509.50" r="2.1"/><circle cx="525.31" cy="439.78" r="2.1"/><circle cx="442.48" cy="515.74" r="2.1"/><circle cx="519.89" cy="409.24" r="2.1"/><circle cx="433.72" cy="519.46" r="2.1"/><circle cx="516.66" cy="418.36" r="2.1"/><circle cx="427.74" cy="521.05" r="2.1"/><circle cx="515.27" cy="424.58" r="2.1"/><circle cx="413.54" cy="522.78" r="2.1"/><circle cx="513.77" cy="439.37" r="2.1"/><circle cx="417.79" cy="521.85" r="2.1"/><circle cx="514.58" cy="434.94" r="2.1"/><circle cx="427.88" cy="525.70" r="2.1"/><circle cx="511.23" cy="424.44" r="2.1"/><circle cx="418.45" cy="533.66" r="2.1"/><circle cx="504.31" cy="434.25" r="2.1"/><circle cx="420.84" cy="538.04" r="2.1"/><circle cx="500.50" cy="431.77" r="2.1"/><circle cx="427.74" cy="539.37" r="2.1"/><circle cx="499.35" cy="424.58" r="2.1"/><circle cx="58.54" cy="572.04" r="2.1"/><circle cx="629.96" cy="62.17" r="2.1"/><circle cx="58.54" cy="605.76" r="2.1"/><circle cx="610.06" cy="62.17" r="2.1"/><circle cx="65.44" cy="605.76" r="2.1"/><circle cx="610.06" cy="54.60" r="2.1"/><circle cx="70.49" cy="605.76" r="2.1"/><circle cx="610.06" cy="49.07" r="2.1"/><circle cx="56.95" cy="614.12" r="2.1"/><circle cx="605.12" cy="63.91" r="2.1"/><circle cx="58.54" cy="614.12" r="2.1"/><circle cx="605.12" cy="62.17" r="2.1"/><circle cx="71.81" cy="614.12" r="2.1"/><circle cx="605.12" cy="47.61" r="2.1"/><circle cx="56.55" cy="622.75" r="2.1"/><circle cx="600.03" cy="64.35" r="2.1"/><circle cx="64.52" cy="622.75" r="2.1"/><circle cx="600.03" cy="55.62" r="2.1"/><circle cx="70.89" cy="622.75" r="2.1"/><circle cx="600.03" cy="48.63" r="2.1"/><circle cx="81.77" cy="622.75" r="2.1"/><circle cx="600.03" cy="36.70" r="2.1"/><circle cx="62.79" cy="631.38" r="2.1"/><circle cx="594.94" cy="57.51" r="2.1"/><circle cx="58.54" cy="639.61" r="2.1"/><circle cx="590.08" cy="62.17" r="2.1"/><circle cx="73.14" cy="639.61" r="2.1"/><circle cx="590.08" cy="46.16" r="2.1"/><circle cx="162.14" cy="572.04" r="2.1"/><circle cx="629.96" cy="140.47" r="2.1"/><circle cx="162.81" cy="605.76" r="2.1"/><circle cx="610.06" cy="139.77" r="2.1"/><circle cx="164.80" cy="605.76" r="2.1"/><circle cx="610.06" cy="137.67" r="2.1"/><circle cx="177.40" cy="605.76" r="2.1"/><circle cx="610.06" cy="124.40" r="2.1"/><circle cx="154.84" cy="614.12" r="2.1"/><circle cx="605.12" cy="148.15" r="2.1"/><circle cx="166.39" cy="614.12" r="2.1"/><circle cx="605.12" cy="136.00" r="2.1"/><circle cx="182.31" cy="614.12" r="2.1"/><circle cx="605.12" cy="119.23" r="2.1"/><circle cx="141.84" cy="622.75" r="2.1"/><circle cx="600.03" cy="161.84" r="2.1"/><circle cx="164.80" cy="622.75" r="2.1"/><circle cx="600.03" cy="137.67" r="2.1"/><circle cx="168.11" cy="622.75" r="2.1"/><circle cx="600.03" cy="134.18" r="2.1"/><circle cx="178.33" cy="622.75" r="2.1"/><circle cx="600.03" cy="123.42" r="2.1"/><circle cx="166.12" cy="631.38" r="2.1"/><circle cx="594.94" cy="136.28" r="2.1"/><circle cx="159.89" cy="639.61" r="2.1"/><circle cx="590.08" cy="142.84" r="2.1"/><circle cx="184.70" cy="639.61" r="2.1"/><circle cx="590.08" cy="116.72" r="2.1"/><circle cx="259.83" cy="572.04" r="2.1"/><circle cx="629.96" cy="225.47" r="2.1"/><circle cx="252.80" cy="605.76" r="2.1"/><circle cx="610.06" cy="232.94" r="2.1"/><circle cx="254.79" cy="605.76" r="2.1"/><circle cx="610.06" cy="230.83" r="2.1"/><circle cx="263.41" cy="605.76" r="2.1"/><circle cx="610.06" cy="221.67" r="2.1"/><circle cx="252.80" cy="614.12" r="2.1"/><circle cx="605.12" cy="232.94" r="2.1"/><circle cx="258.10" cy="614.12" r="2.1"/><circle cx="605.12" cy="227.30" r="2.1"/><circle cx="266.73" cy="614.12" r="2.1"/><circle cx="605.12" cy="218.15" r="2.1"/><circle cx="233.15" cy="622.75" r="2.1"/><circle cx="600.03" cy="253.78" r="2.1"/><circle cx="242.18" cy="622.75" r="2.1"/><circle cx="600.03" cy="244.20" r="2.1"/><circle cx="254.79" cy="622.75" r="2.1"/><circle cx="600.03" cy="230.83" r="2.1"/><circle cx="256.11" cy="631.38" r="2.1"/><circle cx="594.94" cy="229.42" r="2.1"/><circle cx="256.11" cy="639.61" r="2.1"/><circle cx="590.08" cy="229.42" r="2.1"/><circle cx="258.37" cy="639.61" r="2.1"/><circle cx="590.08" cy="227.02" r="2.1"/><circle cx="348.17" cy="572.04" r="2.1"/><circle cx="629.96" cy="320.19" r="2.1"/><circle cx="346.44" cy="605.76" r="2.1"/><circle cx="610.06" cy="322.00" r="2.1"/><circle cx="347.77" cy="605.76" r="2.1"/><circle cx="610.06" cy="320.61" r="2.1"/><circle cx="356.13" cy="605.76" r="2.1"/><circle cx="610.06" cy="311.86" r="2.1"/><circle cx="340.73" cy="614.12" r="2.1"/><circle cx="605.12" cy="327.98" r="2.1"/><circle cx="354.80" cy="614.12" r="2.1"/><circle cx="605.12" cy="313.25" r="2.1"/><circle cx="356.13" cy="614.12" r="2.1"/><circle cx="605.12" cy="311.86" r="2.1"/><circle cx="319.23" cy="622.75" r="2.1"/><circle cx="600.03" cy="350.49" r="2.1"/><circle cx="328.79" cy="622.75" r="2.1"/><circle cx="600.03" cy="340.48" r="2.1"/><circle cx="333.30" cy="622.75" r="2.1"/><circle cx="600.03" cy="335.76" r="2.1"/><circle cx="349.10" cy="622.75" r="2.1"/><circle cx="600.03" cy="319.22" r="2.1"/><circle cx="348.70" cy="631.38" r="2.1"/><circle cx="594.94" cy="319.64" r="2.1"/><circle cx="358.78" cy="639.61" r="2.1"/><circle cx="590.08" cy="309.08" r="2.1"/><circle cx="410.49" cy="572.04" r="2.1"/><circle cx="629.96" cy="442.55" r="2.1"/><circle cx="412.61" cy="605.76" r="2.1"/><circle cx="610.06" cy="440.34" r="2.1"/><circle cx="418.85" cy="605.76" r="2.1"/><circle cx="610.06" cy="433.84" r="2.1"/><circle cx="427.74" cy="605.76" r="2.1"/><circle cx="610.06" cy="424.58" r="2.1"/><circle cx="408.63" cy="614.12" r="2.1"/><circle cx="605.12" cy="444.48" r="2.1"/><circle cx="420.84" cy="614.12" r="2.1"/><circle cx="605.12" cy="431.77" r="2.1"/><circle cx="442.74" cy="614.12" r="2.1"/><circle cx="605.12" cy="408.96" r="2.1"/><circle cx="412.48" cy="622.75" r="2.1"/><circle cx="600.03" cy="440.47" r="2.1"/><circle cx="418.85" cy="622.75" r="2.1"/><circle cx="600.03" cy="433.84" r="2.1"/><circle cx="427.48" cy="622.75" r="2.1"/><circle cx="600.03" cy="424.86" r="2.1"/><circle cx="417.52" cy="631.38" r="2.1"/><circle cx="594.94" cy="435.22" r="2.1"/><circle cx="408.90" cy="639.61" r="2.1"/><circle cx="590.08" cy="444.21" r="2.1"/><circle cx="433.72" cy="639.61" r="2.1"/><circle cx="590.08" cy="418.36" r="2.1"/><circle cx="511.10" cy="572.04" r="2.1"/><circle cx="629.96" cy="525.86" r="2.1"/><circle cx="503.93" cy="605.76" r="2.1"/><circle cx="610.06" cy="534.10" r="2.1"/><circle cx="511.10" cy="605.76" r="2.1"/><circle cx="610.06" cy="525.86" r="2.1"/><circle cx="513.89" cy="605.76" r="2.1"/><circle cx="610.06" cy="522.65" r="2.1"/><circle cx="525.03" cy="605.76" r="2.1"/><circle cx="610.06" cy="509.83" r="2.1"/><circle cx="499.95" cy="614.12" r="2.1"/><circle cx="605.12" cy="538.68" r="2.1"/><circle cx="509.90" cy="614.12" r="2.1"/><circle cx="605.12" cy="527.23" r="2.1"/><circle cx="519.46" cy="614.12" r="2.1"/><circle cx="605.12" cy="516.24" r="2.1"/><circle cx="499.15" cy="622.75" r="2.1"/><circle cx="600.03" cy="539.59" r="2.1"/><circle cx="506.19" cy="622.75" r="2.1"/><circle cx="600.03" cy="531.50" r="2.1"/><circle cx="514.55" cy="622.75" r="2.1"/><circle cx="600.03" cy="521.89" r="2.1"/><circle cx="537.64" cy="622.75" r="2.1"/><circle cx="600.03" cy="495.32" r="2.1"/><circle cx="514.15" cy="631.38" r="2.1"/><circle cx="594.94" cy="522.34" r="2.1"/><circle cx="507.52" cy="639.61" r="2.1"/><circle cx="590.08" cy="529.98" r="2.1"/><circle cx="516.54" cy="639.61" r="2.1"/><circle cx="590.08" cy="519.60" r="2.1"/></g><path d="M154.20 68.60L176.10 52.70" stroke="#2a7aba" stroke-width="1.1" fill="none"/><path d="M492.00 68.60L544.70 53.10" stroke="#2a7aba" stroke-width="1.1" fill="none"/><path d="M582.00 68.60L612.50 53.10" stroke="#2a7aba" stroke-width="1.1" fill="none"/><path d="M258.10 125.80L263.70 149.20" stroke="#2a7aba" stroke-width="1.1" fill="none"/><path d="M491.20 148.50L544.70 126.20" stroke="#2a7aba" stroke-width="1.1" fill="none"/><path d="M491.20 221.80L544.70 227.50" stroke="#2a7aba" stroke-width="1.1" fill="none"/><path d="M491.20 317.50L544.70 315.50" stroke="#2a7aba" stroke-width="1.1" fill="none"/><g fill="none" stroke="#262626" stroke-width="0.6"><path d="M32.70 0.70V89.20H116.90" /><path d="M30.30 69.60H32.70" /><path d="M30.30 49.57H32.70" /><path d="M30.30 29.53H32.70" /><path d="M30.30 9.50H32.70" /><path d="M33.50 89.20V91.60" /><path d="M56.33 89.20V91.60" /><path d="M79.17 89.20V91.60" /><path d="M102.00 89.20V91.60" /><path d="M121.30 0.70V89.20H205.50" /><path d="M118.90 69.60H121.30" /><path d="M118.90 49.57H121.30" /><path d="M118.90 29.53H121.30" /><path d="M118.90 9.50H121.30" /><path d="M141.40 89.20V91.60" /><path d="M164.20 89.20V91.60" /><path d="M187.00 89.20V91.60" /><path d="M209.90 0.70V89.20H294.10" /><path d="M207.50 69.60H209.90" /><path d="M207.50 49.57H209.90" /><path d="M207.50 29.53H209.90" /><path d="M207.50 9.50H209.90" /><path d="M233.30 89.20V91.60" /><path d="M268.50 89.20V91.60" /><path d="M298.50 0.70V89.20H382.70" /><path d="M296.10 69.60H298.50" /><path d="M296.10 49.57H298.50" /><path d="M296.10 29.53H298.50" /><path d="M296.10 9.50H298.50" /><path d="M298.50 89.20V91.60" /><path d="M323.27 89.20V91.60" /><path d="M348.03 89.20V91.60" /><path d="M372.80 89.20V91.60" /><path d="M387.10 0.70V89.20H471.30" /><path d="M384.70 69.60H387.10" /><path d="M384.70 49.57H387.10" /><path d="M384.70 29.53H387.10" /><path d="M384.70 9.50H387.10" /><path d="M411.40 89.20V91.60" /><path d="M441.55 89.20V91.60" /><path d="M475.70 0.70V89.20H559.90" /><path d="M473.30 69.60H475.70" /><path d="M473.30 49.57H475.70" /><path d="M473.30 29.53H475.70" /><path d="M473.30 9.50H475.70" /><path d="M476.40 89.20V91.60" /><path d="M513.90 89.20V91.60" /><path d="M551.40 89.20V91.60" /><path d="M564.30 0.70V89.20H648.50" /><path d="M561.90 69.60H564.30" /><path d="M561.90 49.57H564.30" /><path d="M561.90 29.53H564.30" /><path d="M561.90 9.50H564.30" /><path d="M567.70 89.20V91.60" /><path d="M592.57 89.20V91.60" /><path d="M617.43 89.20V91.60" /><path d="M642.30 89.20V91.60" /><path d="M32.70 95.18V183.68H116.90" /><path d="M30.30 162.30H32.70" /><path d="M30.30 138.30H32.70" /><path d="M30.30 114.30H32.70" /><path d="M33.50 183.68V186.08" /><path d="M56.33 183.68V186.08" /><path d="M79.17 183.68V186.08" /><path d="M102.00 183.68V186.08" /><path d="M121.30 95.18V183.68H205.50" /><path d="M118.90 162.30H121.30" /><path d="M118.90 138.30H121.30" /><path d="M118.90 114.30H121.30" /><path d="M141.40 183.68V186.08" /><path d="M164.20 183.68V186.08" /><path d="M187.00 183.68V186.08" /><path d="M209.90 95.18V183.68H294.10" /><path d="M207.50 162.30H209.90" /><path d="M207.50 138.30H209.90" /><path d="M207.50 114.30H209.90" /><path d="M233.30 183.68V186.08" /><path d="M268.50 183.68V186.08" /><path d="M298.50 95.18V183.68H382.70" /><path d="M296.10 162.30H298.50" /><path d="M296.10 138.30H298.50" /><path d="M296.10 114.30H298.50" /><path d="M298.50 183.68V186.08" /><path d="M323.27 183.68V186.08" /><path d="M348.03 183.68V186.08" /><path d="M372.80 183.68V186.08" /><path d="M387.10 95.18V183.68H471.30" /><path d="M384.70 162.30H387.10" /><path d="M384.70 138.30H387.10" /><path d="M384.70 114.30H387.10" /><path d="M411.40 183.68V186.08" /><path d="M441.55 183.68V186.08" /><path d="M475.70 95.18V183.68H559.90" /><path d="M473.30 162.30H475.70" /><path d="M473.30 138.30H475.70" /><path d="M473.30 114.30H475.70" /><path d="M476.40 183.68V186.08" /><path d="M513.90 183.68V186.08" /><path d="M551.40 183.68V186.08" /><path d="M564.30 95.18V183.68H648.50" /><path d="M561.90 162.30H564.30" /><path d="M561.90 138.30H564.30" /><path d="M561.90 114.30H564.30" /><path d="M567.70 183.68V186.08" /><path d="M592.57 183.68V186.08" /><path d="M617.43 183.68V186.08" /><path d="M642.30 183.68V186.08" /><path d="M32.70 189.66V278.16H116.90" /><path d="M30.30 272.30H32.70" /><path d="M30.30 253.62H32.70" /><path d="M30.30 234.95H32.70" /><path d="M30.30 216.28H32.70" /><path d="M30.30 197.60H32.70" /><path d="M33.50 278.16V280.56" /><path d="M56.33 278.16V280.56" /><path d="M79.17 278.16V280.56" /><path d="M102.00 278.16V280.56" /><path d="M121.30 189.66V278.16H205.50" /><path d="M118.90 272.30H121.30" /><path d="M118.90 253.62H121.30" /><path d="M118.90 234.95H121.30" /><path d="M118.90 216.28H121.30" /><path d="M118.90 197.60H121.30" /><path d="M141.40 278.16V280.56" /><path d="M164.20 278.16V280.56" /><path d="M187.00 278.16V280.56" /><path d="M209.90 189.66V278.16H294.10" /><path d="M207.50 272.30H209.90" /><path d="M207.50 253.62H209.90" /><path d="M207.50 234.95H209.90" /><path d="M207.50 216.28H209.90" /><path d="M207.50 197.60H209.90" /><path d="M233.30 278.16V280.56" /><path d="M268.50 278.16V280.56" /><path d="M298.50 189.66V278.16H382.70" /><path d="M296.10 272.30H298.50" /><path d="M296.10 253.62H298.50" /><path d="M296.10 234.95H298.50" /><path d="M296.10 216.28H298.50" /><path d="M296.10 197.60H298.50" /><path d="M298.50 278.16V280.56" /><path d="M323.27 278.16V280.56" /><path d="M348.03 278.16V280.56" /><path d="M372.80 278.16V280.56" /><path d="M387.10 189.66V278.16H471.30" /><path d="M384.70 272.30H387.10" /><path d="M384.70 253.62H387.10" /><path d="M384.70 234.95H387.10" /><path d="M384.70 216.28H387.10" /><path d="M384.70 197.60H387.10" /><path d="M411.40 278.16V280.56" /><path d="M441.55 278.16V280.56" /><path d="M475.70 189.66V278.16H559.90" /><path d="M473.30 272.30H475.70" /><path d="M473.30 253.62H475.70" /><path d="M473.30 234.95H475.70" /><path d="M473.30 216.28H475.70" /><path d="M473.30 197.60H475.70" /><path d="M476.40 278.16V280.56" /><path d="M513.90 278.16V280.56" /><path d="M551.40 278.16V280.56" /><path d="M564.30 189.66V278.16H648.50" /><path d="M561.90 272.30H564.30" /><path d="M561.90 253.62H564.30" /><path d="M561.90 234.95H564.30" /><path d="M561.90 216.28H564.30" /><path d="M561.90 197.60H564.30" /><path d="M567.70 278.16V280.56" /><path d="M592.57 278.16V280.56" /><path d="M617.43 278.16V280.56" /><path d="M642.30 278.16V280.56" /><path d="M32.70 284.14V372.64H116.90" /><path d="M30.30 372.20H32.70" /><path d="M30.30 346.27H32.70" /><path d="M30.30 320.33H32.70" /><path d="M30.30 294.40H32.70" /><path d="M33.50 372.64V375.04" /><path d="M56.33 372.64V375.04" /><path d="M79.17 372.64V375.04" /><path d="M102.00 372.64V375.04" /><path d="M121.30 284.14V372.64H205.50" /><path d="M118.90 372.20H121.30" /><path d="M118.90 346.27H121.30" /><path d="M118.90 320.33H121.30" /><path d="M118.90 294.40H121.30" /><path d="M141.40 372.64V375.04" /><path d="M164.20 372.64V375.04" /><path d="M187.00 372.64V375.04" /><path d="M209.90 284.14V372.64H294.10" /><path d="M207.50 372.20H209.90" /><path d="M207.50 346.27H209.90" /><path d="M207.50 320.33H209.90" /><path d="M207.50 294.40H209.90" /><path d="M233.30 372.64V375.04" /><path d="M268.50 372.64V375.04" /><path d="M298.50 284.14V372.64H382.70" /><path d="M296.10 372.20H298.50" /><path d="M296.10 346.27H298.50" /><path d="M296.10 320.33H298.50" /><path d="M296.10 294.40H298.50" /><path d="M298.50 372.64V375.04" /><path d="M323.27 372.64V375.04" /><path d="M348.03 372.64V375.04" /><path d="M372.80 372.64V375.04" /><path d="M387.10 284.14V372.64H471.30" /><path d="M384.70 372.20H387.10" /><path d="M384.70 346.27H387.10" /><path d="M384.70 320.33H387.10" /><path d="M384.70 294.40H387.10" /><path d="M411.40 372.64V375.04" /><path d="M441.55 372.64V375.04" /><path d="M475.70 284.14V372.64H559.90" /><path d="M473.30 372.20H475.70" /><path d="M473.30 346.27H475.70" /><path d="M473.30 320.33H475.70" /><path d="M473.30 294.40H475.70" /><path d="M476.40 372.64V375.04" /><path d="M513.90 372.64V375.04" /><path d="M551.40 372.64V375.04" /><path d="M564.30 284.14V372.64H648.50" /><path d="M561.90 372.20H564.30" /><path d="M561.90 346.27H564.30" /><path d="M561.90 320.33H564.30" /><path d="M561.90 294.40H564.30" /><path d="M567.70 372.64V375.04" /><path d="M592.57 372.64V375.04" /><path d="M617.43 372.64V375.04" /><path d="M642.30 372.64V375.04" /><path d="M32.70 378.62V467.12H116.90" /><path d="M30.30 457.30H32.70" /><path d="M30.30 441.60H32.70" /><path d="M30.30 425.90H32.70" /><path d="M30.30 410.20H32.70" /><path d="M30.30 394.50H32.70" /><path d="M30.30 378.80H32.70" /><path d="M33.50 467.12V469.52" /><path d="M56.33 467.12V469.52" /><path d="M79.17 467.12V469.52" /><path d="M102.00 467.12V469.52" /><path d="M121.30 378.62V467.12H205.50" /><path d="M118.90 457.30H121.30" /><path d="M118.90 441.60H121.30" /><path d="M118.90 425.90H121.30" /><path d="M118.90 410.20H121.30" /><path d="M118.90 394.50H121.30" /><path d="M118.90 378.80H121.30" /><path d="M141.40 467.12V469.52" /><path d="M164.20 467.12V469.52" /><path d="M187.00 467.12V469.52" /><path d="M209.90 378.62V467.12H294.10" /><path d="M207.50 457.30H209.90" /><path d="M207.50 441.60H209.90" /><path d="M207.50 425.90H209.90" /><path d="M207.50 410.20H209.90" /><path d="M207.50 394.50H209.90" /><path d="M207.50 378.80H209.90" /><path d="M233.30 467.12V469.52" /><path d="M268.50 467.12V469.52" /><path d="M298.50 378.62V467.12H382.70" /><path d="M296.10 457.30H298.50" /><path d="M296.10 441.60H298.50" /><path d="M296.10 425.90H298.50" /><path d="M296.10 410.20H298.50" /><path d="M296.10 394.50H298.50" /><path d="M296.10 378.80H298.50" /><path d="M298.50 467.12V469.52" /><path d="M323.27 467.12V469.52" /><path d="M348.03 467.12V469.52" /><path d="M372.80 467.12V469.52" /><path d="M387.10 378.62V467.12H471.30" /><path d="M384.70 457.30H387.10" /><path d="M384.70 441.60H387.10" /><path d="M384.70 425.90H387.10" /><path d="M384.70 410.20H387.10" /><path d="M384.70 394.50H387.10" /><path d="M384.70 378.80H387.10" /><path d="M411.40 467.12V469.52" /><path d="M441.55 467.12V469.52" /><path d="M475.70 378.62V467.12H559.90" /><path d="M473.30 457.30H475.70" /><path d="M473.30 441.60H475.70" /><path d="M473.30 425.90H475.70" /><path d="M473.30 410.20H475.70" /><path d="M473.30 394.50H475.70" /><path d="M473.30 378.80H475.70" /><path d="M476.40 467.12V469.52" /><path d="M513.90 467.12V469.52" /><path d="M551.40 467.12V469.52" /><path d="M564.30 378.62V467.12H648.50" /><path d="M561.90 457.30H564.30" /><path d="M561.90 441.60H564.30" /><path d="M561.90 425.90H564.30" /><path d="M561.90 410.20H564.30" /><path d="M561.90 394.50H564.30" /><path d="M561.90 378.80H564.30" /><path d="M567.70 467.12V469.52" /><path d="M592.57 467.12V469.52" /><path d="M617.43 467.12V469.52" /><path d="M642.30 467.12V469.52" /><path d="M32.70 473.10V561.60H116.90" /><path d="M30.30 544.20H32.70" /><path d="M30.30 522.63H32.70" /><path d="M30.30 501.07H32.70" /><path d="M30.30 479.50H32.70" /><path d="M33.50 561.60V564.00" /><path d="M56.33 561.60V564.00" /><path d="M79.17 561.60V564.00" /><path d="M102.00 561.60V564.00" /><path d="M121.30 473.10V561.60H205.50" /><path d="M118.90 544.20H121.30" /><path d="M118.90 522.63H121.30" /><path d="M118.90 501.07H121.30" /><path d="M118.90 479.50H121.30" /><path d="M141.40 561.60V564.00" /><path d="M164.20 561.60V564.00" /><path d="M187.00 561.60V564.00" /><path d="M209.90 473.10V561.60H294.10" /><path d="M207.50 544.20H209.90" /><path d="M207.50 522.63H209.90" /><path d="M207.50 501.07H209.90" /><path d="M207.50 479.50H209.90" /><path d="M233.30 561.60V564.00" /><path d="M268.50 561.60V564.00" /><path d="M298.50 473.10V561.60H382.70" /><path d="M296.10 544.20H298.50" /><path d="M296.10 522.63H298.50" /><path d="M296.10 501.07H298.50" /><path d="M296.10 479.50H298.50" /><path d="M298.50 561.60V564.00" /><path d="M323.27 561.60V564.00" /><path d="M348.03 561.60V564.00" /><path d="M372.80 561.60V564.00" /><path d="M387.10 473.10V561.60H471.30" /><path d="M384.70 544.20H387.10" /><path d="M384.70 522.63H387.10" /><path d="M384.70 501.07H387.10" /><path d="M384.70 479.50H387.10" /><path d="M411.40 561.60V564.00" /><path d="M441.55 561.60V564.00" /><path d="M475.70 473.10V561.60H559.90" /><path d="M473.30 544.20H475.70" /><path d="M473.30 522.63H475.70" /><path d="M473.30 501.07H475.70" /><path d="M473.30 479.50H475.70" /><path d="M476.40 561.60V564.00" /><path d="M513.90 561.60V564.00" /><path d="M551.40 561.60V564.00" /><path d="M564.30 473.10V561.60H648.50" /><path d="M561.90 544.20H564.30" /><path d="M561.90 522.63H564.30" /><path d="M561.90 501.07H564.30" /><path d="M561.90 479.50H564.30" /><path d="M567.70 561.60V564.00" /><path d="M592.57 561.60V564.00" /><path d="M617.43 561.60V564.00" /><path d="M642.30 561.60V564.00" /><path d="M32.70 567.58V656.08H116.90" /><path d="M30.30 635.40H32.70" /><path d="M30.30 614.33H32.70" /><path d="M30.30 593.27H32.70" /><path d="M30.30 572.20H32.70" /><path d="M33.50 656.08V658.48" /><path d="M56.33 656.08V658.48" /><path d="M79.17 656.08V658.48" /><path d="M102.00 656.08V658.48" /><path d="M121.30 567.58V656.08H205.50" /><path d="M118.90 635.40H121.30" /><path d="M118.90 614.33H121.30" /><path d="M118.90 593.27H121.30" /><path d="M118.90 572.20H121.30" /><path d="M141.40 656.08V658.48" /><path d="M164.20 656.08V658.48" /><path d="M187.00 656.08V658.48" /><path d="M209.90 567.58V656.08H294.10" /><path d="M207.50 635.40H209.90" /><path d="M207.50 614.33H209.90" /><path d="M207.50 593.27H209.90" /><path d="M207.50 572.20H209.90" /><path d="M233.30 656.08V658.48" /><path d="M268.50 656.08V658.48" /><path d="M298.50 567.58V656.08H382.70" /><path d="M296.10 635.40H298.50" /><path d="M296.10 614.33H298.50" /><path d="M296.10 593.27H298.50" /><path d="M296.10 572.20H298.50" /><path d="M298.50 656.08V658.48" /><path d="M323.27 656.08V658.48" /><path d="M348.03 656.08V658.48" /><path d="M372.80 656.08V658.48" /><path d="M387.10 567.58V656.08H471.30" /><path d="M384.70 635.40H387.10" /><path d="M384.70 614.33H387.10" /><path d="M384.70 593.27H387.10" /><path d="M384.70 572.20H387.10" /><path d="M411.40 656.08V658.48" /><path d="M441.55 656.08V658.48" /><path d="M475.70 567.58V656.08H559.90" /><path d="M473.30 635.40H475.70" /><path d="M473.30 614.33H475.70" /><path d="M473.30 593.27H475.70" /><path d="M473.30 572.20H475.70" /><path d="M476.40 656.08V658.48" /><path d="M513.90 656.08V658.48" /><path d="M551.40 656.08V658.48" /><path d="M564.30 567.58V656.08H648.50" /><path d="M561.90 635.40H564.30" /><path d="M561.90 614.33H564.30" /><path d="M561.90 593.27H564.30" /><path d="M561.90 572.20H564.30" /><path d="M567.70 656.08V658.48" /><path d="M592.57 656.08V658.48" /><path d="M617.43 656.08V658.48" /><path d="M642.30 656.08V658.48" /></g><g fill="#1a1a1a" stroke="#1a1a1a" stroke-width="0.15" font-size="7.8"><text x="27.70" y="72.00" text-anchor="end" textLength="12.79" lengthAdjust="spacingAndGlyphs">200</text><text x="27.70" y="51.97" text-anchor="end" textLength="12.79" lengthAdjust="spacingAndGlyphs">400</text><text x="27.70" y="31.93" text-anchor="end" textLength="12.79" lengthAdjust="spacingAndGlyphs">600</text><text x="27.70" y="11.90" text-anchor="end" textLength="12.79" lengthAdjust="spacingAndGlyphs">800</text><text x="27.70" y="164.70" text-anchor="end" textLength="12.79" lengthAdjust="spacingAndGlyphs">500</text><text x="27.70" y="140.70" text-anchor="end" textLength="17.05" lengthAdjust="spacingAndGlyphs">1000</text><text x="27.70" y="116.70" text-anchor="end" textLength="17.05" lengthAdjust="spacingAndGlyphs">1500</text><text x="27.70" y="274.70" text-anchor="end" textLength="4.26" lengthAdjust="spacingAndGlyphs">1</text><text x="27.70" y="256.02" text-anchor="end" textLength="4.26" lengthAdjust="spacingAndGlyphs">2</text><text x="27.70" y="237.35" text-anchor="end" textLength="4.26" lengthAdjust="spacingAndGlyphs">3</text><text x="27.70" y="218.68" text-anchor="end" textLength="4.26" lengthAdjust="spacingAndGlyphs">4</text><text x="27.70" y="200.00" text-anchor="end" textLength="4.26" lengthAdjust="spacingAndGlyphs">5</text><text x="27.70" y="374.60" text-anchor="end" textLength="4.26" lengthAdjust="spacingAndGlyphs">0</text><text x="27.70" y="348.67" text-anchor="end" textLength="8.53" lengthAdjust="spacingAndGlyphs">20</text><text x="27.70" y="322.73" text-anchor="end" textLength="8.53" lengthAdjust="spacingAndGlyphs">40</text><text x="27.70" y="296.80" text-anchor="end" textLength="8.53" lengthAdjust="spacingAndGlyphs">60</text><text x="27.70" y="459.70" text-anchor="end" textLength="10.66" lengthAdjust="spacingAndGlyphs">1.5</text><text x="27.70" y="444.00" text-anchor="end" textLength="10.66" lengthAdjust="spacingAndGlyphs">2.0</text><text x="27.70" y="428.30" text-anchor="end" textLength="10.66" lengthAdjust="spacingAndGlyphs">2.5</text><text x="27.70" y="412.60" text-anchor="end" textLength="10.66" lengthAdjust="spacingAndGlyphs">3.0</text><text x="27.70" y="396.90" text-anchor="end" textLength="10.66" lengthAdjust="spacingAndGlyphs">3.5</text><text x="27.70" y="381.20" text-anchor="end" textLength="10.66" lengthAdjust="spacingAndGlyphs">4.0</text><text x="27.70" y="546.60" text-anchor="end" textLength="12.79" lengthAdjust="spacingAndGlyphs">150</text><text x="27.70" y="525.03" text-anchor="end" textLength="12.79" lengthAdjust="spacingAndGlyphs">200</text><text x="27.70" y="503.47" text-anchor="end" textLength="12.79" lengthAdjust="spacingAndGlyphs">250</text><text x="27.70" y="481.90" text-anchor="end" textLength="12.79" lengthAdjust="spacingAndGlyphs">300</text><text x="27.70" y="637.80" text-anchor="end" textLength="14.92" lengthAdjust="spacingAndGlyphs">1.10</text><text x="27.70" y="616.73" text-anchor="end" textLength="14.92" lengthAdjust="spacingAndGlyphs">1.15</text><text x="27.70" y="595.67" text-anchor="end" textLength="14.92" lengthAdjust="spacingAndGlyphs">1.20</text><text x="27.70" y="574.60" text-anchor="end" textLength="14.92" lengthAdjust="spacingAndGlyphs">1.25</text><text x="33.50" y="666.80" text-anchor="middle" textLength="4.26" lengthAdjust="spacingAndGlyphs">0</text><text x="56.33" y="666.80" text-anchor="middle" textLength="12.79" lengthAdjust="spacingAndGlyphs">250</text><text x="79.17" y="666.80" text-anchor="middle" textLength="12.79" lengthAdjust="spacingAndGlyphs">500</text><text x="102.00" y="666.80" text-anchor="middle" textLength="12.79" lengthAdjust="spacingAndGlyphs">750</text><text x="141.40" y="666.80" text-anchor="middle" textLength="12.79" lengthAdjust="spacingAndGlyphs">500</text><text x="164.20" y="666.80" text-anchor="middle" textLength="17.05" lengthAdjust="spacingAndGlyphs">1000</text><text x="187.00" y="666.80" text-anchor="middle" textLength="17.05" lengthAdjust="spacingAndGlyphs">1500</text><text x="233.30" y="666.80" text-anchor="middle" textLength="4.26" lengthAdjust="spacingAndGlyphs">2</text><text x="268.50" y="666.80" text-anchor="middle" textLength="4.26" lengthAdjust="spacingAndGlyphs">4</text><text x="298.50" y="666.80" text-anchor="middle" textLength="4.26" lengthAdjust="spacingAndGlyphs">0</text><text x="323.27" y="666.80" text-anchor="middle" textLength="8.53" lengthAdjust="spacingAndGlyphs">20</text><text x="348.03" y="666.80" text-anchor="middle" textLength="8.53" lengthAdjust="spacingAndGlyphs">40</text><text x="372.80" y="666.80" text-anchor="middle" textLength="8.53" lengthAdjust="spacingAndGlyphs">60</text><text x="411.40" y="666.80" text-anchor="middle" textLength="4.26" lengthAdjust="spacingAndGlyphs">2</text><text x="441.55" y="666.80" text-anchor="middle" textLength="4.26" lengthAdjust="spacingAndGlyphs">3</text><text x="471.70" y="666.80" text-anchor="middle" textLength="4.26" lengthAdjust="spacingAndGlyphs">4</text><text x="476.40" y="666.80" text-anchor="middle" textLength="12.79" lengthAdjust="spacingAndGlyphs">100</text><text x="513.90" y="666.80" text-anchor="middle" textLength="12.79" lengthAdjust="spacingAndGlyphs">200</text><text x="551.40" y="666.80" text-anchor="middle" textLength="12.79" lengthAdjust="spacingAndGlyphs">300</text><text x="567.70" y="666.80" text-anchor="middle" textLength="10.66" lengthAdjust="spacingAndGlyphs">1.0</text><text x="592.57" y="666.80" text-anchor="middle" textLength="10.66" lengthAdjust="spacingAndGlyphs">1.1</text><text x="617.43" y="666.80" text-anchor="middle" textLength="10.66" lengthAdjust="spacingAndGlyphs">1.2</text><text x="642.30" y="666.80" text-anchor="middle" textLength="10.66" lengthAdjust="spacingAndGlyphs">1.3</text><text x="74.80" y="675.80" text-anchor="middle" textLength="68.05" lengthAdjust="spacingAndGlyphs">Yield Strength (MPa)</text><text x="163.40" y="675.80" text-anchor="middle" textLength="52.33" lengthAdjust="spacingAndGlyphs">UTS_True (Mpa)</text><text x="252.00" y="675.80" text-anchor="middle" textLength="23.85" lengthAdjust="spacingAndGlyphs">UTS/YS</text><text x="340.60" y="675.80" text-anchor="middle" textLength="39.86" lengthAdjust="spacingAndGlyphs">Elong_T (%)</text><text x="429.20" y="675.80" text-anchor="middle" textLength="68.89" lengthAdjust="spacingAndGlyphs">Hardness (GPa) SRJT</text><text x="517.80" y="675.80" text-anchor="middle" textLength="65.48" lengthAdjust="spacingAndGlyphs">Modulus (GPa) SRJT</text><text x="606.40" y="675.80" text-anchor="middle" textLength="50.30" lengthAdjust="spacingAndGlyphs">Avg HDYN/HQS</text><text x="10.30" y="44.95" text-anchor="middle" textLength="68.05" lengthAdjust="spacingAndGlyphs" transform="rotate(-90 10.30 44.95)">Yield Strength (MPa)</text><text x="7.10" y="139.43" text-anchor="middle" textLength="52.33" lengthAdjust="spacingAndGlyphs" transform="rotate(-90 7.10 139.43)">UTS_True (Mpa)</text><text x="20.40" y="233.91" text-anchor="middle" textLength="23.85" lengthAdjust="spacingAndGlyphs" transform="rotate(-90 20.40 233.91)">UTS/YS</text><text x="15.30" y="328.39" text-anchor="middle" textLength="39.86" lengthAdjust="spacingAndGlyphs" transform="rotate(-90 15.30 328.39)">Elong_T (%)</text><text x="13.70" y="422.87" text-anchor="middle" textLength="68.89" lengthAdjust="spacingAndGlyphs" transform="rotate(-90 13.70 422.87)">Hardness (GPa) SRJT</text><text x="11.30" y="517.35" text-anchor="middle" textLength="65.48" lengthAdjust="spacingAndGlyphs" transform="rotate(-90 11.30 517.35)">Modulus (GPa) SRJT</text><text x="9.20" y="611.83" text-anchor="middle" textLength="50.30" lengthAdjust="spacingAndGlyphs" transform="rotate(-90 9.20 611.83)">Avg HDYN/HQS</text></g><g fill="#1a1a1a" stroke="#1a1a1a" stroke-width="0.15" font-size="7.8"><text x="665.70" y="294.20" text-anchor="middle" textLength="20.40" lengthAdjust="spacingAndGlyphs">Group</text><circle cx="654.3" cy="301.40" r="2.1" fill="#dde1e4" stroke="none"/><text x="666.80" y="303.80" text-anchor="start" textLength="17.48" lengthAdjust="spacingAndGlyphs">None</text><circle cx="654.3" cy="311.50" r="2.1" fill="#8c564b" stroke="none"/><text x="666.80" y="313.90" text-anchor="start" textLength="6.44" lengthAdjust="spacingAndGlyphs">Al</text><circle cx="654.3" cy="321.60" r="2.1" fill="#d62728" stroke="none"/><text x="666.80" y="324.00" text-anchor="start" textLength="8.78" lengthAdjust="spacingAndGlyphs">Co</text><circle cx="654.3" cy="331.70" r="2.1" fill="#3e7dbe" stroke="none"/><text x="666.80" y="334.10" text-anchor="start" textLength="7.43" lengthAdjust="spacingAndGlyphs">Cr</text><circle cx="654.3" cy="341.80" r="2.1" fill="#55cdd5" stroke="none"/><text x="666.80" y="344.20" text-anchor="start" textLength="8.92" lengthAdjust="spacingAndGlyphs">Cu</text><circle cx="654.3" cy="351.90" r="2.1" fill="#3caa3c" stroke="none"/><text x="666.80" y="354.30" text-anchor="start" textLength="7.61" lengthAdjust="spacingAndGlyphs">Fe</text><circle cx="654.3" cy="362.00" r="2.1" fill="#f5822a" stroke="none"/><text x="666.80" y="364.40" text-anchor="start" textLength="10.03" lengthAdjust="spacingAndGlyphs">Mn</text><circle cx="654.3" cy="372.10" r="2.1" fill="#8c64c8" stroke="none"/><text x="666.80" y="374.50" text-anchor="start" textLength="6.87" lengthAdjust="spacingAndGlyphs">Ni</text><circle cx="654.3" cy="382.20" r="2.1" fill="#e070d6" stroke="none"/><text x="666.80" y="384.60" text-anchor="start" textLength="4.58" lengthAdjust="spacingAndGlyphs">V</text></g></svg></body></html>
